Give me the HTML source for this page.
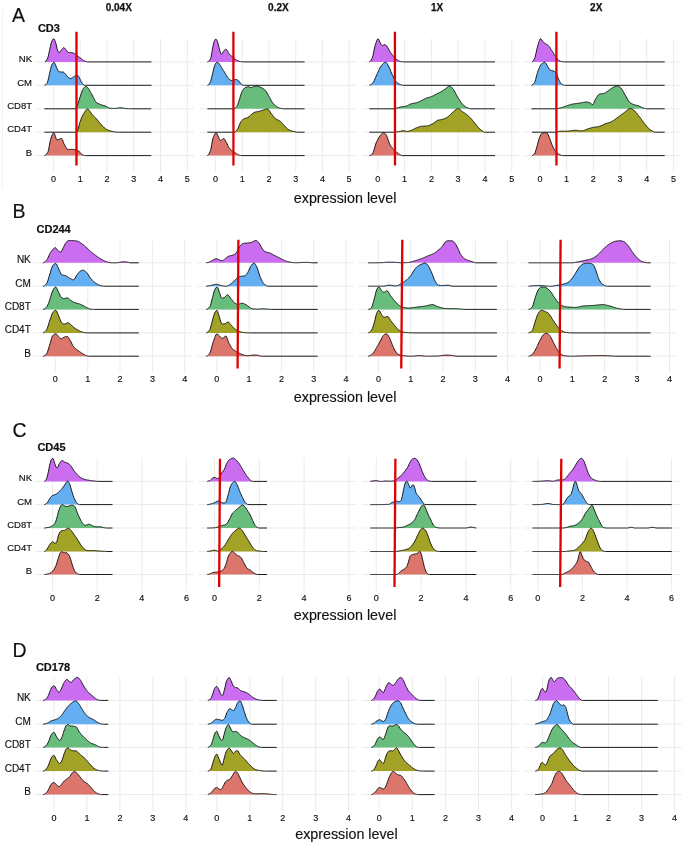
<!DOCTYPE html><html><head><meta charset="utf-8"><style>html,body{margin:0;padding:0;background:#fff;width:685px;height:845px;overflow:hidden;}svg{display:block;will-change:transform;}text{font-family:"Liberation Sans",sans-serif;}</style></head><body>
<svg width="685" height="845" viewBox="0 0 685 845">
<rect width="685" height="845" fill="#fff"/>
<line x1="2.5" y1="10" x2="2.5" y2="188" stroke="#f2f2f2" stroke-width="1"/>
<text x="118.8" y="11.0" font-size="10" font-weight="bold" text-anchor="middle" fill="#111" stroke="#111" stroke-width="0.25">0.04X</text>
<text x="278.4" y="11.0" font-size="10" font-weight="bold" text-anchor="middle" fill="#111" stroke="#111" stroke-width="0.25">0.2X</text>
<text x="437.1" y="11.0" font-size="10" font-weight="bold" text-anchor="middle" fill="#111" stroke="#111" stroke-width="0.25">1X</text>
<text x="596.2" y="11.0" font-size="10" font-weight="bold" text-anchor="middle" fill="#111" stroke="#111" stroke-width="0.25">2X</text>
<text x="12.1" y="21.7" font-size="19.5" fill="#111" stroke="#111" stroke-width="0.15">A</text>
<text x="37.9" y="32.3" font-size="11" font-weight="bold" fill="#111" stroke="#111" stroke-width="0.2">CD3</text>
<text x="32.0" y="62.0" font-size="9.5" text-anchor="end" fill="#111" stroke="#111" stroke-width="0.15">NK</text>
<text x="32.0" y="85.5" font-size="9.5" text-anchor="end" fill="#111" stroke="#111" stroke-width="0.15">CM</text>
<text x="32.0" y="108.9" font-size="9.5" text-anchor="end" fill="#111" stroke="#111" stroke-width="0.15">CD8T</text>
<text x="32.0" y="132.35" font-size="9.5" text-anchor="end" fill="#111" stroke="#111" stroke-width="0.15">CD4T</text>
<text x="32.0" y="155.75" font-size="9.5" text-anchor="end" fill="#111" stroke="#111" stroke-width="0.15">B</text>
<text x="293.8" y="203.4" font-size="14.3" fill="#111" stroke="#111" stroke-width="0.15">expression level</text>
<path d="M35.1 61.9H193.9 M35.1 85.3H193.9 M35.1 108.8H193.9 M35.1 132.2H193.9 M35.1 155.6H193.9 M53.4 38.7V172.4 M80.2 38.7V172.4 M107 38.7V172.4 M133.7 38.7V172.4 M160.5 38.7V172.4 M187.3 38.7V172.4" stroke="#ebebeb" stroke-width="1" fill="none"/>
<text x="53.4" y="181.7" font-size="9" text-anchor="middle" fill="#111" stroke="#111" stroke-width="0.15">0</text>
<text x="80.2" y="181.7" font-size="9" text-anchor="middle" fill="#111" stroke="#111" stroke-width="0.15">1</text>
<text x="107" y="181.7" font-size="9" text-anchor="middle" fill="#111" stroke="#111" stroke-width="0.15">2</text>
<text x="133.7" y="181.7" font-size="9" text-anchor="middle" fill="#111" stroke="#111" stroke-width="0.15">3</text>
<text x="160.5" y="181.7" font-size="9" text-anchor="middle" fill="#111" stroke="#111" stroke-width="0.15">4</text>
<text x="187.3" y="181.7" font-size="9" text-anchor="middle" fill="#111" stroke="#111" stroke-width="0.15">5</text>
<path d="M44.8 61.9 L44.8 61.9 L45.4 61.6 L46 61 L46.6 60.1 L47.3 59.1 L47.9 57.6 L48.5 55.2 L49.1 52.3 L49.7 49.6 L50.3 46.6 L51 43.7 L51.6 41.8 L52.2 40.4 L52.8 39.4 L53.4 38.8 L54 39 L54.7 40.1 L55.3 41.7 L55.9 43.4 L56.5 46 L57.1 48.8 L57.7 50.8 L58.4 52.3 L59 52.7 L59.6 52.3 L60.2 51.5 L60.8 50.5 L61.4 49.7 L62 49.1 L62.7 48.4 L63.3 47.8 L63.9 47.7 L64.5 48 L65.1 48.7 L65.7 49.5 L66.4 50.2 L67 51 L67.6 51.8 L68.2 52.4 L68.8 52.5 L69.4 52.5 L70.1 52.5 L70.7 52.5 L71.3 52.6 L71.9 52.7 L72.5 52.8 L73.1 53 L73.7 53.2 L74.4 53.5 L75 53.9 L75.6 54.4 L76.2 54.9 L76.8 55.4 L77.4 55.8 L78.1 56.3 L78.7 56.7 L79.3 57.2 L79.9 57.7 L80.5 58.1 L81.1 58.6 L81.8 59.2 L82.4 59.7 L83 60.2 L83.6 60.6 L84.2 60.8 L84.8 61.1 L85.5 61.4 L86.1 61.6 L86.7 61.7 L87.3 61.9 L87.3 61.9Z" fill="#CB6DF0" stroke="none"/>
<path d="M44.8 61.9 L45.4 61.6 L46 61 L46.6 60.1 L47.3 59.1 L47.9 57.6 L48.5 55.2 L49.1 52.3 L49.7 49.6 L50.3 46.6 L51 43.7 L51.6 41.8 L52.2 40.4 L52.8 39.4 L53.4 38.8 L54 39 L54.7 40.1 L55.3 41.7 L55.9 43.4 L56.5 46 L57.1 48.8 L57.7 50.8 L58.4 52.3 L59 52.7 L59.6 52.3 L60.2 51.5 L60.8 50.5 L61.4 49.7 L62 49.1 L62.7 48.4 L63.3 47.8 L63.9 47.7 L64.5 48 L65.1 48.7 L65.7 49.5 L66.4 50.2 L67 51 L67.6 51.8 L68.2 52.4 L68.8 52.5 L69.4 52.5 L70.1 52.5 L70.7 52.5 L71.3 52.6 L71.9 52.7 L72.5 52.8 L73.1 53 L73.7 53.2 L74.4 53.5 L75 53.9 L75.6 54.4 L76.2 54.9 L76.8 55.4 L77.4 55.8 L78.1 56.3 L78.7 56.7 L79.3 57.2 L79.9 57.7 L80.5 58.1 L81.1 58.6 L81.8 59.2 L82.4 59.7 L83 60.2 L83.6 60.6 L84.2 60.8 L84.8 61.1 L85.5 61.4 L86.1 61.6 L86.7 61.7 L87.3 61.9 L151.5 61.9" fill="none" stroke="#111" stroke-width="0.95" stroke-linejoin="round"/>
<path d="M44.4 85.3 L44.4 85.3 L45 85.2 L45.6 84.8 L46.2 84.2 L46.9 83.4 L47.5 82.3 L48.1 80.2 L48.7 77.5 L49.3 74.8 L49.9 72.3 L50.5 69.5 L51.1 66.9 L51.8 65 L52.4 63.9 L53 63 L53.6 62.4 L54.2 62.3 L54.8 63.3 L55.4 64.8 L56.1 66.3 L56.7 67.7 L57.3 69.2 L57.9 70.4 L58.5 71.1 L59.1 71.5 L59.7 71.8 L60.3 72 L61 72 L61.6 72 L62.2 72 L62.8 72 L63.4 72.1 L64 72.5 L64.6 73.1 L65.3 73.9 L65.9 74.6 L66.5 75.4 L67.1 76.2 L67.7 76.9 L68.3 77.4 L68.9 77.8 L69.6 78.1 L70.2 78.4 L70.8 78.4 L71.4 78.3 L72 78 L72.6 77.6 L73.2 77.2 L73.8 76.8 L74.5 76.2 L75.1 75.7 L75.7 75.2 L76.3 74.8 L76.9 74.8 L77.5 75.1 L78.1 75.8 L78.8 76.6 L79.4 77.7 L80 79.1 L80.6 80.4 L81.2 81.6 L81.8 82.5 L82.4 83.5 L83 84.2 L83.7 84.8 L84.3 85.1 L84.9 85.3 L85.5 85.3 L85.5 85.3Z" fill="#63AFF2" stroke="none"/>
<path d="M44.4 85.3 L45 85.2 L45.6 84.8 L46.2 84.2 L46.9 83.4 L47.5 82.3 L48.1 80.2 L48.7 77.5 L49.3 74.8 L49.9 72.3 L50.5 69.5 L51.1 66.9 L51.8 65 L52.4 63.9 L53 63 L53.6 62.4 L54.2 62.3 L54.8 63.3 L55.4 64.8 L56.1 66.3 L56.7 67.7 L57.3 69.2 L57.9 70.4 L58.5 71.1 L59.1 71.5 L59.7 71.8 L60.3 72 L61 72 L61.6 72 L62.2 72 L62.8 72 L63.4 72.1 L64 72.5 L64.6 73.1 L65.3 73.9 L65.9 74.6 L66.5 75.4 L67.1 76.2 L67.7 76.9 L68.3 77.4 L68.9 77.8 L69.6 78.1 L70.2 78.4 L70.8 78.4 L71.4 78.3 L72 78 L72.6 77.6 L73.2 77.2 L73.8 76.8 L74.5 76.2 L75.1 75.7 L75.7 75.2 L76.3 74.8 L76.9 74.8 L77.5 75.1 L78.1 75.8 L78.8 76.6 L79.4 77.7 L80 79.1 L80.6 80.4 L81.2 81.6 L81.8 82.5 L82.4 83.5 L83 84.2 L83.7 84.8 L84.3 85.1 L84.9 85.3 L85.5 85.3 L151.5 85.3" fill="none" stroke="#111" stroke-width="0.95" stroke-linejoin="round"/>
<path d="M75.5 108.8 L75.5 108.8 L76.1 107.9 L76.7 106.8 L77.3 105.5 L77.9 103.8 L78.5 101.9 L79.2 99.9 L79.8 97.9 L80.4 96.1 L81 94.3 L81.6 92.4 L82.2 90.8 L82.8 89.5 L83.4 88.6 L84 87.8 L84.6 87.1 L85.3 86.6 L85.9 86.4 L86.5 86.5 L87.1 87 L87.7 87.7 L88.3 88.5 L88.9 89.3 L89.5 90.3 L90.1 91.4 L90.7 92.5 L91.4 93.6 L92 94.8 L92.6 96 L93.2 97.2 L93.8 98.3 L94.4 99.5 L95 100.7 L95.6 101.6 L96.2 102.3 L96.8 102.7 L97.5 103.1 L98.1 103.4 L98.7 103.7 L99.3 104 L99.9 104.2 L100.5 104.5 L101.1 104.7 L101.7 104.9 L102.3 105.1 L102.9 105.3 L103.6 105.5 L104.2 105.6 L104.8 105.8 L105.4 106 L106 106.3 L106.6 106.6 L107.2 107 L107.8 107.3 L108.4 107.7 L109 108 L109.7 108.2 L110.3 108.3 L110.9 108.3 L111.5 108.3 L112.1 108.4 L112.7 108.4 L113.3 108.4 L113.9 108.4 L114.5 108.4 L115.1 108.4 L115.8 108.4 L116.4 108.3 L117 108.3 L117.6 108.1 L118.2 108 L118.8 107.9 L119.4 107.8 L120 107.8 L120.6 107.8 L121.2 107.8 L121.9 107.8 L122.5 107.9 L123.1 108.1 L123.7 108.2 L124.3 108.3 L124.9 108.4 L125.5 108.5 L126.1 108.6 L126.7 108.6 L127.3 108.6 L128 108.7 L128.6 108.7 L129.2 108.7 L129.8 108.7 L130.4 108.7 L131 108.8 L131 108.8Z" fill="#68BD7D" stroke="none"/>
<path d="M44.4 108.8 L75.5 108.8 L76.1 107.9 L76.7 106.8 L77.3 105.5 L77.9 103.8 L78.5 101.9 L79.2 99.9 L79.8 97.9 L80.4 96.1 L81 94.3 L81.6 92.4 L82.2 90.8 L82.8 89.5 L83.4 88.6 L84 87.8 L84.6 87.1 L85.3 86.6 L85.9 86.4 L86.5 86.5 L87.1 87 L87.7 87.7 L88.3 88.5 L88.9 89.3 L89.5 90.3 L90.1 91.4 L90.7 92.5 L91.4 93.6 L92 94.8 L92.6 96 L93.2 97.2 L93.8 98.3 L94.4 99.5 L95 100.7 L95.6 101.6 L96.2 102.3 L96.8 102.7 L97.5 103.1 L98.1 103.4 L98.7 103.7 L99.3 104 L99.9 104.2 L100.5 104.5 L101.1 104.7 L101.7 104.9 L102.3 105.1 L102.9 105.3 L103.6 105.5 L104.2 105.6 L104.8 105.8 L105.4 106 L106 106.3 L106.6 106.6 L107.2 107 L107.8 107.3 L108.4 107.7 L109 108 L109.7 108.2 L110.3 108.3 L110.9 108.3 L111.5 108.3 L112.1 108.4 L112.7 108.4 L113.3 108.4 L113.9 108.4 L114.5 108.4 L115.1 108.4 L115.8 108.4 L116.4 108.3 L117 108.3 L117.6 108.1 L118.2 108 L118.8 107.9 L119.4 107.8 L120 107.8 L120.6 107.8 L121.2 107.8 L121.9 107.8 L122.5 107.9 L123.1 108.1 L123.7 108.2 L124.3 108.3 L124.9 108.4 L125.5 108.5 L126.1 108.6 L126.7 108.6 L127.3 108.6 L128 108.7 L128.6 108.7 L129.2 108.7 L129.8 108.7 L130.4 108.7 L131 108.8 L151.2 108.8" fill="none" stroke="#111" stroke-width="0.95" stroke-linejoin="round"/>
<path d="M76.5 132.2 L76.5 132.2 L77.1 131.2 L77.7 129.9 L78.3 128.1 L79 125.7 L79.6 123.4 L80.2 121.5 L80.8 119.9 L81.4 118.3 L82 116.8 L82.6 115.5 L83.2 114.3 L83.9 113.2 L84.5 112.3 L85.1 111.3 L85.7 110.4 L86.3 109.7 L86.9 109.1 L87.5 108.9 L88.1 109.1 L88.8 109.8 L89.4 110.7 L90 111.5 L90.6 112.3 L91.2 113.1 L91.8 114 L92.4 114.8 L93.1 115.5 L93.7 116.1 L94.3 116.7 L94.9 117.3 L95.5 117.9 L96.1 118.5 L96.7 119.2 L97.3 119.9 L98 120.7 L98.6 121.5 L99.2 122.2 L99.8 123 L100.4 123.7 L101 124.4 L101.6 125 L102.2 125.7 L102.9 126.3 L103.5 126.9 L104.1 127.5 L104.7 128.1 L105.3 128.6 L105.9 129 L106.5 129.4 L107.2 129.7 L107.8 130 L108.4 130.2 L109 130.5 L109.6 130.7 L110.2 130.9 L110.8 131.1 L111.4 131.2 L112.1 131.3 L112.7 131.5 L113.3 131.6 L113.9 131.7 L114.5 131.8 L115.1 131.9 L115.7 132 L116.3 132.1 L117 132.1 L117.6 132.2 L118.2 132.2 L118.8 132.2 L118.8 132.2Z" fill="#A2A326" stroke="none"/>
<path d="M44.4 132.2 L76.5 132.2 L77.1 131.2 L77.7 129.9 L78.3 128.1 L79 125.7 L79.6 123.4 L80.2 121.5 L80.8 119.9 L81.4 118.3 L82 116.8 L82.6 115.5 L83.2 114.3 L83.9 113.2 L84.5 112.3 L85.1 111.3 L85.7 110.4 L86.3 109.7 L86.9 109.1 L87.5 108.9 L88.1 109.1 L88.8 109.8 L89.4 110.7 L90 111.5 L90.6 112.3 L91.2 113.1 L91.8 114 L92.4 114.8 L93.1 115.5 L93.7 116.1 L94.3 116.7 L94.9 117.3 L95.5 117.9 L96.1 118.5 L96.7 119.2 L97.3 119.9 L98 120.7 L98.6 121.5 L99.2 122.2 L99.8 123 L100.4 123.7 L101 124.4 L101.6 125 L102.2 125.7 L102.9 126.3 L103.5 126.9 L104.1 127.5 L104.7 128.1 L105.3 128.6 L105.9 129 L106.5 129.4 L107.2 129.7 L107.8 130 L108.4 130.2 L109 130.5 L109.6 130.7 L110.2 130.9 L110.8 131.1 L111.4 131.2 L112.1 131.3 L112.7 131.5 L113.3 131.6 L113.9 131.7 L114.5 131.8 L115.1 131.9 L115.7 132 L116.3 132.1 L117 132.1 L117.6 132.2 L118.2 132.2 L118.8 132.2 L151.2 132.2" fill="none" stroke="#111" stroke-width="0.95" stroke-linejoin="round"/>
<path d="M44.4 155.6 L44.4 155.6 L45 155.5 L45.6 155.1 L46.2 154.5 L46.8 153.7 L47.5 152.7 L48.1 151.6 L48.7 149.2 L49.3 145.8 L49.9 142.3 L50.5 139.7 L51.1 137.9 L51.7 136.1 L52.4 134.5 L53 133.3 L53.6 132.8 L54.2 133.2 L54.8 134.6 L55.4 136.5 L56 138.3 L56.6 139.6 L57.2 139.8 L57.9 139.7 L58.5 139.5 L59.1 139.2 L59.7 138.9 L60.3 138.7 L60.9 138.5 L61.5 138.5 L62.1 139.2 L62.8 140.6 L63.4 142.3 L64 143.9 L64.6 145.1 L65.2 146.2 L65.8 147.2 L66.4 148.1 L67 148.9 L67.6 149.3 L68.3 149.4 L68.9 149.4 L69.5 149.4 L70.1 149.4 L70.7 149.4 L71.3 149.4 L71.9 149.4 L72.5 149.4 L73.2 149.4 L73.8 149.4 L74.4 149.5 L75 149.6 L75.6 149.7 L76.2 149.8 L76.8 150 L77.4 150.2 L78 150.5 L78.7 151 L79.3 151.7 L79.9 152.5 L80.5 153.2 L81.1 153.7 L81.7 154.1 L82.3 154.5 L82.9 154.9 L83.6 155.2 L84.2 155.4 L84.8 155.5 L85.4 155.6 L86 155.6 L86 155.6Z" fill="#DC756B" stroke="none"/>
<path d="M44.4 155.6 L45 155.5 L45.6 155.1 L46.2 154.5 L46.8 153.7 L47.5 152.7 L48.1 151.6 L48.7 149.2 L49.3 145.8 L49.9 142.3 L50.5 139.7 L51.1 137.9 L51.7 136.1 L52.4 134.5 L53 133.3 L53.6 132.8 L54.2 133.2 L54.8 134.6 L55.4 136.5 L56 138.3 L56.6 139.6 L57.2 139.8 L57.9 139.7 L58.5 139.5 L59.1 139.2 L59.7 138.9 L60.3 138.7 L60.9 138.5 L61.5 138.5 L62.1 139.2 L62.8 140.6 L63.4 142.3 L64 143.9 L64.6 145.1 L65.2 146.2 L65.8 147.2 L66.4 148.1 L67 148.9 L67.6 149.3 L68.3 149.4 L68.9 149.4 L69.5 149.4 L70.1 149.4 L70.7 149.4 L71.3 149.4 L71.9 149.4 L72.5 149.4 L73.2 149.4 L73.8 149.4 L74.4 149.5 L75 149.6 L75.6 149.7 L76.2 149.8 L76.8 150 L77.4 150.2 L78 150.5 L78.7 151 L79.3 151.7 L79.9 152.5 L80.5 153.2 L81.1 153.7 L81.7 154.1 L82.3 154.5 L82.9 154.9 L83.6 155.2 L84.2 155.4 L84.8 155.5 L85.4 155.6 L86 155.6 L151.2 155.6" fill="none" stroke="#111" stroke-width="0.95" stroke-linejoin="round"/>
<line x1="76.45" y1="31.8" x2="76.5" y2="165.6" stroke="#dd0000" stroke-width="2.3"/>
<path d="M199.9 61.9H356.4 M199.9 85.3H356.4 M199.9 108.8H356.4 M199.9 132.2H356.4 M199.9 155.6H356.4 M215.6 38.7V172.4 M242.3 38.7V172.4 M269 38.7V172.4 M295.7 38.7V172.4 M322.4 38.7V172.4 M349.1 38.7V172.4" stroke="#ebebeb" stroke-width="1" fill="none"/>
<text x="215.6" y="181.7" font-size="9" text-anchor="middle" fill="#111" stroke="#111" stroke-width="0.15">0</text>
<text x="242.3" y="181.7" font-size="9" text-anchor="middle" fill="#111" stroke="#111" stroke-width="0.15">1</text>
<text x="269" y="181.7" font-size="9" text-anchor="middle" fill="#111" stroke="#111" stroke-width="0.15">2</text>
<text x="295.7" y="181.7" font-size="9" text-anchor="middle" fill="#111" stroke="#111" stroke-width="0.15">3</text>
<text x="322.4" y="181.7" font-size="9" text-anchor="middle" fill="#111" stroke="#111" stroke-width="0.15">4</text>
<text x="349.1" y="181.7" font-size="9" text-anchor="middle" fill="#111" stroke="#111" stroke-width="0.15">5</text>
<path d="M207.4 61.9 L207.4 61.9 L208 61.7 L208.6 61.3 L209.2 60.7 L209.8 59.9 L210.5 58.9 L211.1 56.9 L211.7 53.6 L212.3 49.9 L212.9 46.8 L213.5 43.8 L214.1 41.5 L214.7 40.2 L215.4 39.3 L216 39.1 L216.6 39.7 L217.2 40.8 L217.8 42.6 L218.4 44.9 L219 47.5 L219.6 50.1 L220.3 52.1 L220.9 53.8 L221.5 54.4 L222.1 53.8 L222.7 52.7 L223.3 51.6 L223.9 50.8 L224.5 50.1 L225.2 49.5 L225.8 49.3 L226.4 49.5 L227 50.3 L227.6 51.2 L228.2 52.4 L228.8 53.5 L229.4 54.3 L230 54.9 L230.7 55.4 L231.3 55.9 L231.9 56.3 L232.5 56.8 L233.1 57.4 L233.7 57.9 L234.3 58.5 L234.9 59 L235.6 59.5 L236.2 59.9 L236.8 60.2 L237.4 60.5 L238 60.8 L238.6 61.1 L239.2 61.3 L239.8 61.4 L240.5 61.5 L241.1 61.7 L241.7 61.7 L242.3 61.8 L242.9 61.9 L242.9 61.9Z" fill="#CB6DF0" stroke="none"/>
<path d="M207.4 61.9 L208 61.7 L208.6 61.3 L209.2 60.7 L209.8 59.9 L210.5 58.9 L211.1 56.9 L211.7 53.6 L212.3 49.9 L212.9 46.8 L213.5 43.8 L214.1 41.5 L214.7 40.2 L215.4 39.3 L216 39.1 L216.6 39.7 L217.2 40.8 L217.8 42.6 L218.4 44.9 L219 47.5 L219.6 50.1 L220.3 52.1 L220.9 53.8 L221.5 54.4 L222.1 53.8 L222.7 52.7 L223.3 51.6 L223.9 50.8 L224.5 50.1 L225.2 49.5 L225.8 49.3 L226.4 49.5 L227 50.3 L227.6 51.2 L228.2 52.4 L228.8 53.5 L229.4 54.3 L230 54.9 L230.7 55.4 L231.3 55.9 L231.9 56.3 L232.5 56.8 L233.1 57.4 L233.7 57.9 L234.3 58.5 L234.9 59 L235.6 59.5 L236.2 59.9 L236.8 60.2 L237.4 60.5 L238 60.8 L238.6 61.1 L239.2 61.3 L239.8 61.4 L240.5 61.5 L241.1 61.7 L241.7 61.7 L242.3 61.8 L242.9 61.9 L304.6 61.9" fill="none" stroke="#111" stroke-width="0.95" stroke-linejoin="round"/>
<path d="M207.4 85.3 L207.4 85.3 L208 85.1 L208.6 84.6 L209.3 83.8 L209.9 82.7 L210.5 81.6 L211.1 79.9 L211.7 77.5 L212.3 74.9 L213 72.2 L213.6 69.2 L214.2 67 L214.8 65.2 L215.4 63.8 L216 63 L216.7 62.5 L217.3 62.3 L217.9 62.4 L218.5 62.9 L219.1 63.7 L219.7 64.5 L220.4 65.5 L221 66.6 L221.6 67.6 L222.2 68.6 L222.8 69.6 L223.4 70.6 L224.1 71.5 L224.7 72.5 L225.3 73.5 L225.9 74.5 L226.5 75.6 L227.1 76.6 L227.8 77.6 L228.4 78.5 L229 79 L229.6 79.5 L230.2 79.9 L230.8 80.2 L231.5 80.5 L232.1 80.6 L232.7 80.6 L233.3 80.4 L233.9 80.2 L234.5 79.8 L235.2 79.6 L235.8 79.5 L236.4 79.5 L237 79.7 L237.6 80.1 L238.2 80.5 L238.9 81 L239.5 81.7 L240.1 82.6 L240.7 83.4 L241.3 84.1 L241.9 84.7 L242.6 85.1 L243.2 85.3 L243.8 85.3 L243.8 85.3Z" fill="#63AFF2" stroke="none"/>
<path d="M207.4 85.3 L208 85.1 L208.6 84.6 L209.3 83.8 L209.9 82.7 L210.5 81.6 L211.1 79.9 L211.7 77.5 L212.3 74.9 L213 72.2 L213.6 69.2 L214.2 67 L214.8 65.2 L215.4 63.8 L216 63 L216.7 62.5 L217.3 62.3 L217.9 62.4 L218.5 62.9 L219.1 63.7 L219.7 64.5 L220.4 65.5 L221 66.6 L221.6 67.6 L222.2 68.6 L222.8 69.6 L223.4 70.6 L224.1 71.5 L224.7 72.5 L225.3 73.5 L225.9 74.5 L226.5 75.6 L227.1 76.6 L227.8 77.6 L228.4 78.5 L229 79 L229.6 79.5 L230.2 79.9 L230.8 80.2 L231.5 80.5 L232.1 80.6 L232.7 80.6 L233.3 80.4 L233.9 80.2 L234.5 79.8 L235.2 79.6 L235.8 79.5 L236.4 79.5 L237 79.7 L237.6 80.1 L238.2 80.5 L238.9 81 L239.5 81.7 L240.1 82.6 L240.7 83.4 L241.3 84.1 L241.9 84.7 L242.6 85.1 L243.2 85.3 L243.8 85.3 L304.6 85.3" fill="none" stroke="#111" stroke-width="0.95" stroke-linejoin="round"/>
<path d="M234.2 108.8 L234.2 108.8 L234.8 108.6 L235.4 108.1 L236 107.5 L236.6 106.8 L237.2 105.8 L237.9 104.3 L238.5 102.4 L239.1 100.5 L239.7 98.7 L240.3 96.7 L240.9 94.6 L241.5 92.7 L242.1 91.5 L242.7 90.5 L243.3 89.6 L243.9 88.8 L244.5 88.1 L245.2 87.6 L245.8 87.3 L246.4 87.1 L247 87 L247.6 86.9 L248.2 86.8 L248.8 86.8 L249.4 86.8 L250 87.3 L250.6 87.6 L251.2 87.6 L251.8 87.4 L252.5 87.1 L253.1 86.9 L253.7 86.7 L254.3 86.5 L254.9 86.3 L255.5 86.1 L256.1 86.1 L256.7 86.1 L257.3 86.1 L257.9 86.3 L258.5 86.5 L259.1 86.7 L259.8 87 L260.4 87.2 L261 87.5 L261.6 87.8 L262.2 88.1 L262.8 88.4 L263.4 88.8 L264 89.2 L264.6 89.7 L265.2 90.3 L265.8 91.1 L266.5 92 L267.1 93.1 L267.7 94.2 L268.3 95.3 L268.9 96.3 L269.5 97.3 L270.1 98.4 L270.7 99.5 L271.3 100.6 L271.9 101.6 L272.5 102.6 L273.1 103.4 L273.8 104.1 L274.4 104.7 L275 105.3 L275.6 105.9 L276.2 106.3 L276.8 106.8 L277.4 107.1 L278 107.5 L278.6 107.7 L279.2 108 L279.8 108.2 L280.4 108.3 L281.1 108.5 L281.7 108.5 L282.3 108.6 L282.9 108.7 L283.5 108.7 L284.1 108.8 L284.1 108.8Z" fill="#68BD7D" stroke="none"/>
<path d="M207.4 108.8 L234.2 108.8 L234.8 108.6 L235.4 108.1 L236 107.5 L236.6 106.8 L237.2 105.8 L237.9 104.3 L238.5 102.4 L239.1 100.5 L239.7 98.7 L240.3 96.7 L240.9 94.6 L241.5 92.7 L242.1 91.5 L242.7 90.5 L243.3 89.6 L243.9 88.8 L244.5 88.1 L245.2 87.6 L245.8 87.3 L246.4 87.1 L247 87 L247.6 86.9 L248.2 86.8 L248.8 86.8 L249.4 86.8 L250 87.3 L250.6 87.6 L251.2 87.6 L251.8 87.4 L252.5 87.1 L253.1 86.9 L253.7 86.7 L254.3 86.5 L254.9 86.3 L255.5 86.1 L256.1 86.1 L256.7 86.1 L257.3 86.1 L257.9 86.3 L258.5 86.5 L259.1 86.7 L259.8 87 L260.4 87.2 L261 87.5 L261.6 87.8 L262.2 88.1 L262.8 88.4 L263.4 88.8 L264 89.2 L264.6 89.7 L265.2 90.3 L265.8 91.1 L266.5 92 L267.1 93.1 L267.7 94.2 L268.3 95.3 L268.9 96.3 L269.5 97.3 L270.1 98.4 L270.7 99.5 L271.3 100.6 L271.9 101.6 L272.5 102.6 L273.1 103.4 L273.8 104.1 L274.4 104.7 L275 105.3 L275.6 105.9 L276.2 106.3 L276.8 106.8 L277.4 107.1 L278 107.5 L278.6 107.7 L279.2 108 L279.8 108.2 L280.4 108.3 L281.1 108.5 L281.7 108.5 L282.3 108.6 L282.9 108.7 L283.5 108.7 L284.1 108.8 L304.6 108.8" fill="none" stroke="#111" stroke-width="0.95" stroke-linejoin="round"/>
<path d="M235 132.2 L235 132.2 L235.6 131.7 L236.2 131 L236.8 130.3 L237.4 129.4 L238 128.4 L238.6 127.1 L239.2 125.5 L239.9 123.9 L240.5 122.4 L241.1 121.4 L241.7 120.7 L242.3 120.1 L242.9 119.6 L243.5 119.2 L244.1 118.8 L244.7 118.5 L245.3 118.3 L245.9 118.1 L246.5 118 L247.1 117.8 L247.7 117.5 L248.3 117.1 L249 116.6 L249.6 116 L250.2 115.5 L250.8 115 L251.4 114.5 L252 114 L252.6 113.5 L253.2 113 L253.8 112.6 L254.4 112.4 L255 112.2 L255.6 112 L256.2 111.9 L256.8 111.8 L257.4 111.6 L258.1 111.5 L258.7 111.4 L259.3 111.3 L259.9 111.1 L260.5 110.9 L261.1 110.7 L261.7 110.5 L262.3 110.3 L262.9 110.2 L263.5 110 L264.1 109.8 L264.7 109.5 L265.3 109.3 L265.9 109.1 L266.6 109 L267.2 108.9 L267.8 109 L268.4 109.5 L269 110.2 L269.6 111.2 L270.2 112.1 L270.8 113 L271.4 113.8 L272 114.6 L272.6 115.4 L273.2 116.2 L273.8 117 L274.4 117.7 L275 118.3 L275.7 118.8 L276.3 119.2 L276.9 119.5 L277.5 119.8 L278.1 120.1 L278.7 120.3 L279.3 120.7 L279.9 121 L280.5 121.4 L281.1 122 L281.7 122.6 L282.3 123.3 L282.9 124.1 L283.5 124.9 L284.1 125.5 L284.8 126.2 L285.4 126.9 L286 127.6 L286.6 128.2 L287.2 128.7 L287.8 129.1 L288.4 129.5 L289 129.8 L289.6 130.1 L290.2 130.4 L290.8 130.6 L291.4 130.9 L292 131.1 L292.6 131.2 L293.2 131.4 L293.9 131.5 L294.5 131.7 L295.1 131.8 L295.7 131.9 L296.3 132 L296.9 132.1 L297.5 132.2 L298.1 132.2 L298.1 132.2Z" fill="#A2A326" stroke="none"/>
<path d="M207.4 132.2 L235 132.2 L235.6 131.7 L236.2 131 L236.8 130.3 L237.4 129.4 L238 128.4 L238.6 127.1 L239.2 125.5 L239.9 123.9 L240.5 122.4 L241.1 121.4 L241.7 120.7 L242.3 120.1 L242.9 119.6 L243.5 119.2 L244.1 118.8 L244.7 118.5 L245.3 118.3 L245.9 118.1 L246.5 118 L247.1 117.8 L247.7 117.5 L248.3 117.1 L249 116.6 L249.6 116 L250.2 115.5 L250.8 115 L251.4 114.5 L252 114 L252.6 113.5 L253.2 113 L253.8 112.6 L254.4 112.4 L255 112.2 L255.6 112 L256.2 111.9 L256.8 111.8 L257.4 111.6 L258.1 111.5 L258.7 111.4 L259.3 111.3 L259.9 111.1 L260.5 110.9 L261.1 110.7 L261.7 110.5 L262.3 110.3 L262.9 110.2 L263.5 110 L264.1 109.8 L264.7 109.5 L265.3 109.3 L265.9 109.1 L266.6 109 L267.2 108.9 L267.8 109 L268.4 109.5 L269 110.2 L269.6 111.2 L270.2 112.1 L270.8 113 L271.4 113.8 L272 114.6 L272.6 115.4 L273.2 116.2 L273.8 117 L274.4 117.7 L275 118.3 L275.7 118.8 L276.3 119.2 L276.9 119.5 L277.5 119.8 L278.1 120.1 L278.7 120.3 L279.3 120.7 L279.9 121 L280.5 121.4 L281.1 122 L281.7 122.6 L282.3 123.3 L282.9 124.1 L283.5 124.9 L284.1 125.5 L284.8 126.2 L285.4 126.9 L286 127.6 L286.6 128.2 L287.2 128.7 L287.8 129.1 L288.4 129.5 L289 129.8 L289.6 130.1 L290.2 130.4 L290.8 130.6 L291.4 130.9 L292 131.1 L292.6 131.2 L293.2 131.4 L293.9 131.5 L294.5 131.7 L295.1 131.8 L295.7 131.9 L296.3 132 L296.9 132.1 L297.5 132.2 L298.1 132.2 L304.6 132.2" fill="none" stroke="#111" stroke-width="0.95" stroke-linejoin="round"/>
<path d="M207.4 155.6 L207.4 155.6 L208 155.3 L208.6 154.5 L209.2 153.3 L209.9 151.9 L210.5 150.4 L211.1 148.1 L211.7 144.7 L212.3 141.2 L212.9 138.5 L213.5 136.9 L214.2 135.4 L214.8 134.1 L215.4 133.2 L216 132.8 L216.6 133.1 L217.2 134.2 L217.8 135.7 L218.5 137.2 L219.1 138.3 L219.7 139.5 L220.3 140.4 L220.9 140.6 L221.5 140.2 L222.1 139.6 L222.8 138.9 L223.4 138.5 L224 138.5 L224.6 139.2 L225.2 140.3 L225.8 141.5 L226.5 142.7 L227.1 143.9 L227.7 145.3 L228.3 146.6 L228.9 147.6 L229.5 148.4 L230.1 149.1 L230.8 149.7 L231.4 150.3 L232 150.8 L232.6 151.2 L233.2 151.7 L233.8 152.1 L234.4 152.4 L235.1 152.8 L235.7 153.1 L236.3 153.5 L236.9 153.9 L237.5 154.3 L238.1 154.7 L238.7 155 L239.4 155.2 L240 155.4 L240.6 155.5 L241.2 155.6 L241.2 155.6Z" fill="#DC756B" stroke="none"/>
<path d="M207.4 155.6 L208 155.3 L208.6 154.5 L209.2 153.3 L209.9 151.9 L210.5 150.4 L211.1 148.1 L211.7 144.7 L212.3 141.2 L212.9 138.5 L213.5 136.9 L214.2 135.4 L214.8 134.1 L215.4 133.2 L216 132.8 L216.6 133.1 L217.2 134.2 L217.8 135.7 L218.5 137.2 L219.1 138.3 L219.7 139.5 L220.3 140.4 L220.9 140.6 L221.5 140.2 L222.1 139.6 L222.8 138.9 L223.4 138.5 L224 138.5 L224.6 139.2 L225.2 140.3 L225.8 141.5 L226.5 142.7 L227.1 143.9 L227.7 145.3 L228.3 146.6 L228.9 147.6 L229.5 148.4 L230.1 149.1 L230.8 149.7 L231.4 150.3 L232 150.8 L232.6 151.2 L233.2 151.7 L233.8 152.1 L234.4 152.4 L235.1 152.8 L235.7 153.1 L236.3 153.5 L236.9 153.9 L237.5 154.3 L238.1 154.7 L238.7 155 L239.4 155.2 L240 155.4 L240.6 155.5 L241.2 155.6 L304.6 155.6" fill="none" stroke="#111" stroke-width="0.95" stroke-linejoin="round"/>
<line x1="233.4" y1="31.8" x2="233.45" y2="165.6" stroke="#dd0000" stroke-width="2.3"/>
<path d="M362.2 61.9H518.7 M362.2 85.3H518.7 M362.2 108.8H518.7 M362.2 132.2H518.7 M362.2 155.6H518.7 M377.8 38.7V172.4 M404.6 38.7V172.4 M431.4 38.7V172.4 M458.1 38.7V172.4 M484.9 38.7V172.4 M511.7 38.7V172.4" stroke="#ebebeb" stroke-width="1" fill="none"/>
<text x="377.8" y="181.7" font-size="9" text-anchor="middle" fill="#111" stroke="#111" stroke-width="0.15">0</text>
<text x="404.6" y="181.7" font-size="9" text-anchor="middle" fill="#111" stroke="#111" stroke-width="0.15">1</text>
<text x="431.4" y="181.7" font-size="9" text-anchor="middle" fill="#111" stroke="#111" stroke-width="0.15">2</text>
<text x="458.1" y="181.7" font-size="9" text-anchor="middle" fill="#111" stroke="#111" stroke-width="0.15">3</text>
<text x="484.9" y="181.7" font-size="9" text-anchor="middle" fill="#111" stroke="#111" stroke-width="0.15">4</text>
<text x="511.7" y="181.7" font-size="9" text-anchor="middle" fill="#111" stroke="#111" stroke-width="0.15">5</text>
<path d="M369.4 61.9 L369.4 61.9 L370 61.6 L370.6 60.9 L371.2 59.9 L371.9 58.6 L372.5 57.2 L373.1 55.2 L373.7 52.2 L374.3 49 L374.9 46.3 L375.5 44.3 L376.2 42.4 L376.8 40.6 L377.4 39.3 L378 38.8 L378.6 39.2 L379.2 40.5 L379.8 42 L380.5 43.2 L381.1 44.3 L381.7 45.2 L382.3 45.7 L382.9 45.6 L383.5 45.1 L384.1 44.6 L384.8 44.6 L385.4 44.9 L386 45.3 L386.6 45.8 L387.2 46.6 L387.8 47.7 L388.5 48.9 L389.1 50.2 L389.7 51.3 L390.3 52.3 L390.9 53.1 L391.5 53.9 L392.1 54.7 L392.8 55.4 L393.4 56.1 L394 56.8 L394.6 57.5 L395.2 58.1 L395.8 58.8 L396.4 59.3 L397.1 59.8 L397.7 60.2 L398.3 60.6 L398.9 60.9 L399.5 61.2 L400.1 61.4 L400.7 61.5 L401.4 61.7 L402 61.8 L402.6 61.8 L403.2 61.9 L403.2 61.9Z" fill="#CB6DF0" stroke="none"/>
<path d="M369.4 61.9 L370 61.6 L370.6 60.9 L371.2 59.9 L371.9 58.6 L372.5 57.2 L373.1 55.2 L373.7 52.2 L374.3 49 L374.9 46.3 L375.5 44.3 L376.2 42.4 L376.8 40.6 L377.4 39.3 L378 38.8 L378.6 39.2 L379.2 40.5 L379.8 42 L380.5 43.2 L381.1 44.3 L381.7 45.2 L382.3 45.7 L382.9 45.6 L383.5 45.1 L384.1 44.6 L384.8 44.6 L385.4 44.9 L386 45.3 L386.6 45.8 L387.2 46.6 L387.8 47.7 L388.5 48.9 L389.1 50.2 L389.7 51.3 L390.3 52.3 L390.9 53.1 L391.5 53.9 L392.1 54.7 L392.8 55.4 L393.4 56.1 L394 56.8 L394.6 57.5 L395.2 58.1 L395.8 58.8 L396.4 59.3 L397.1 59.8 L397.7 60.2 L398.3 60.6 L398.9 60.9 L399.5 61.2 L400.1 61.4 L400.7 61.5 L401.4 61.7 L402 61.8 L402.6 61.8 L403.2 61.9 L495 61.9" fill="none" stroke="#111" stroke-width="0.95" stroke-linejoin="round"/>
<path d="M369.4 85.3 L369.4 85.3 L370 85.2 L370.6 84.9 L371.2 84.5 L371.9 83.9 L372.5 83.4 L373.1 82.6 L373.7 81.6 L374.3 80.4 L374.9 79 L375.5 77.6 L376.2 76.1 L376.8 74.8 L377.4 73.5 L378 72.2 L378.6 70.8 L379.2 69.4 L379.8 68.1 L380.5 67 L381.1 66 L381.7 65.3 L382.3 64.6 L382.9 63.9 L383.5 63.3 L384.1 62.8 L384.8 62.5 L385.4 62.3 L386 62.3 L386.6 62.9 L387.2 63.8 L387.8 64.9 L388.5 66 L389.1 67.2 L389.7 68.6 L390.3 70.1 L390.9 71.6 L391.5 73 L392.1 74.4 L392.8 75.8 L393.4 77.1 L394 78.4 L394.6 79.6 L395.2 80.5 L395.8 81.3 L396.4 81.9 L397.1 82.5 L397.7 83 L398.3 83.5 L398.9 83.8 L399.5 84.1 L400.1 84.4 L400.7 84.7 L401.4 84.9 L402 85.1 L402.6 85.3 L403.2 85.3 L403.2 85.3Z" fill="#63AFF2" stroke="none"/>
<path d="M369.4 85.3 L370 85.2 L370.6 84.9 L371.2 84.5 L371.9 83.9 L372.5 83.4 L373.1 82.6 L373.7 81.6 L374.3 80.4 L374.9 79 L375.5 77.6 L376.2 76.1 L376.8 74.8 L377.4 73.5 L378 72.2 L378.6 70.8 L379.2 69.4 L379.8 68.1 L380.5 67 L381.1 66 L381.7 65.3 L382.3 64.6 L382.9 63.9 L383.5 63.3 L384.1 62.8 L384.8 62.5 L385.4 62.3 L386 62.3 L386.6 62.9 L387.2 63.8 L387.8 64.9 L388.5 66 L389.1 67.2 L389.7 68.6 L390.3 70.1 L390.9 71.6 L391.5 73 L392.1 74.4 L392.8 75.8 L393.4 77.1 L394 78.4 L394.6 79.6 L395.2 80.5 L395.8 81.3 L396.4 81.9 L397.1 82.5 L397.7 83 L398.3 83.5 L398.9 83.8 L399.5 84.1 L400.1 84.4 L400.7 84.7 L401.4 84.9 L402 85.1 L402.6 85.3 L403.2 85.3 L495 85.3" fill="none" stroke="#111" stroke-width="0.95" stroke-linejoin="round"/>
<path d="M394.9 108.8 L394.9 108.8 L395.5 108.6 L396.1 108.4 L396.7 108.2 L397.3 108 L397.9 107.8 L398.5 107.6 L399.2 107.4 L399.8 107.2 L400.4 107 L401 106.9 L401.6 106.8 L402.2 106.7 L402.8 106.6 L403.4 106.5 L404 106.5 L404.6 106.4 L405.2 106.3 L405.8 106.2 L406.4 106.1 L407 105.9 L407.7 105.6 L408.3 105.2 L408.9 104.9 L409.5 104.5 L410.1 104.2 L410.7 104 L411.3 103.8 L411.9 103.6 L412.5 103.5 L413.1 103.4 L413.7 103.3 L414.3 103.2 L414.9 103.1 L415.5 103 L416.2 102.8 L416.8 102.7 L417.4 102.5 L418 102.2 L418.6 102 L419.2 101.7 L419.8 101.4 L420.4 101.1 L421 100.8 L421.6 100.5 L422.2 100.2 L422.8 99.9 L423.4 99.6 L424 99.3 L424.7 99 L425.3 98.6 L425.9 98.3 L426.5 98.1 L427.1 97.8 L427.7 97.6 L428.3 97.5 L428.9 97.3 L429.5 97.2 L430.1 97 L430.7 96.9 L431.3 96.7 L431.9 96.4 L432.5 96.1 L433.2 95.8 L433.8 95.5 L434.4 95.2 L435 94.8 L435.6 94.5 L436.2 94.2 L436.8 93.9 L437.4 93.6 L438 93.3 L438.6 93 L439.2 92.7 L439.8 92.4 L440.4 92.1 L441.1 91.8 L441.7 91.4 L442.3 91 L442.9 90.6 L443.5 90.2 L444.1 89.8 L444.7 89.3 L445.3 88.9 L445.9 88.5 L446.5 88 L447.1 87.5 L447.7 87 L448.3 86.5 L448.9 86.2 L449.6 86.1 L450.2 86.1 L450.8 86.5 L451.4 87 L452 87.7 L452.6 88.5 L453.2 89.3 L453.8 90.1 L454.4 91 L455 92.1 L455.6 93.3 L456.2 94.5 L456.8 95.7 L457.4 96.8 L458.1 97.8 L458.7 98.8 L459.3 99.8 L459.9 100.7 L460.5 101.7 L461.1 102.5 L461.7 103.3 L462.3 104 L462.9 104.6 L463.5 105.1 L464.1 105.7 L464.7 106.2 L465.3 106.6 L465.9 107 L466.6 107.4 L467.2 107.7 L467.8 108 L468.4 108.2 L469 108.4 L469.6 108.6 L470.2 108.8 L470.2 108.8Z" fill="#68BD7D" stroke="none"/>
<path d="M369.4 108.8 L394.9 108.8 L395.5 108.6 L396.1 108.4 L396.7 108.2 L397.3 108 L397.9 107.8 L398.5 107.6 L399.2 107.4 L399.8 107.2 L400.4 107 L401 106.9 L401.6 106.8 L402.2 106.7 L402.8 106.6 L403.4 106.5 L404 106.5 L404.6 106.4 L405.2 106.3 L405.8 106.2 L406.4 106.1 L407 105.9 L407.7 105.6 L408.3 105.2 L408.9 104.9 L409.5 104.5 L410.1 104.2 L410.7 104 L411.3 103.8 L411.9 103.6 L412.5 103.5 L413.1 103.4 L413.7 103.3 L414.3 103.2 L414.9 103.1 L415.5 103 L416.2 102.8 L416.8 102.7 L417.4 102.5 L418 102.2 L418.6 102 L419.2 101.7 L419.8 101.4 L420.4 101.1 L421 100.8 L421.6 100.5 L422.2 100.2 L422.8 99.9 L423.4 99.6 L424 99.3 L424.7 99 L425.3 98.6 L425.9 98.3 L426.5 98.1 L427.1 97.8 L427.7 97.6 L428.3 97.5 L428.9 97.3 L429.5 97.2 L430.1 97 L430.7 96.9 L431.3 96.7 L431.9 96.4 L432.5 96.1 L433.2 95.8 L433.8 95.5 L434.4 95.2 L435 94.8 L435.6 94.5 L436.2 94.2 L436.8 93.9 L437.4 93.6 L438 93.3 L438.6 93 L439.2 92.7 L439.8 92.4 L440.4 92.1 L441.1 91.8 L441.7 91.4 L442.3 91 L442.9 90.6 L443.5 90.2 L444.1 89.8 L444.7 89.3 L445.3 88.9 L445.9 88.5 L446.5 88 L447.1 87.5 L447.7 87 L448.3 86.5 L448.9 86.2 L449.6 86.1 L450.2 86.1 L450.8 86.5 L451.4 87 L452 87.7 L452.6 88.5 L453.2 89.3 L453.8 90.1 L454.4 91 L455 92.1 L455.6 93.3 L456.2 94.5 L456.8 95.7 L457.4 96.8 L458.1 97.8 L458.7 98.8 L459.3 99.8 L459.9 100.7 L460.5 101.7 L461.1 102.5 L461.7 103.3 L462.3 104 L462.9 104.6 L463.5 105.1 L464.1 105.7 L464.7 106.2 L465.3 106.6 L465.9 107 L466.6 107.4 L467.2 107.7 L467.8 108 L468.4 108.2 L469 108.4 L469.6 108.6 L470.2 108.8 L495 108.8" fill="none" stroke="#111" stroke-width="0.95" stroke-linejoin="round"/>
<path d="M394.9 132.2 L394.9 132.2 L395.5 132.1 L396.1 132 L396.7 131.9 L397.3 131.8 L397.9 131.7 L398.5 131.6 L399.2 131.5 L399.8 131.4 L400.4 131.3 L401 131.1 L401.6 130.9 L402.2 130.8 L402.8 130.7 L403.4 130.7 L404 130.8 L404.6 130.9 L405.2 131 L405.8 131.2 L406.4 131.3 L407 131.4 L407.7 131.4 L408.3 131.3 L408.9 131.2 L409.5 131 L410.1 130.8 L410.7 130.6 L411.3 130.3 L411.9 130.1 L412.5 129.8 L413.1 129.5 L413.7 129.2 L414.3 128.9 L414.9 128.5 L415.6 128.2 L416.2 128 L416.8 127.7 L417.4 127.5 L418 127.3 L418.6 127 L419.2 126.8 L419.8 126.7 L420.4 126.5 L421 126.4 L421.6 126.3 L422.2 126.2 L422.8 126.2 L423.5 126.2 L424.1 126.1 L424.7 126.1 L425.3 126.1 L425.9 126 L426.5 126 L427.1 125.9 L427.7 125.8 L428.3 125.7 L428.9 125.5 L429.5 125.3 L430.1 125 L430.7 124.7 L431.3 124.4 L432 124.1 L432.6 123.8 L433.2 123.5 L433.8 123.1 L434.4 122.6 L435 122.1 L435.6 121.6 L436.2 121.2 L436.8 120.8 L437.4 120.4 L438 120.2 L438.6 120.1 L439.2 120 L439.9 119.9 L440.5 119.8 L441.1 119.6 L441.7 119.5 L442.3 119.4 L442.9 119.2 L443.5 119 L444.1 118.8 L444.7 118.6 L445.3 118.3 L445.9 118 L446.5 117.7 L447.1 117.4 L447.8 116.9 L448.4 116.4 L449 115.9 L449.6 115.3 L450.2 114.7 L450.8 114.2 L451.4 113.6 L452 113.1 L452.6 112.6 L453.2 112 L453.8 111.4 L454.4 110.8 L455 110.2 L455.6 109.7 L456.3 109.2 L456.9 108.9 L457.5 108.7 L458.1 108.6 L458.7 108.7 L459.3 109 L459.9 109.5 L460.5 110 L461.1 110.5 L461.7 111.1 L462.3 111.5 L462.9 111.9 L463.5 112.4 L464.2 112.8 L464.8 113.2 L465.4 113.7 L466 114.1 L466.6 114.5 L467.2 115 L467.8 115.5 L468.4 116 L469 116.5 L469.6 117.1 L470.2 117.7 L470.8 118.4 L471.4 119.1 L472.1 119.8 L472.7 120.6 L473.3 121.3 L473.9 122 L474.5 122.8 L475.1 123.5 L475.7 124.2 L476.3 125 L476.9 125.7 L477.5 126.4 L478.1 127.2 L478.7 127.8 L479.3 128.5 L479.9 129 L480.6 129.6 L481.2 130.1 L481.8 130.6 L482.4 131 L483 131.4 L483.6 131.8 L484.2 132.2 L484.2 132.2Z" fill="#A2A326" stroke="none"/>
<path d="M369.4 132.2 L394.9 132.2 L395.5 132.1 L396.1 132 L396.7 131.9 L397.3 131.8 L397.9 131.7 L398.5 131.6 L399.2 131.5 L399.8 131.4 L400.4 131.3 L401 131.1 L401.6 130.9 L402.2 130.8 L402.8 130.7 L403.4 130.7 L404 130.8 L404.6 130.9 L405.2 131 L405.8 131.2 L406.4 131.3 L407 131.4 L407.7 131.4 L408.3 131.3 L408.9 131.2 L409.5 131 L410.1 130.8 L410.7 130.6 L411.3 130.3 L411.9 130.1 L412.5 129.8 L413.1 129.5 L413.7 129.2 L414.3 128.9 L414.9 128.5 L415.6 128.2 L416.2 128 L416.8 127.7 L417.4 127.5 L418 127.3 L418.6 127 L419.2 126.8 L419.8 126.7 L420.4 126.5 L421 126.4 L421.6 126.3 L422.2 126.2 L422.8 126.2 L423.5 126.2 L424.1 126.1 L424.7 126.1 L425.3 126.1 L425.9 126 L426.5 126 L427.1 125.9 L427.7 125.8 L428.3 125.7 L428.9 125.5 L429.5 125.3 L430.1 125 L430.7 124.7 L431.3 124.4 L432 124.1 L432.6 123.8 L433.2 123.5 L433.8 123.1 L434.4 122.6 L435 122.1 L435.6 121.6 L436.2 121.2 L436.8 120.8 L437.4 120.4 L438 120.2 L438.6 120.1 L439.2 120 L439.9 119.9 L440.5 119.8 L441.1 119.6 L441.7 119.5 L442.3 119.4 L442.9 119.2 L443.5 119 L444.1 118.8 L444.7 118.6 L445.3 118.3 L445.9 118 L446.5 117.7 L447.1 117.4 L447.8 116.9 L448.4 116.4 L449 115.9 L449.6 115.3 L450.2 114.7 L450.8 114.2 L451.4 113.6 L452 113.1 L452.6 112.6 L453.2 112 L453.8 111.4 L454.4 110.8 L455 110.2 L455.6 109.7 L456.3 109.2 L456.9 108.9 L457.5 108.7 L458.1 108.6 L458.7 108.7 L459.3 109 L459.9 109.5 L460.5 110 L461.1 110.5 L461.7 111.1 L462.3 111.5 L462.9 111.9 L463.5 112.4 L464.2 112.8 L464.8 113.2 L465.4 113.7 L466 114.1 L466.6 114.5 L467.2 115 L467.8 115.5 L468.4 116 L469 116.5 L469.6 117.1 L470.2 117.7 L470.8 118.4 L471.4 119.1 L472.1 119.8 L472.7 120.6 L473.3 121.3 L473.9 122 L474.5 122.8 L475.1 123.5 L475.7 124.2 L476.3 125 L476.9 125.7 L477.5 126.4 L478.1 127.2 L478.7 127.8 L479.3 128.5 L479.9 129 L480.6 129.6 L481.2 130.1 L481.8 130.6 L482.4 131 L483 131.4 L483.6 131.8 L484.2 132.2 L495 132.2" fill="none" stroke="#111" stroke-width="0.95" stroke-linejoin="round"/>
<path d="M369.4 155.6 L369.4 155.6 L370 155.5 L370.6 155.3 L371.2 155 L371.9 154.6 L372.5 154 L373.1 152.6 L373.7 150.9 L374.3 149.1 L374.9 147.2 L375.5 145 L376.1 143 L376.8 141.5 L377.4 140.2 L378 139.1 L378.6 138.1 L379.2 137.1 L379.8 136.1 L380.4 135.2 L381.1 134.4 L381.7 133.9 L382.3 133.4 L382.9 133 L383.5 132.8 L384.1 132.7 L384.7 133.1 L385.3 133.7 L386 134.5 L386.6 135.6 L387.2 137.1 L387.8 138.9 L388.4 140.6 L389 142.2 L389.6 143.8 L390.2 145.2 L390.9 146.1 L391.5 146.9 L392.1 147.6 L392.7 148.3 L393.3 148.9 L393.9 149.6 L394.5 150.2 L395.2 150.8 L395.8 151.4 L396.4 151.9 L397 152.5 L397.6 153 L398.2 153.5 L398.8 153.9 L399.4 154.3 L400.1 154.7 L400.7 155 L401.3 155.3 L401.9 155.6 L401.9 155.6Z" fill="#DC756B" stroke="none"/>
<path d="M369.4 155.6 L370 155.5 L370.6 155.3 L371.2 155 L371.9 154.6 L372.5 154 L373.1 152.6 L373.7 150.9 L374.3 149.1 L374.9 147.2 L375.5 145 L376.1 143 L376.8 141.5 L377.4 140.2 L378 139.1 L378.6 138.1 L379.2 137.1 L379.8 136.1 L380.4 135.2 L381.1 134.4 L381.7 133.9 L382.3 133.4 L382.9 133 L383.5 132.8 L384.1 132.7 L384.7 133.1 L385.3 133.7 L386 134.5 L386.6 135.6 L387.2 137.1 L387.8 138.9 L388.4 140.6 L389 142.2 L389.6 143.8 L390.2 145.2 L390.9 146.1 L391.5 146.9 L392.1 147.6 L392.7 148.3 L393.3 148.9 L393.9 149.6 L394.5 150.2 L395.2 150.8 L395.8 151.4 L396.4 151.9 L397 152.5 L397.6 153 L398.2 153.5 L398.8 153.9 L399.4 154.3 L400.1 154.7 L400.7 155 L401.3 155.3 L401.9 155.6 L495 155.6" fill="none" stroke="#111" stroke-width="0.95" stroke-linejoin="round"/>
<line x1="394.9" y1="31.8" x2="395.0" y2="165.6" stroke="#dd0000" stroke-width="2.3"/>
<path d="M524.2 61.9H680.5 M524.2 85.3H680.5 M524.2 108.8H680.5 M524.2 132.2H680.5 M524.2 155.6H680.5 M539.9 38.7V172.4 M566.6 38.7V172.4 M593.3 38.7V172.4 M620 38.7V172.4 M646.7 38.7V172.4 M673.4 38.7V172.4" stroke="#ebebeb" stroke-width="1" fill="none"/>
<text x="539.9" y="181.7" font-size="9" text-anchor="middle" fill="#111" stroke="#111" stroke-width="0.15">0</text>
<text x="566.6" y="181.7" font-size="9" text-anchor="middle" fill="#111" stroke="#111" stroke-width="0.15">1</text>
<text x="593.3" y="181.7" font-size="9" text-anchor="middle" fill="#111" stroke="#111" stroke-width="0.15">2</text>
<text x="620" y="181.7" font-size="9" text-anchor="middle" fill="#111" stroke="#111" stroke-width="0.15">3</text>
<text x="646.7" y="181.7" font-size="9" text-anchor="middle" fill="#111" stroke="#111" stroke-width="0.15">4</text>
<text x="673.4" y="181.7" font-size="9" text-anchor="middle" fill="#111" stroke="#111" stroke-width="0.15">5</text>
<path d="M531.9 61.9 L531.9 61.9 L532.5 61.6 L533.1 61 L533.8 60.1 L534.4 59 L535 57.5 L535.6 54.9 L536.3 51.9 L536.9 49.1 L537.5 46.9 L538.1 44.7 L538.8 42.4 L539.4 40.5 L540 39.2 L540.6 38.8 L541.2 39.2 L541.9 40.1 L542.5 41.2 L543.1 42.1 L543.7 42.6 L544.4 43 L545 43.4 L545.6 43.8 L546.2 44.2 L546.9 44.6 L547.5 44.9 L548.1 45.4 L548.7 46 L549.3 46.7 L550 47.7 L550.6 48.7 L551.2 49.7 L551.8 50.7 L552.5 51.7 L553.1 52.6 L553.7 53.6 L554.3 54.5 L555 55.5 L555.6 56.4 L556.2 57.3 L556.8 58.2 L557.4 59 L558.1 59.6 L558.7 60.2 L559.3 60.6 L559.9 61 L560.6 61.3 L561.2 61.4 L561.8 61.6 L562.4 61.7 L563.1 61.8 L563.7 61.8 L564.3 61.9 L564.3 61.9Z" fill="#CB6DF0" stroke="none"/>
<path d="M531.9 61.9 L532.5 61.6 L533.1 61 L533.8 60.1 L534.4 59 L535 57.5 L535.6 54.9 L536.3 51.9 L536.9 49.1 L537.5 46.9 L538.1 44.7 L538.8 42.4 L539.4 40.5 L540 39.2 L540.6 38.8 L541.2 39.2 L541.9 40.1 L542.5 41.2 L543.1 42.1 L543.7 42.6 L544.4 43 L545 43.4 L545.6 43.8 L546.2 44.2 L546.9 44.6 L547.5 44.9 L548.1 45.4 L548.7 46 L549.3 46.7 L550 47.7 L550.6 48.7 L551.2 49.7 L551.8 50.7 L552.5 51.7 L553.1 52.6 L553.7 53.6 L554.3 54.5 L555 55.5 L555.6 56.4 L556.2 57.3 L556.8 58.2 L557.4 59 L558.1 59.6 L558.7 60.2 L559.3 60.6 L559.9 61 L560.6 61.3 L561.2 61.4 L561.8 61.6 L562.4 61.7 L563.1 61.8 L563.7 61.8 L564.3 61.9 L664.7 61.9" fill="none" stroke="#111" stroke-width="0.95" stroke-linejoin="round"/>
<path d="M531.4 85.3 L531.4 85.3 L532 85.2 L532.6 84.8 L533.2 84.1 L533.9 83.4 L534.5 82.5 L535.1 81.2 L535.7 79.3 L536.3 76.9 L536.9 74.5 L537.5 72.4 L538.2 70.7 L538.8 69.1 L539.4 67.7 L540 66.3 L540.6 65.2 L541.2 64.3 L541.8 63.8 L542.5 63.3 L543.1 62.8 L543.7 62.5 L544.3 62.3 L544.9 62.3 L545.5 62.8 L546.1 63.8 L546.8 65 L547.4 66.1 L548 67.1 L548.6 68.1 L549.2 69 L549.8 69.8 L550.5 70.2 L551.1 70.4 L551.7 70.5 L552.3 70.7 L552.9 70.8 L553.5 70.9 L554.1 71.2 L554.8 71.7 L555.4 72.3 L556 73.1 L556.6 74 L557.2 75.4 L557.8 77.1 L558.4 78.9 L559.1 80.3 L559.7 81.4 L560.3 82.5 L560.9 83.4 L561.5 84 L562.1 84.4 L562.7 84.7 L563.4 85 L564 85.2 L564.6 85.3 L565.2 85.3 L565.2 85.3Z" fill="#63AFF2" stroke="none"/>
<path d="M531.4 85.3 L532 85.2 L532.6 84.8 L533.2 84.1 L533.9 83.4 L534.5 82.5 L535.1 81.2 L535.7 79.3 L536.3 76.9 L536.9 74.5 L537.5 72.4 L538.2 70.7 L538.8 69.1 L539.4 67.7 L540 66.3 L540.6 65.2 L541.2 64.3 L541.8 63.8 L542.5 63.3 L543.1 62.8 L543.7 62.5 L544.3 62.3 L544.9 62.3 L545.5 62.8 L546.1 63.8 L546.8 65 L547.4 66.1 L548 67.1 L548.6 68.1 L549.2 69 L549.8 69.8 L550.5 70.2 L551.1 70.4 L551.7 70.5 L552.3 70.7 L552.9 70.8 L553.5 70.9 L554.1 71.2 L554.8 71.7 L555.4 72.3 L556 73.1 L556.6 74 L557.2 75.4 L557.8 77.1 L558.4 78.9 L559.1 80.3 L559.7 81.4 L560.3 82.5 L560.9 83.4 L561.5 84 L562.1 84.4 L562.7 84.7 L563.4 85 L564 85.2 L564.6 85.3 L565.2 85.3 L664.7 85.3" fill="none" stroke="#111" stroke-width="0.95" stroke-linejoin="round"/>
<path d="M556.7 108.8 L556.7 108.8 L557.3 108.6 L557.9 108.5 L558.5 108.4 L559.1 108.2 L559.7 108.1 L560.3 107.9 L560.9 107.7 L561.5 107.6 L562.1 107.4 L562.8 107.2 L563.4 107 L564 106.7 L564.6 106.5 L565.2 106.3 L565.8 106.1 L566.4 105.9 L567 105.7 L567.6 105.5 L568.2 105.3 L568.8 105.1 L569.4 104.9 L570 104.8 L570.6 104.6 L571.2 104.4 L571.8 104.2 L572.4 104.1 L573 104 L573.7 103.9 L574.3 103.8 L574.9 103.7 L575.5 103.6 L576.1 103.5 L576.7 103.5 L577.3 103.4 L577.9 103.3 L578.5 103.2 L579.1 103.2 L579.7 103.1 L580.3 103 L580.9 102.9 L581.5 102.8 L582.1 102.6 L582.7 102.5 L583.3 102.4 L583.9 102.3 L584.5 102.2 L585.2 102.1 L585.8 102.1 L586.4 102.1 L587 102.1 L587.6 102.1 L588.2 102.3 L588.8 102.4 L589.4 102.6 L590 102.8 L590.6 103.2 L591.2 103.7 L591.8 104.2 L592.4 104.5 L593 104.5 L593.6 103.7 L594.2 102.4 L594.8 100.8 L595.4 99.3 L596.1 98.2 L596.7 97.3 L597.3 96.4 L597.9 95.5 L598.5 94.8 L599.1 94.3 L599.7 94 L600.3 93.9 L600.9 93.8 L601.5 93.8 L602.1 93.7 L602.7 93.7 L603.3 93.6 L603.9 93.5 L604.5 93.2 L605.1 92.9 L605.7 92.5 L606.3 92.1 L606.9 91.6 L607.6 91.2 L608.2 90.7 L608.8 90.3 L609.4 89.9 L610 89.5 L610.6 89 L611.2 88.6 L611.8 88.2 L612.4 87.8 L613 87.5 L613.6 87.2 L614.2 86.9 L614.8 86.6 L615.4 86.4 L616 86.2 L616.6 86 L617.2 86 L617.8 86 L618.5 86.2 L619.1 86.6 L619.7 87 L620.3 87.5 L620.9 88 L621.5 88.7 L622.1 89.6 L622.7 90.6 L623.3 91.7 L623.9 92.8 L624.5 93.9 L625.1 95 L625.7 96 L626.3 97 L626.9 98.1 L627.5 99.2 L628.1 100.2 L628.7 101.1 L629.3 101.9 L630 102.5 L630.6 103 L631.2 103.4 L631.8 103.7 L632.4 104 L633 104.3 L633.6 104.5 L634.2 104.7 L634.8 104.9 L635.4 105.1 L636 105.2 L636.6 105.4 L637.2 105.5 L637.8 105.6 L638.4 105.8 L639 106 L639.6 106.3 L640.2 106.6 L640.9 106.9 L641.5 107.3 L642.1 107.6 L642.7 107.8 L643.3 108 L643.9 108.2 L644.5 108.4 L645.1 108.5 L645.7 108.6 L646.3 108.8 L646.3 108.8Z" fill="#68BD7D" stroke="none"/>
<path d="M531.5 108.8 L556.7 108.8 L557.3 108.6 L557.9 108.5 L558.5 108.4 L559.1 108.2 L559.7 108.1 L560.3 107.9 L560.9 107.7 L561.5 107.6 L562.1 107.4 L562.8 107.2 L563.4 107 L564 106.7 L564.6 106.5 L565.2 106.3 L565.8 106.1 L566.4 105.9 L567 105.7 L567.6 105.5 L568.2 105.3 L568.8 105.1 L569.4 104.9 L570 104.8 L570.6 104.6 L571.2 104.4 L571.8 104.2 L572.4 104.1 L573 104 L573.7 103.9 L574.3 103.8 L574.9 103.7 L575.5 103.6 L576.1 103.5 L576.7 103.5 L577.3 103.4 L577.9 103.3 L578.5 103.2 L579.1 103.2 L579.7 103.1 L580.3 103 L580.9 102.9 L581.5 102.8 L582.1 102.6 L582.7 102.5 L583.3 102.4 L583.9 102.3 L584.5 102.2 L585.2 102.1 L585.8 102.1 L586.4 102.1 L587 102.1 L587.6 102.1 L588.2 102.3 L588.8 102.4 L589.4 102.6 L590 102.8 L590.6 103.2 L591.2 103.7 L591.8 104.2 L592.4 104.5 L593 104.5 L593.6 103.7 L594.2 102.4 L594.8 100.8 L595.4 99.3 L596.1 98.2 L596.7 97.3 L597.3 96.4 L597.9 95.5 L598.5 94.8 L599.1 94.3 L599.7 94 L600.3 93.9 L600.9 93.8 L601.5 93.8 L602.1 93.7 L602.7 93.7 L603.3 93.6 L603.9 93.5 L604.5 93.2 L605.1 92.9 L605.7 92.5 L606.3 92.1 L606.9 91.6 L607.6 91.2 L608.2 90.7 L608.8 90.3 L609.4 89.9 L610 89.5 L610.6 89 L611.2 88.6 L611.8 88.2 L612.4 87.8 L613 87.5 L613.6 87.2 L614.2 86.9 L614.8 86.6 L615.4 86.4 L616 86.2 L616.6 86 L617.2 86 L617.8 86 L618.5 86.2 L619.1 86.6 L619.7 87 L620.3 87.5 L620.9 88 L621.5 88.7 L622.1 89.6 L622.7 90.6 L623.3 91.7 L623.9 92.8 L624.5 93.9 L625.1 95 L625.7 96 L626.3 97 L626.9 98.1 L627.5 99.2 L628.1 100.2 L628.7 101.1 L629.3 101.9 L630 102.5 L630.6 103 L631.2 103.4 L631.8 103.7 L632.4 104 L633 104.3 L633.6 104.5 L634.2 104.7 L634.8 104.9 L635.4 105.1 L636 105.2 L636.6 105.4 L637.2 105.5 L637.8 105.6 L638.4 105.8 L639 106 L639.6 106.3 L640.2 106.6 L640.9 106.9 L641.5 107.3 L642.1 107.6 L642.7 107.8 L643.3 108 L643.9 108.2 L644.5 108.4 L645.1 108.5 L645.7 108.6 L646.3 108.8 L664.7 108.8" fill="none" stroke="#111" stroke-width="0.95" stroke-linejoin="round"/>
<path d="M556.7 132.2 L556.7 132.2 L557.3 132 L557.9 131.8 L558.5 131.6 L559.1 131.4 L559.7 131.3 L560.3 131.2 L560.9 131.2 L561.5 131.2 L562.2 131.2 L562.8 131.2 L563.4 131.2 L564 131.2 L564.6 131.2 L565.2 131.2 L565.8 131.2 L566.4 131.2 L567 131.2 L567.6 131.2 L568.2 131.1 L568.8 131 L569.4 131 L570 130.9 L570.6 130.8 L571.2 130.7 L571.8 130.6 L572.4 130.5 L573.1 130.4 L573.7 130.4 L574.3 130.3 L574.9 130.3 L575.5 130.3 L576.1 130.3 L576.7 130.4 L577.3 130.5 L577.9 130.5 L578.5 130.6 L579.1 130.7 L579.7 130.8 L580.3 130.8 L580.9 130.9 L581.5 130.9 L582.1 130.9 L582.7 130.8 L583.3 130.7 L584 130.4 L584.6 130.2 L585.2 129.9 L585.8 129.7 L586.4 129.4 L587 129.2 L587.6 129 L588.2 128.8 L588.8 128.6 L589.4 128.4 L590 128.2 L590.6 128 L591.2 127.9 L591.8 127.7 L592.4 127.5 L593 127.4 L593.6 127.3 L594.2 127.2 L594.9 127.1 L595.5 127 L596.1 127 L596.7 126.9 L597.3 126.8 L597.9 126.7 L598.5 126.6 L599.1 126.4 L599.7 126.2 L600.3 126 L600.9 125.8 L601.5 125.5 L602.1 125.2 L602.7 124.9 L603.3 124.7 L603.9 124.4 L604.5 124.1 L605.1 123.8 L605.8 123.6 L606.4 123.4 L607 123.2 L607.6 123 L608.2 122.9 L608.8 122.7 L609.4 122.5 L610 122.3 L610.6 122.1 L611.2 121.8 L611.8 121.5 L612.4 121.2 L613 120.8 L613.6 120.4 L614.2 120 L614.8 119.5 L615.4 119.1 L616 118.6 L616.6 118.2 L617.3 117.8 L617.9 117.3 L618.5 116.9 L619.1 116.4 L619.7 116 L620.3 115.5 L620.9 115.1 L621.5 114.6 L622.1 114.2 L622.7 113.8 L623.3 113.3 L623.9 112.9 L624.5 112.4 L625.1 111.9 L625.7 111.4 L626.3 110.9 L626.9 110.4 L627.5 109.9 L628.2 109.4 L628.8 109.1 L629.4 108.8 L630 108.6 L630.6 108.5 L631.2 108.6 L631.8 108.8 L632.4 109.2 L633 109.6 L633.6 110.1 L634.2 110.7 L634.8 111.2 L635.4 111.8 L636 112.4 L636.6 113.1 L637.2 113.9 L637.8 114.7 L638.4 115.5 L639.1 116.3 L639.7 117.1 L640.3 117.9 L640.9 118.7 L641.5 119.5 L642.1 120.4 L642.7 121.2 L643.3 122 L643.9 122.8 L644.5 123.6 L645.1 124.4 L645.7 125.1 L646.3 125.8 L646.9 126.5 L647.5 127.2 L648.1 127.9 L648.7 128.5 L649.3 129.1 L650 129.6 L650.6 130 L651.2 130.4 L651.8 130.8 L652.4 131.2 L653 131.5 L653.6 131.8 L654.2 132 L654.8 132.2 L654.8 132.2Z" fill="#A2A326" stroke="none"/>
<path d="M531.9 132.2 L556.7 132.2 L557.3 132 L557.9 131.8 L558.5 131.6 L559.1 131.4 L559.7 131.3 L560.3 131.2 L560.9 131.2 L561.5 131.2 L562.2 131.2 L562.8 131.2 L563.4 131.2 L564 131.2 L564.6 131.2 L565.2 131.2 L565.8 131.2 L566.4 131.2 L567 131.2 L567.6 131.2 L568.2 131.1 L568.8 131 L569.4 131 L570 130.9 L570.6 130.8 L571.2 130.7 L571.8 130.6 L572.4 130.5 L573.1 130.4 L573.7 130.4 L574.3 130.3 L574.9 130.3 L575.5 130.3 L576.1 130.3 L576.7 130.4 L577.3 130.5 L577.9 130.5 L578.5 130.6 L579.1 130.7 L579.7 130.8 L580.3 130.8 L580.9 130.9 L581.5 130.9 L582.1 130.9 L582.7 130.8 L583.3 130.7 L584 130.4 L584.6 130.2 L585.2 129.9 L585.8 129.7 L586.4 129.4 L587 129.2 L587.6 129 L588.2 128.8 L588.8 128.6 L589.4 128.4 L590 128.2 L590.6 128 L591.2 127.9 L591.8 127.7 L592.4 127.5 L593 127.4 L593.6 127.3 L594.2 127.2 L594.9 127.1 L595.5 127 L596.1 127 L596.7 126.9 L597.3 126.8 L597.9 126.7 L598.5 126.6 L599.1 126.4 L599.7 126.2 L600.3 126 L600.9 125.8 L601.5 125.5 L602.1 125.2 L602.7 124.9 L603.3 124.7 L603.9 124.4 L604.5 124.1 L605.1 123.8 L605.8 123.6 L606.4 123.4 L607 123.2 L607.6 123 L608.2 122.9 L608.8 122.7 L609.4 122.5 L610 122.3 L610.6 122.1 L611.2 121.8 L611.8 121.5 L612.4 121.2 L613 120.8 L613.6 120.4 L614.2 120 L614.8 119.5 L615.4 119.1 L616 118.6 L616.6 118.2 L617.3 117.8 L617.9 117.3 L618.5 116.9 L619.1 116.4 L619.7 116 L620.3 115.5 L620.9 115.1 L621.5 114.6 L622.1 114.2 L622.7 113.8 L623.3 113.3 L623.9 112.9 L624.5 112.4 L625.1 111.9 L625.7 111.4 L626.3 110.9 L626.9 110.4 L627.5 109.9 L628.2 109.4 L628.8 109.1 L629.4 108.8 L630 108.6 L630.6 108.5 L631.2 108.6 L631.8 108.8 L632.4 109.2 L633 109.6 L633.6 110.1 L634.2 110.7 L634.8 111.2 L635.4 111.8 L636 112.4 L636.6 113.1 L637.2 113.9 L637.8 114.7 L638.4 115.5 L639.1 116.3 L639.7 117.1 L640.3 117.9 L640.9 118.7 L641.5 119.5 L642.1 120.4 L642.7 121.2 L643.3 122 L643.9 122.8 L644.5 123.6 L645.1 124.4 L645.7 125.1 L646.3 125.8 L646.9 126.5 L647.5 127.2 L648.1 127.9 L648.7 128.5 L649.3 129.1 L650 129.6 L650.6 130 L651.2 130.4 L651.8 130.8 L652.4 131.2 L653 131.5 L653.6 131.8 L654.2 132 L654.8 132.2 L664.7 132.2" fill="none" stroke="#111" stroke-width="0.95" stroke-linejoin="round"/>
<path d="M531.9 155.6 L531.9 155.6 L532.5 155.5 L533.1 155.1 L533.8 154.6 L534.4 154 L535 153 L535.6 151.1 L536.3 148.9 L536.9 146.8 L537.5 144.5 L538.1 142.1 L538.7 140 L539.4 138.1 L540 136.4 L540.6 135 L541.2 134.1 L541.9 133.4 L542.5 133 L543.1 132.9 L543.7 132.8 L544.3 132.7 L545 132.7 L545.6 132.7 L546.2 132.9 L546.8 133.1 L547.5 133.5 L548.1 134.5 L548.7 136 L549.3 137.5 L549.9 139 L550.6 140.8 L551.2 142.6 L551.8 144.2 L552.4 145.7 L553 147 L553.7 148.3 L554.3 149.4 L554.9 150.3 L555.5 151.1 L556.2 151.9 L556.8 152.5 L557.4 153.1 L558 153.6 L558.6 154.1 L559.3 154.5 L559.9 154.8 L560.5 155 L561.1 155.2 L561.8 155.4 L562.4 155.5 L563 155.6 L563 155.6Z" fill="#DC756B" stroke="none"/>
<path d="M531.9 155.6 L532.5 155.5 L533.1 155.1 L533.8 154.6 L534.4 154 L535 153 L535.6 151.1 L536.3 148.9 L536.9 146.8 L537.5 144.5 L538.1 142.1 L538.7 140 L539.4 138.1 L540 136.4 L540.6 135 L541.2 134.1 L541.9 133.4 L542.5 133 L543.1 132.9 L543.7 132.8 L544.3 132.7 L545 132.7 L545.6 132.7 L546.2 132.9 L546.8 133.1 L547.5 133.5 L548.1 134.5 L548.7 136 L549.3 137.5 L549.9 139 L550.6 140.8 L551.2 142.6 L551.8 144.2 L552.4 145.7 L553 147 L553.7 148.3 L554.3 149.4 L554.9 150.3 L555.5 151.1 L556.2 151.9 L556.8 152.5 L557.4 153.1 L558 153.6 L558.6 154.1 L559.3 154.5 L559.9 154.8 L560.5 155 L561.1 155.2 L561.8 155.4 L562.4 155.5 L563 155.6 L664.7 155.6" fill="none" stroke="#111" stroke-width="0.95" stroke-linejoin="round"/>
<line x1="556.4" y1="31.8" x2="556.45" y2="165.6" stroke="#dd0000" stroke-width="2.3"/>
<text x="12.5" y="218.4" font-size="19.5" fill="#111" stroke="#111" stroke-width="0.15">B</text>
<text x="36.5" y="233.0" font-size="11" font-weight="bold" fill="#111" stroke="#111" stroke-width="0.2">CD244</text>
<text x="30.8" y="263.05" font-size="10.0" text-anchor="end" fill="#111" stroke="#111" stroke-width="0.15">NK</text>
<text x="30.8" y="286.55" font-size="10.0" text-anchor="end" fill="#111" stroke="#111" stroke-width="0.15">CM</text>
<text x="30.8" y="309.7" font-size="10.0" text-anchor="end" fill="#111" stroke="#111" stroke-width="0.15">CD8T</text>
<text x="30.8" y="333.15000000000003" font-size="10.0" text-anchor="end" fill="#111" stroke="#111" stroke-width="0.15">CD4T</text>
<text x="30.8" y="356.5" font-size="10.0" text-anchor="end" fill="#111" stroke="#111" stroke-width="0.15">B</text>
<text x="293.8" y="401.6" font-size="14.3" fill="#111" stroke="#111" stroke-width="0.15">expression level</text>
<path d="M33 262.8H192 M33 286.2H192 M33 309.4H192 M33 332.9H192 M33 356.2H192 M55.3 240.3V372.6 M87.7 240.3V372.6 M120 240.3V372.6 M152.4 240.3V372.6 M184.7 240.3V372.6" stroke="#ebebeb" stroke-width="1" fill="none"/>
<text x="55.3" y="382.3" font-size="9" text-anchor="middle" fill="#111" stroke="#111" stroke-width="0.15">0</text>
<text x="87.7" y="382.3" font-size="9" text-anchor="middle" fill="#111" stroke="#111" stroke-width="0.15">1</text>
<text x="120" y="382.3" font-size="9" text-anchor="middle" fill="#111" stroke="#111" stroke-width="0.15">2</text>
<text x="152.4" y="382.3" font-size="9" text-anchor="middle" fill="#111" stroke="#111" stroke-width="0.15">3</text>
<text x="184.7" y="382.3" font-size="9" text-anchor="middle" fill="#111" stroke="#111" stroke-width="0.15">4</text>
<path d="M42.9 262.8 L42.9 262.8 L43.5 262.7 L44.1 262.4 L44.7 262.1 L45.3 261.6 L45.9 261.1 L46.5 260.5 L47.1 259.6 L47.7 258.4 L48.3 257 L48.9 255.6 L49.5 254.3 L50.1 253.3 L50.8 252.2 L51.4 251.2 L52 250.3 L52.6 249.6 L53.2 249 L53.8 248.5 L54.4 248.1 L55 247.8 L55.6 247.8 L56.2 248.4 L56.8 249.2 L57.4 250 L58 250.5 L58.6 251 L59.2 251.5 L59.8 251.9 L60.4 252.1 L61 252 L61.6 251.2 L62.2 250 L62.8 248.7 L63.4 247.5 L64 246.2 L64.7 244.8 L65.3 243.6 L65.9 242.8 L66.5 242 L67.1 241.4 L67.7 240.9 L68.3 240.6 L68.9 240.6 L69.5 240.6 L70.1 240.6 L70.7 240.6 L71.3 240.6 L71.9 240.6 L72.5 240.6 L73.1 240.6 L73.7 240.6 L74.3 240.7 L74.9 240.7 L75.5 240.8 L76.1 240.9 L76.7 241 L77.3 241.2 L77.9 241.4 L78.5 241.6 L79.2 242 L79.8 242.4 L80.4 242.8 L81 243.2 L81.6 243.6 L82.2 244 L82.8 244.5 L83.4 244.9 L84 245.4 L84.6 246 L85.2 246.5 L85.8 247 L86.4 247.6 L87 248.1 L87.6 248.7 L88.2 249.2 L88.8 249.8 L89.4 250.4 L90 250.9 L90.6 251.5 L91.2 252 L91.8 252.5 L92.4 253 L93 253.5 L93.7 254 L94.3 254.4 L94.9 254.9 L95.5 255.3 L96.1 255.8 L96.7 256.2 L97.3 256.6 L97.9 257 L98.5 257.5 L99.1 257.9 L99.7 258.3 L100.3 258.6 L100.9 259 L101.5 259.3 L102.1 259.7 L102.7 260 L103.3 260.3 L103.9 260.6 L104.5 260.9 L105.1 261.2 L105.7 261.4 L106.3 261.6 L106.9 261.9 L107.5 262.1 L108.2 262.3 L108.8 262.5 L109.4 262.6 L110 262.7 L110.6 262.7 L111.2 262.8 L111.8 262.8 L112.4 262.8 L113 262.8 L113.6 262.8 L114.2 262.8 L114.8 262.8 L115.4 262.8 L116 262.8 L116.6 262.8 L117.2 262.7 L117.8 262.7 L118.4 262.6 L119 262.5 L119.6 262.4 L120.2 262.3 L120.8 262.1 L121.4 262 L122 261.9 L122.7 261.8 L123.3 261.8 L123.9 261.8 L124.5 261.8 L125.1 261.8 L125.7 261.9 L126.3 261.9 L126.9 262 L127.5 262.1 L128.1 262.3 L128.7 262.4 L129.3 262.6 L129.9 262.8 L129.9 262.8Z" fill="#CB6DF0" stroke="none"/>
<path d="M42.9 262.8 L43.5 262.7 L44.1 262.4 L44.7 262.1 L45.3 261.6 L45.9 261.1 L46.5 260.5 L47.1 259.6 L47.7 258.4 L48.3 257 L48.9 255.6 L49.5 254.3 L50.1 253.3 L50.8 252.2 L51.4 251.2 L52 250.3 L52.6 249.6 L53.2 249 L53.8 248.5 L54.4 248.1 L55 247.8 L55.6 247.8 L56.2 248.4 L56.8 249.2 L57.4 250 L58 250.5 L58.6 251 L59.2 251.5 L59.8 251.9 L60.4 252.1 L61 252 L61.6 251.2 L62.2 250 L62.8 248.7 L63.4 247.5 L64 246.2 L64.7 244.8 L65.3 243.6 L65.9 242.8 L66.5 242 L67.1 241.4 L67.7 240.9 L68.3 240.6 L68.9 240.6 L69.5 240.6 L70.1 240.6 L70.7 240.6 L71.3 240.6 L71.9 240.6 L72.5 240.6 L73.1 240.6 L73.7 240.6 L74.3 240.7 L74.9 240.7 L75.5 240.8 L76.1 240.9 L76.7 241 L77.3 241.2 L77.9 241.4 L78.5 241.6 L79.2 242 L79.8 242.4 L80.4 242.8 L81 243.2 L81.6 243.6 L82.2 244 L82.8 244.5 L83.4 244.9 L84 245.4 L84.6 246 L85.2 246.5 L85.8 247 L86.4 247.6 L87 248.1 L87.6 248.7 L88.2 249.2 L88.8 249.8 L89.4 250.4 L90 250.9 L90.6 251.5 L91.2 252 L91.8 252.5 L92.4 253 L93 253.5 L93.7 254 L94.3 254.4 L94.9 254.9 L95.5 255.3 L96.1 255.8 L96.7 256.2 L97.3 256.6 L97.9 257 L98.5 257.5 L99.1 257.9 L99.7 258.3 L100.3 258.6 L100.9 259 L101.5 259.3 L102.1 259.7 L102.7 260 L103.3 260.3 L103.9 260.6 L104.5 260.9 L105.1 261.2 L105.7 261.4 L106.3 261.6 L106.9 261.9 L107.5 262.1 L108.2 262.3 L108.8 262.5 L109.4 262.6 L110 262.7 L110.6 262.7 L111.2 262.8 L111.8 262.8 L112.4 262.8 L113 262.8 L113.6 262.8 L114.2 262.8 L114.8 262.8 L115.4 262.8 L116 262.8 L116.6 262.8 L117.2 262.7 L117.8 262.7 L118.4 262.6 L119 262.5 L119.6 262.4 L120.2 262.3 L120.8 262.1 L121.4 262 L122 261.9 L122.7 261.8 L123.3 261.8 L123.9 261.8 L124.5 261.8 L125.1 261.8 L125.7 261.9 L126.3 261.9 L126.9 262 L127.5 262.1 L128.1 262.3 L128.7 262.4 L129.3 262.6 L129.9 262.8 L138.8 262.8" fill="none" stroke="#111" stroke-width="0.95" stroke-linejoin="round"/>
<path d="M42.9 286.2 L42.9 286.2 L43.5 286.2 L44.1 285.9 L44.7 285.5 L45.3 285 L45.9 284.4 L46.5 283.7 L47.1 282.5 L47.8 280.9 L48.4 278.9 L49 276.9 L49.6 275 L50.2 273.1 L50.8 270.9 L51.4 268.8 L52 267.1 L52.6 266 L53.2 265.2 L53.8 264.5 L54.4 263.9 L55 263.6 L55.6 263.5 L56.3 263.9 L56.9 264.9 L57.5 266.3 L58.1 267.7 L58.7 268.9 L59.3 270.2 L59.9 271.7 L60.5 273 L61.1 274.1 L61.7 274.7 L62.3 274.9 L62.9 275.1 L63.5 275.2 L64.1 275.3 L64.7 275.5 L65.4 275.6 L66 275.9 L66.6 276.2 L67.2 276.6 L67.8 277 L68.4 277.4 L69 277.8 L69.6 278.2 L70.2 278.5 L70.8 278.9 L71.4 279.2 L72 279.5 L72.6 279.7 L73.2 279.8 L73.9 279.7 L74.5 279.1 L75.1 278.1 L75.7 277 L76.3 275.9 L76.9 275 L77.5 274.2 L78.1 273.4 L78.7 272.6 L79.3 272 L79.9 271.5 L80.5 271.1 L81.1 270.8 L81.7 270.5 L82.4 270.2 L83 270.2 L83.6 270.2 L84.2 270.5 L84.8 270.9 L85.4 271.4 L86 272 L86.6 272.5 L87.2 273.2 L87.8 274 L88.4 275 L89 276 L89.6 276.9 L90.2 277.8 L90.8 278.5 L91.5 279.3 L92.1 279.9 L92.7 280.6 L93.3 281.2 L93.9 281.8 L94.5 282.4 L95.1 282.8 L95.7 283.2 L96.3 283.6 L96.9 284 L97.5 284.3 L98.1 284.6 L98.7 284.9 L99.3 285.2 L100 285.4 L100.6 285.6 L101.2 285.7 L101.8 285.9 L102.4 286 L103 286.1 L103.6 286.2 L104.2 286.2 L104.2 286.2Z" fill="#63AFF2" stroke="none"/>
<path d="M42.9 286.2 L43.5 286.2 L44.1 285.9 L44.7 285.5 L45.3 285 L45.9 284.4 L46.5 283.7 L47.1 282.5 L47.8 280.9 L48.4 278.9 L49 276.9 L49.6 275 L50.2 273.1 L50.8 270.9 L51.4 268.8 L52 267.1 L52.6 266 L53.2 265.2 L53.8 264.5 L54.4 263.9 L55 263.6 L55.6 263.5 L56.3 263.9 L56.9 264.9 L57.5 266.3 L58.1 267.7 L58.7 268.9 L59.3 270.2 L59.9 271.7 L60.5 273 L61.1 274.1 L61.7 274.7 L62.3 274.9 L62.9 275.1 L63.5 275.2 L64.1 275.3 L64.7 275.5 L65.4 275.6 L66 275.9 L66.6 276.2 L67.2 276.6 L67.8 277 L68.4 277.4 L69 277.8 L69.6 278.2 L70.2 278.5 L70.8 278.9 L71.4 279.2 L72 279.5 L72.6 279.7 L73.2 279.8 L73.9 279.7 L74.5 279.1 L75.1 278.1 L75.7 277 L76.3 275.9 L76.9 275 L77.5 274.2 L78.1 273.4 L78.7 272.6 L79.3 272 L79.9 271.5 L80.5 271.1 L81.1 270.8 L81.7 270.5 L82.4 270.2 L83 270.2 L83.6 270.2 L84.2 270.5 L84.8 270.9 L85.4 271.4 L86 272 L86.6 272.5 L87.2 273.2 L87.8 274 L88.4 275 L89 276 L89.6 276.9 L90.2 277.8 L90.8 278.5 L91.5 279.3 L92.1 279.9 L92.7 280.6 L93.3 281.2 L93.9 281.8 L94.5 282.4 L95.1 282.8 L95.7 283.2 L96.3 283.6 L96.9 284 L97.5 284.3 L98.1 284.6 L98.7 284.9 L99.3 285.2 L100 285.4 L100.6 285.6 L101.2 285.7 L101.8 285.9 L102.4 286 L103 286.1 L103.6 286.2 L104.2 286.2 L138.8 286.2" fill="none" stroke="#111" stroke-width="0.95" stroke-linejoin="round"/>
<path d="M42.9 309.4 L42.9 309.4 L43.5 309.3 L44.1 309.1 L44.7 308.8 L45.3 308.3 L45.9 307.8 L46.5 307.2 L47.2 306.3 L47.8 305 L48.4 303.5 L49 301.9 L49.6 300.2 L50.2 298.4 L50.8 296.3 L51.4 294.3 L52 292.4 L52.6 291 L53.2 289.9 L53.8 288.7 L54.5 287.8 L55.1 287.2 L55.7 287 L56.3 287.5 L56.9 288.6 L57.5 289.9 L58.1 291.3 L58.7 292.5 L59.3 293.8 L59.9 295.1 L60.5 296.3 L61.1 297.3 L61.8 297.8 L62.4 298.1 L63 298.4 L63.6 298.6 L64.2 298.6 L64.8 298.5 L65.4 298.3 L66 298.1 L66.6 297.9 L67.2 297.8 L67.8 297.9 L68.4 298.3 L69.1 298.9 L69.7 299.5 L70.3 300 L70.9 300.5 L71.5 300.9 L72.1 301.3 L72.7 301.7 L73.3 302 L73.9 302.4 L74.5 302.6 L75.1 302.8 L75.7 303 L76.4 303.1 L77 303.3 L77.6 303.4 L78.2 303.6 L78.8 303.7 L79.4 303.9 L80 304.2 L80.6 304.4 L81.2 304.7 L81.8 305 L82.4 305.3 L83 305.6 L83.7 305.9 L84.3 306.2 L84.9 306.6 L85.5 306.9 L86.1 307.3 L86.7 307.6 L87.3 307.9 L87.9 308.1 L88.5 308.4 L89.1 308.7 L89.7 308.9 L90.3 309.1 L91 309.3 L91.6 309.3 L92.2 309.3 L92.8 309.4 L93.4 309.4 L94 309.4 L94.6 309.4 L94.6 309.4Z" fill="#68BD7D" stroke="none"/>
<path d="M42.9 309.4 L43.5 309.3 L44.1 309.1 L44.7 308.8 L45.3 308.3 L45.9 307.8 L46.5 307.2 L47.2 306.3 L47.8 305 L48.4 303.5 L49 301.9 L49.6 300.2 L50.2 298.4 L50.8 296.3 L51.4 294.3 L52 292.4 L52.6 291 L53.2 289.9 L53.8 288.7 L54.5 287.8 L55.1 287.2 L55.7 287 L56.3 287.5 L56.9 288.6 L57.5 289.9 L58.1 291.3 L58.7 292.5 L59.3 293.8 L59.9 295.1 L60.5 296.3 L61.1 297.3 L61.8 297.8 L62.4 298.1 L63 298.4 L63.6 298.6 L64.2 298.6 L64.8 298.5 L65.4 298.3 L66 298.1 L66.6 297.9 L67.2 297.8 L67.8 297.9 L68.4 298.3 L69.1 298.9 L69.7 299.5 L70.3 300 L70.9 300.5 L71.5 300.9 L72.1 301.3 L72.7 301.7 L73.3 302 L73.9 302.4 L74.5 302.6 L75.1 302.8 L75.7 303 L76.4 303.1 L77 303.3 L77.6 303.4 L78.2 303.6 L78.8 303.7 L79.4 303.9 L80 304.2 L80.6 304.4 L81.2 304.7 L81.8 305 L82.4 305.3 L83 305.6 L83.7 305.9 L84.3 306.2 L84.9 306.6 L85.5 306.9 L86.1 307.3 L86.7 307.6 L87.3 307.9 L87.9 308.1 L88.5 308.4 L89.1 308.7 L89.7 308.9 L90.3 309.1 L91 309.3 L91.6 309.3 L92.2 309.3 L92.8 309.4 L93.4 309.4 L94 309.4 L94.6 309.4 L138.8 309.4" fill="none" stroke="#111" stroke-width="0.95" stroke-linejoin="round"/>
<path d="M42.9 332.9 L42.9 332.9 L43.5 332.7 L44.1 332.4 L44.7 331.9 L45.3 331.3 L46 330.6 L46.6 329.8 L47.2 328.5 L47.8 326.8 L48.4 324.9 L49 322.9 L49.6 321.1 L50.2 319.2 L50.9 317.3 L51.5 315.4 L52.1 313.9 L52.7 312.9 L53.3 312 L53.9 311.3 L54.5 310.7 L55.1 310.3 L55.8 310.3 L56.4 310.9 L57 312 L57.6 313.5 L58.2 314.9 L58.8 316.2 L59.4 317.8 L60 319.5 L60.7 321 L61.3 322.2 L61.9 322.9 L62.5 323.4 L63.1 323.8 L63.7 324 L64.3 324 L64.9 323.9 L65.5 323.7 L66.2 323.4 L66.8 323.1 L67.4 322.9 L68 322.8 L68.6 322.9 L69.2 323.3 L69.8 323.8 L70.4 324.4 L71.1 325 L71.7 325.5 L72.3 326.1 L72.9 326.6 L73.5 327.1 L74.1 327.6 L74.7 328.1 L75.3 328.5 L76 328.9 L76.6 329.3 L77.2 329.6 L77.8 330 L78.4 330.3 L79 330.7 L79.6 330.9 L80.2 331.2 L80.9 331.5 L81.5 331.7 L82.1 332 L82.7 332.2 L83.3 332.4 L83.9 332.6 L84.5 332.7 L85.1 332.8 L85.8 332.8 L86.4 332.8 L87 332.8 L87.6 332.8 L88.2 332.9 L88.2 332.9Z" fill="#A2A326" stroke="none"/>
<path d="M42.9 332.9 L43.5 332.7 L44.1 332.4 L44.7 331.9 L45.3 331.3 L46 330.6 L46.6 329.8 L47.2 328.5 L47.8 326.8 L48.4 324.9 L49 322.9 L49.6 321.1 L50.2 319.2 L50.9 317.3 L51.5 315.4 L52.1 313.9 L52.7 312.9 L53.3 312 L53.9 311.3 L54.5 310.7 L55.1 310.3 L55.8 310.3 L56.4 310.9 L57 312 L57.6 313.5 L58.2 314.9 L58.8 316.2 L59.4 317.8 L60 319.5 L60.7 321 L61.3 322.2 L61.9 322.9 L62.5 323.4 L63.1 323.8 L63.7 324 L64.3 324 L64.9 323.9 L65.5 323.7 L66.2 323.4 L66.8 323.1 L67.4 322.9 L68 322.8 L68.6 322.9 L69.2 323.3 L69.8 323.8 L70.4 324.4 L71.1 325 L71.7 325.5 L72.3 326.1 L72.9 326.6 L73.5 327.1 L74.1 327.6 L74.7 328.1 L75.3 328.5 L76 328.9 L76.6 329.3 L77.2 329.6 L77.8 330 L78.4 330.3 L79 330.7 L79.6 330.9 L80.2 331.2 L80.9 331.5 L81.5 331.7 L82.1 332 L82.7 332.2 L83.3 332.4 L83.9 332.6 L84.5 332.7 L85.1 332.8 L85.8 332.8 L86.4 332.8 L87 332.8 L87.6 332.8 L88.2 332.9 L138.8 332.9" fill="none" stroke="#111" stroke-width="0.95" stroke-linejoin="round"/>
<path d="M42.9 356.2 L42.9 356.2 L43.5 356.1 L44.1 355.9 L44.7 355.5 L45.3 355.1 L45.9 354.5 L46.6 353.9 L47.2 352.8 L47.8 351.1 L48.4 349.1 L49 347.1 L49.6 345.2 L50.2 343.2 L50.8 341.1 L51.4 338.9 L52 337.1 L52.6 335.8 L53.3 335.1 L53.9 334.5 L54.5 334.1 L55.1 333.8 L55.7 333.7 L56.3 334 L56.9 334.5 L57.5 335.3 L58.1 336 L58.7 336.7 L59.3 337.4 L60 338.2 L60.6 338.7 L61.2 338.8 L61.8 338.6 L62.4 338.2 L63 337.8 L63.6 337.4 L64.2 337.2 L64.8 336.9 L65.4 336.7 L66 336.5 L66.7 336.4 L67.3 336.5 L67.9 336.9 L68.5 337.7 L69.1 338.7 L69.7 339.6 L70.3 340.6 L70.9 341.7 L71.5 343 L72.1 344.2 L72.7 345.4 L73.4 346.3 L74 347.1 L74.6 347.7 L75.2 348.3 L75.8 348.9 L76.4 349.3 L77 349.8 L77.6 350.3 L78.2 350.7 L78.8 351.1 L79.4 351.6 L80.1 352 L80.7 352.4 L81.3 352.8 L81.9 353.2 L82.5 353.6 L83.1 353.9 L83.7 354.3 L84.3 354.6 L84.9 355 L85.5 355.3 L86.1 355.6 L86.8 355.9 L87.4 356 L88 356.1 L88.6 356.1 L89.2 356.2 L89.8 356.2 L89.8 356.2Z" fill="#DC756B" stroke="none"/>
<path d="M42.9 356.2 L43.5 356.1 L44.1 355.9 L44.7 355.5 L45.3 355.1 L45.9 354.5 L46.6 353.9 L47.2 352.8 L47.8 351.1 L48.4 349.1 L49 347.1 L49.6 345.2 L50.2 343.2 L50.8 341.1 L51.4 338.9 L52 337.1 L52.6 335.8 L53.3 335.1 L53.9 334.5 L54.5 334.1 L55.1 333.8 L55.7 333.7 L56.3 334 L56.9 334.5 L57.5 335.3 L58.1 336 L58.7 336.7 L59.3 337.4 L60 338.2 L60.6 338.7 L61.2 338.8 L61.8 338.6 L62.4 338.2 L63 337.8 L63.6 337.4 L64.2 337.2 L64.8 336.9 L65.4 336.7 L66 336.5 L66.7 336.4 L67.3 336.5 L67.9 336.9 L68.5 337.7 L69.1 338.7 L69.7 339.6 L70.3 340.6 L70.9 341.7 L71.5 343 L72.1 344.2 L72.7 345.4 L73.4 346.3 L74 347.1 L74.6 347.7 L75.2 348.3 L75.8 348.9 L76.4 349.3 L77 349.8 L77.6 350.3 L78.2 350.7 L78.8 351.1 L79.4 351.6 L80.1 352 L80.7 352.4 L81.3 352.8 L81.9 353.2 L82.5 353.6 L83.1 353.9 L83.7 354.3 L84.3 354.6 L84.9 355 L85.5 355.3 L86.1 355.6 L86.8 355.9 L87.4 356 L88 356.1 L88.6 356.1 L89.2 356.2 L89.8 356.2 L138.8 356.2" fill="none" stroke="#111" stroke-width="0.95" stroke-linejoin="round"/>
<path d="M197.2 262.8H353.4 M197.2 286.2H353.4 M197.2 309.4H353.4 M197.2 332.9H353.4 M197.2 356.2H353.4 M216.8 240.3V372.6 M249.1 240.3V372.6 M281.4 240.3V372.6 M313.7 240.3V372.6 M346 240.3V372.6" stroke="#ebebeb" stroke-width="1" fill="none"/>
<text x="216.8" y="382.3" font-size="9" text-anchor="middle" fill="#111" stroke="#111" stroke-width="0.15">0</text>
<text x="249.1" y="382.3" font-size="9" text-anchor="middle" fill="#111" stroke="#111" stroke-width="0.15">1</text>
<text x="281.4" y="382.3" font-size="9" text-anchor="middle" fill="#111" stroke="#111" stroke-width="0.15">2</text>
<text x="313.7" y="382.3" font-size="9" text-anchor="middle" fill="#111" stroke="#111" stroke-width="0.15">3</text>
<text x="346" y="382.3" font-size="9" text-anchor="middle" fill="#111" stroke="#111" stroke-width="0.15">4</text>
<path d="M206.1 262.8 L206.1 262.8 L206.7 262.7 L207.3 262.6 L207.9 262.5 L208.5 262.3 L209.1 262.1 L209.7 261.9 L210.3 261.6 L210.9 261.2 L211.6 260.8 L212.2 260.4 L212.8 260 L213.4 259.7 L214 259.5 L214.6 259.2 L215.2 259 L215.8 258.8 L216.4 258.8 L217 258.8 L217.6 259 L218.2 259.3 L218.8 259.6 L219.4 259.9 L220 260.1 L220.6 260.4 L221.2 260.6 L221.8 260.7 L222.5 260.7 L223.1 260.5 L223.7 260.1 L224.3 259.5 L224.9 258.9 L225.5 258.4 L226.1 257.9 L226.7 257.5 L227.3 257 L227.9 256.6 L228.5 256.3 L229.1 256.1 L229.7 255.9 L230.3 255.8 L230.9 255.6 L231.5 255.5 L232.1 255.3 L232.8 255.1 L233.4 254.9 L234 254.5 L234.6 254.2 L235.2 253.7 L235.8 253.3 L236.4 252.6 L237 251.6 L237.6 250.4 L238.2 249.1 L238.8 248 L239.4 247 L240 246.2 L240.6 245.5 L241.2 244.8 L241.8 244.2 L242.4 243.7 L243 243.5 L243.7 243.4 L244.3 243.3 L244.9 243.2 L245.5 243.1 L246.1 243.1 L246.7 243 L247.3 243 L247.9 242.9 L248.5 242.9 L249.1 242.8 L249.7 242.8 L250.3 242.7 L250.9 242.6 L251.5 242.4 L252.1 242.1 L252.7 241.7 L253.3 241.4 L254 241.1 L254.6 240.8 L255.2 240.5 L255.8 240.5 L256.4 240.6 L257 241 L257.6 241.5 L258.2 242.1 L258.8 242.8 L259.4 243.6 L260 244.7 L260.6 245.9 L261.2 246.9 L261.8 247.8 L262.4 248.8 L263 249.6 L263.6 250.4 L264.2 251.1 L264.9 251.5 L265.5 251.8 L266.1 252 L266.7 252.2 L267.3 252.3 L267.9 252.5 L268.5 252.6 L269.1 252.8 L269.7 253 L270.3 253.2 L270.9 253.5 L271.5 253.8 L272.1 254.1 L272.7 254.4 L273.3 254.8 L273.9 255.1 L274.5 255.5 L275.2 255.8 L275.8 256.1 L276.4 256.4 L277 256.7 L277.6 257 L278.2 257.3 L278.8 257.6 L279.4 257.9 L280 258.2 L280.6 258.5 L281.2 258.8 L281.8 259.1 L282.4 259.4 L283 259.8 L283.6 260.1 L284.2 260.4 L284.8 260.7 L285.4 260.9 L286.1 261.1 L286.7 261.3 L287.3 261.5 L287.9 261.7 L288.5 261.8 L289.1 262 L289.7 262.1 L290.3 262.2 L290.9 262.3 L291.5 262.4 L292.1 262.5 L292.7 262.5 L293.3 262.6 L293.9 262.6 L294.5 262.7 L295.1 262.7 L295.7 262.7 L296.4 262.7 L297 262.7 L297.6 262.7 L298.2 262.7 L298.8 262.7 L299.4 262.6 L300 262.6 L300.6 262.6 L301.2 262.5 L301.8 262.5 L302.4 262.4 L303 262.4 L303.6 262.4 L304.2 262.4 L304.8 262.4 L305.4 262.4 L306 262.4 L306.6 262.4 L307.3 262.4 L307.9 262.4 L308.5 262.5 L309.1 262.5 L309.7 262.5 L310.3 262.6 L310.9 262.6 L311.5 262.7 L312.1 262.8 L312.1 262.8Z" fill="#CB6DF0" stroke="none"/>
<path d="M206.1 262.8 L206.7 262.7 L207.3 262.6 L207.9 262.5 L208.5 262.3 L209.1 262.1 L209.7 261.9 L210.3 261.6 L210.9 261.2 L211.6 260.8 L212.2 260.4 L212.8 260 L213.4 259.7 L214 259.5 L214.6 259.2 L215.2 259 L215.8 258.8 L216.4 258.8 L217 258.8 L217.6 259 L218.2 259.3 L218.8 259.6 L219.4 259.9 L220 260.1 L220.6 260.4 L221.2 260.6 L221.8 260.7 L222.5 260.7 L223.1 260.5 L223.7 260.1 L224.3 259.5 L224.9 258.9 L225.5 258.4 L226.1 257.9 L226.7 257.5 L227.3 257 L227.9 256.6 L228.5 256.3 L229.1 256.1 L229.7 255.9 L230.3 255.8 L230.9 255.6 L231.5 255.5 L232.1 255.3 L232.8 255.1 L233.4 254.9 L234 254.5 L234.6 254.2 L235.2 253.7 L235.8 253.3 L236.4 252.6 L237 251.6 L237.6 250.4 L238.2 249.1 L238.8 248 L239.4 247 L240 246.2 L240.6 245.5 L241.2 244.8 L241.8 244.2 L242.4 243.7 L243 243.5 L243.7 243.4 L244.3 243.3 L244.9 243.2 L245.5 243.1 L246.1 243.1 L246.7 243 L247.3 243 L247.9 242.9 L248.5 242.9 L249.1 242.8 L249.7 242.8 L250.3 242.7 L250.9 242.6 L251.5 242.4 L252.1 242.1 L252.7 241.7 L253.3 241.4 L254 241.1 L254.6 240.8 L255.2 240.5 L255.8 240.5 L256.4 240.6 L257 241 L257.6 241.5 L258.2 242.1 L258.8 242.8 L259.4 243.6 L260 244.7 L260.6 245.9 L261.2 246.9 L261.8 247.8 L262.4 248.8 L263 249.6 L263.6 250.4 L264.2 251.1 L264.9 251.5 L265.5 251.8 L266.1 252 L266.7 252.2 L267.3 252.3 L267.9 252.5 L268.5 252.6 L269.1 252.8 L269.7 253 L270.3 253.2 L270.9 253.5 L271.5 253.8 L272.1 254.1 L272.7 254.4 L273.3 254.8 L273.9 255.1 L274.5 255.5 L275.2 255.8 L275.8 256.1 L276.4 256.4 L277 256.7 L277.6 257 L278.2 257.3 L278.8 257.6 L279.4 257.9 L280 258.2 L280.6 258.5 L281.2 258.8 L281.8 259.1 L282.4 259.4 L283 259.8 L283.6 260.1 L284.2 260.4 L284.8 260.7 L285.4 260.9 L286.1 261.1 L286.7 261.3 L287.3 261.5 L287.9 261.7 L288.5 261.8 L289.1 262 L289.7 262.1 L290.3 262.2 L290.9 262.3 L291.5 262.4 L292.1 262.5 L292.7 262.5 L293.3 262.6 L293.9 262.6 L294.5 262.7 L295.1 262.7 L295.7 262.7 L296.4 262.7 L297 262.7 L297.6 262.7 L298.2 262.7 L298.8 262.7 L299.4 262.6 L300 262.6 L300.6 262.6 L301.2 262.5 L301.8 262.5 L302.4 262.4 L303 262.4 L303.6 262.4 L304.2 262.4 L304.8 262.4 L305.4 262.4 L306 262.4 L306.6 262.4 L307.3 262.4 L307.9 262.4 L308.5 262.5 L309.1 262.5 L309.7 262.5 L310.3 262.6 L310.9 262.6 L311.5 262.7 L312.1 262.8 L317.7 262.8" fill="none" stroke="#111" stroke-width="0.95" stroke-linejoin="round"/>
<path d="M206.1 286.2 L206.1 286.2 L206.7 286.2 L207.3 286.1 L207.9 286 L208.5 285.9 L209.1 285.8 L209.8 285.7 L210.4 285.6 L211 285.5 L211.6 285.3 L212.2 285.1 L212.8 285 L213.4 284.8 L214 284.6 L214.6 284.5 L215.2 284.4 L215.9 284.3 L216.5 284.3 L217.1 284.3 L217.7 284.4 L218.3 284.6 L218.9 284.8 L219.5 285.1 L220.1 285.3 L220.7 285.5 L221.3 285.6 L222 285.7 L222.6 285.8 L223.2 285.9 L223.8 286 L224.4 286.1 L225 286.2 L225.6 286.2 L226.2 286.2 L226.8 286.2 L227.4 286 L228.1 285.7 L228.7 285.4 L229.3 285 L229.9 284.6 L230.5 284.2 L231.1 283.7 L231.7 283.1 L232.3 282.6 L232.9 282 L233.5 281.4 L234.2 280.9 L234.8 280.3 L235.4 279.7 L236 279.1 L236.6 278.6 L237.2 278.2 L237.8 277.7 L238.4 277.3 L239 276.9 L239.6 276.6 L240.2 276.4 L240.9 276.3 L241.5 276.2 L242.1 276.1 L242.7 276.1 L243.3 276.1 L243.9 276 L244.5 275.9 L245.1 275.7 L245.7 275.2 L246.3 274.5 L247 273.7 L247.6 272.9 L248.2 271.7 L248.8 270.4 L249.4 269 L250 267.6 L250.6 266.5 L251.2 265.7 L251.8 264.8 L252.4 264.1 L253.1 263.5 L253.7 263.1 L254.3 263.1 L254.9 263.6 L255.5 264.5 L256.1 265.6 L256.7 266.8 L257.3 268.1 L257.9 269.9 L258.5 271.9 L259.2 274 L259.8 276 L260.4 277.6 L261 278.9 L261.6 280.2 L262.2 281.4 L262.8 282.4 L263.4 283.3 L264 283.9 L264.6 284.4 L265.3 284.9 L265.9 285.3 L266.5 285.7 L267.1 286 L267.7 286.2 L268.3 286.2 L268.3 286.2Z" fill="#63AFF2" stroke="none"/>
<path d="M206.1 286.2 L206.7 286.2 L207.3 286.1 L207.9 286 L208.5 285.9 L209.1 285.8 L209.8 285.7 L210.4 285.6 L211 285.5 L211.6 285.3 L212.2 285.1 L212.8 285 L213.4 284.8 L214 284.6 L214.6 284.5 L215.2 284.4 L215.9 284.3 L216.5 284.3 L217.1 284.3 L217.7 284.4 L218.3 284.6 L218.9 284.8 L219.5 285.1 L220.1 285.3 L220.7 285.5 L221.3 285.6 L222 285.7 L222.6 285.8 L223.2 285.9 L223.8 286 L224.4 286.1 L225 286.2 L225.6 286.2 L226.2 286.2 L226.8 286.2 L227.4 286 L228.1 285.7 L228.7 285.4 L229.3 285 L229.9 284.6 L230.5 284.2 L231.1 283.7 L231.7 283.1 L232.3 282.6 L232.9 282 L233.5 281.4 L234.2 280.9 L234.8 280.3 L235.4 279.7 L236 279.1 L236.6 278.6 L237.2 278.2 L237.8 277.7 L238.4 277.3 L239 276.9 L239.6 276.6 L240.2 276.4 L240.9 276.3 L241.5 276.2 L242.1 276.1 L242.7 276.1 L243.3 276.1 L243.9 276 L244.5 275.9 L245.1 275.7 L245.7 275.2 L246.3 274.5 L247 273.7 L247.6 272.9 L248.2 271.7 L248.8 270.4 L249.4 269 L250 267.6 L250.6 266.5 L251.2 265.7 L251.8 264.8 L252.4 264.1 L253.1 263.5 L253.7 263.1 L254.3 263.1 L254.9 263.6 L255.5 264.5 L256.1 265.6 L256.7 266.8 L257.3 268.1 L257.9 269.9 L258.5 271.9 L259.2 274 L259.8 276 L260.4 277.6 L261 278.9 L261.6 280.2 L262.2 281.4 L262.8 282.4 L263.4 283.3 L264 283.9 L264.6 284.4 L265.3 284.9 L265.9 285.3 L266.5 285.7 L267.1 286 L267.7 286.2 L268.3 286.2 L317.7 286.2" fill="none" stroke="#111" stroke-width="0.95" stroke-linejoin="round"/>
<path d="M206.1 309.4 L206.1 309.4 L206.7 309.3 L207.3 309.1 L207.9 308.7 L208.5 308.1 L209.1 307.5 L209.8 306.8 L210.4 305.4 L211 303.3 L211.6 301 L212.2 298.7 L212.8 296.5 L213.4 294.2 L214 291.9 L214.6 290.1 L215.2 288.9 L215.8 287.9 L216.4 287.2 L217.1 286.9 L217.7 287.6 L218.3 289.2 L218.9 291 L219.5 292.6 L220.1 294.4 L220.7 296.2 L221.3 297.7 L221.9 298.3 L222.5 298.2 L223.1 298 L223.7 297.8 L224.3 297.5 L225 297.1 L225.6 296.4 L226.2 295.7 L226.8 295.1 L227.4 294.8 L228 295 L228.6 295.5 L229.2 296.2 L229.8 297.1 L230.4 298 L231 298.7 L231.7 299.5 L232.3 300.4 L232.9 301.2 L233.5 301.9 L234.1 302.5 L234.7 303 L235.3 303.4 L235.9 303.8 L236.5 304.1 L237.1 304.3 L237.7 304.4 L238.3 304.3 L238.9 304.2 L239.6 303.9 L240.2 303.7 L240.8 303.4 L241.4 303.3 L242 303.2 L242.6 303.3 L243.2 303.4 L243.8 303.6 L244.4 303.9 L245 304.2 L245.6 304.5 L246.2 304.8 L246.9 305.3 L247.5 305.8 L248.1 306.3 L248.7 306.7 L249.3 307.1 L249.9 307.5 L250.5 307.9 L251.1 308.3 L251.7 308.6 L252.3 308.8 L252.9 308.8 L253.6 308.9 L254.2 308.9 L254.8 309 L255.4 309 L256 309.1 L256.6 309.1 L257.2 309.1 L257.8 309.1 L258.4 309.1 L259 309.1 L259.6 309 L260.2 309 L260.9 308.9 L261.5 308.9 L262.1 308.8 L262.7 308.8 L263.3 308.8 L263.9 308.8 L264.5 308.9 L265.1 308.9 L265.7 309 L266.3 309 L266.9 309.1 L267.5 309.1 L268.2 309.2 L268.8 309.2 L269.4 309.2 L270 309.3 L270.6 309.3 L271.2 309.4 L271.8 309.4 L271.8 309.4Z" fill="#68BD7D" stroke="none"/>
<path d="M206.1 309.4 L206.7 309.3 L207.3 309.1 L207.9 308.7 L208.5 308.1 L209.1 307.5 L209.8 306.8 L210.4 305.4 L211 303.3 L211.6 301 L212.2 298.7 L212.8 296.5 L213.4 294.2 L214 291.9 L214.6 290.1 L215.2 288.9 L215.8 287.9 L216.4 287.2 L217.1 286.9 L217.7 287.6 L218.3 289.2 L218.9 291 L219.5 292.6 L220.1 294.4 L220.7 296.2 L221.3 297.7 L221.9 298.3 L222.5 298.2 L223.1 298 L223.7 297.8 L224.3 297.5 L225 297.1 L225.6 296.4 L226.2 295.7 L226.8 295.1 L227.4 294.8 L228 295 L228.6 295.5 L229.2 296.2 L229.8 297.1 L230.4 298 L231 298.7 L231.7 299.5 L232.3 300.4 L232.9 301.2 L233.5 301.9 L234.1 302.5 L234.7 303 L235.3 303.4 L235.9 303.8 L236.5 304.1 L237.1 304.3 L237.7 304.4 L238.3 304.3 L238.9 304.2 L239.6 303.9 L240.2 303.7 L240.8 303.4 L241.4 303.3 L242 303.2 L242.6 303.3 L243.2 303.4 L243.8 303.6 L244.4 303.9 L245 304.2 L245.6 304.5 L246.2 304.8 L246.9 305.3 L247.5 305.8 L248.1 306.3 L248.7 306.7 L249.3 307.1 L249.9 307.5 L250.5 307.9 L251.1 308.3 L251.7 308.6 L252.3 308.8 L252.9 308.8 L253.6 308.9 L254.2 308.9 L254.8 309 L255.4 309 L256 309.1 L256.6 309.1 L257.2 309.1 L257.8 309.1 L258.4 309.1 L259 309.1 L259.6 309 L260.2 309 L260.9 308.9 L261.5 308.9 L262.1 308.8 L262.7 308.8 L263.3 308.8 L263.9 308.8 L264.5 308.9 L265.1 308.9 L265.7 309 L266.3 309 L266.9 309.1 L267.5 309.1 L268.2 309.2 L268.8 309.2 L269.4 309.2 L270 309.3 L270.6 309.3 L271.2 309.4 L271.8 309.4 L317.7 309.4" fill="none" stroke="#111" stroke-width="0.95" stroke-linejoin="round"/>
<path d="M206.1 332.9 L206.1 332.9 L206.7 332.7 L207.3 332.4 L207.9 331.9 L208.5 331.3 L209.2 330.5 L209.8 329.7 L210.4 328.1 L211 326 L211.6 323.7 L212.2 321.4 L212.8 319.2 L213.4 316.8 L214.1 314.6 L214.7 312.9 L215.3 311.9 L215.9 311.1 L216.5 310.5 L217.1 310.4 L217.7 311.5 L218.3 313.5 L219 315.8 L219.6 317.7 L220.2 319.8 L220.8 321.9 L221.4 323.4 L222 323.9 L222.6 323.9 L223.2 323.9 L223.9 323.9 L224.5 323.9 L225.1 323.7 L225.7 323.4 L226.3 322.9 L226.9 322.5 L227.5 322.1 L228.1 322.1 L228.8 322.3 L229.4 322.9 L230 323.7 L230.6 324.5 L231.2 325.2 L231.8 325.9 L232.4 326.5 L233 327.2 L233.7 327.8 L234.3 328.4 L234.9 329 L235.5 329.4 L236.1 329.8 L236.7 330.2 L237.3 330.6 L237.9 330.9 L238.6 331.2 L239.2 331.4 L239.8 331.6 L240.4 331.8 L241 332 L241.6 332.2 L242.2 332.3 L242.8 332.4 L243.5 332.5 L244.1 332.6 L244.7 332.6 L245.3 332.7 L245.9 332.7 L246.5 332.7 L247.1 332.8 L247.7 332.8 L248.4 332.8 L249 332.8 L249.6 332.8 L250.2 332.8 L250.8 332.9 L250.8 332.9Z" fill="#A2A326" stroke="none"/>
<path d="M206.1 332.9 L206.7 332.7 L207.3 332.4 L207.9 331.9 L208.5 331.3 L209.2 330.5 L209.8 329.7 L210.4 328.1 L211 326 L211.6 323.7 L212.2 321.4 L212.8 319.2 L213.4 316.8 L214.1 314.6 L214.7 312.9 L215.3 311.9 L215.9 311.1 L216.5 310.5 L217.1 310.4 L217.7 311.5 L218.3 313.5 L219 315.8 L219.6 317.7 L220.2 319.8 L220.8 321.9 L221.4 323.4 L222 323.9 L222.6 323.9 L223.2 323.9 L223.9 323.9 L224.5 323.9 L225.1 323.7 L225.7 323.4 L226.3 322.9 L226.9 322.5 L227.5 322.1 L228.1 322.1 L228.8 322.3 L229.4 322.9 L230 323.7 L230.6 324.5 L231.2 325.2 L231.8 325.9 L232.4 326.5 L233 327.2 L233.7 327.8 L234.3 328.4 L234.9 329 L235.5 329.4 L236.1 329.8 L236.7 330.2 L237.3 330.6 L237.9 330.9 L238.6 331.2 L239.2 331.4 L239.8 331.6 L240.4 331.8 L241 332 L241.6 332.2 L242.2 332.3 L242.8 332.4 L243.5 332.5 L244.1 332.6 L244.7 332.6 L245.3 332.7 L245.9 332.7 L246.5 332.7 L247.1 332.8 L247.7 332.8 L248.4 332.8 L249 332.8 L249.6 332.8 L250.2 332.8 L250.8 332.9 L317.7 332.9" fill="none" stroke="#111" stroke-width="0.95" stroke-linejoin="round"/>
<path d="M206.1 356.2 L206.1 356.2 L206.7 356.1 L207.3 355.8 L207.9 355.4 L208.5 354.8 L209.1 354.2 L209.7 353.4 L210.3 352 L211 350 L211.6 347.7 L212.2 345.3 L212.8 343.1 L213.4 341.5 L214 339.7 L214.6 338 L215.2 336.4 L215.8 335 L216.4 334.1 L217 333.8 L217.6 334.1 L218.2 334.7 L218.8 335.4 L219.4 336.2 L220.1 336.9 L220.7 337.3 L221.3 337.8 L221.9 338.2 L222.5 338.3 L223.1 338.1 L223.7 337.6 L224.3 337 L224.9 336.5 L225.5 336.1 L226.1 336.1 L226.7 337 L227.3 338.6 L227.9 340.4 L228.5 342.2 L229.2 343.5 L229.8 344.7 L230.4 345.8 L231 346.9 L231.6 347.8 L232.2 348.6 L232.8 349.2 L233.4 349.7 L234 350.1 L234.6 350.5 L235.2 350.9 L235.8 351.2 L236.4 351.6 L237 351.9 L237.6 352.3 L238.2 352.6 L238.9 353 L239.5 353.3 L240.1 353.6 L240.7 353.9 L241.3 354.1 L241.9 354.4 L242.5 354.6 L243.1 354.8 L243.7 355 L244.3 355.2 L244.9 355.3 L245.5 355.5 L246.1 355.6 L246.7 355.7 L247.3 355.7 L248 355.7 L248.6 355.6 L249.2 355.6 L249.8 355.5 L250.4 355.4 L251 355.3 L251.6 355.2 L252.2 355.2 L252.8 355.1 L253.4 355 L254 355 L254.6 355 L255.2 355 L255.8 355.1 L256.4 355.1 L257.1 355.2 L257.7 355.3 L258.3 355.4 L258.9 355.5 L259.5 355.7 L260.1 355.8 L260.7 356 L261.3 356.2 L261.3 356.2Z" fill="#DC756B" stroke="none"/>
<path d="M206.1 356.2 L206.7 356.1 L207.3 355.8 L207.9 355.4 L208.5 354.8 L209.1 354.2 L209.7 353.4 L210.3 352 L211 350 L211.6 347.7 L212.2 345.3 L212.8 343.1 L213.4 341.5 L214 339.7 L214.6 338 L215.2 336.4 L215.8 335 L216.4 334.1 L217 333.8 L217.6 334.1 L218.2 334.7 L218.8 335.4 L219.4 336.2 L220.1 336.9 L220.7 337.3 L221.3 337.8 L221.9 338.2 L222.5 338.3 L223.1 338.1 L223.7 337.6 L224.3 337 L224.9 336.5 L225.5 336.1 L226.1 336.1 L226.7 337 L227.3 338.6 L227.9 340.4 L228.5 342.2 L229.2 343.5 L229.8 344.7 L230.4 345.8 L231 346.9 L231.6 347.8 L232.2 348.6 L232.8 349.2 L233.4 349.7 L234 350.1 L234.6 350.5 L235.2 350.9 L235.8 351.2 L236.4 351.6 L237 351.9 L237.6 352.3 L238.2 352.6 L238.9 353 L239.5 353.3 L240.1 353.6 L240.7 353.9 L241.3 354.1 L241.9 354.4 L242.5 354.6 L243.1 354.8 L243.7 355 L244.3 355.2 L244.9 355.3 L245.5 355.5 L246.1 355.6 L246.7 355.7 L247.3 355.7 L248 355.7 L248.6 355.6 L249.2 355.6 L249.8 355.5 L250.4 355.4 L251 355.3 L251.6 355.2 L252.2 355.2 L252.8 355.1 L253.4 355 L254 355 L254.6 355 L255.2 355 L255.8 355.1 L256.4 355.1 L257.1 355.2 L257.7 355.3 L258.3 355.4 L258.9 355.5 L259.5 355.7 L260.1 355.8 L260.7 356 L261.3 356.2 L317.7 356.2" fill="none" stroke="#111" stroke-width="0.95" stroke-linejoin="round"/>
<line x1="238.4" y1="239.8" x2="237.6" y2="368.6" stroke="#dd0000" stroke-width="2.3"/>
<path d="M359 262.8H514.9 M359 286.2H514.9 M359 309.4H514.9 M359 332.9H514.9 M359 356.2H514.9 M378.4 240.3V372.6 M410.7 240.3V372.6 M443 240.3V372.6 M475.3 240.3V372.6 M507.6 240.3V372.6" stroke="#ebebeb" stroke-width="1" fill="none"/>
<text x="378.4" y="382.3" font-size="9" text-anchor="middle" fill="#111" stroke="#111" stroke-width="0.15">0</text>
<text x="410.7" y="382.3" font-size="9" text-anchor="middle" fill="#111" stroke="#111" stroke-width="0.15">1</text>
<text x="443" y="382.3" font-size="9" text-anchor="middle" fill="#111" stroke="#111" stroke-width="0.15">2</text>
<text x="475.3" y="382.3" font-size="9" text-anchor="middle" fill="#111" stroke="#111" stroke-width="0.15">3</text>
<text x="507.6" y="382.3" font-size="9" text-anchor="middle" fill="#111" stroke="#111" stroke-width="0.15">4</text>
<path d="M368.1 262.8 L368.1 262.8 L368.7 262.8 L369.3 262.8 L369.9 262.8 L370.5 262.8 L371.1 262.8 L371.7 262.8 L372.3 262.8 L372.9 262.8 L373.6 262.8 L374.2 262.8 L374.8 262.8 L375.4 262.8 L376 262.8 L376.6 262.8 L377.2 262.8 L377.8 262.8 L378.4 262.7 L379 262.7 L379.6 262.7 L380.2 262.7 L380.8 262.7 L381.4 262.7 L382 262.6 L382.6 262.6 L383.3 262.5 L383.9 262.5 L384.5 262.4 L385.1 262.4 L385.7 262.4 L386.3 262.3 L386.9 262.3 L387.5 262.2 L388.1 262.2 L388.7 262.2 L389.3 262.2 L389.9 262.2 L390.5 262.2 L391.1 262.2 L391.7 262.2 L392.3 262.2 L393 262.2 L393.6 262.2 L394.2 262.3 L394.8 262.3 L395.4 262.4 L396 262.4 L396.6 262.4 L397.2 262.5 L397.8 262.5 L398.4 262.6 L399 262.6 L399.6 262.6 L400.2 262.7 L400.8 262.7 L401.4 262.7 L402 262.7 L402.7 262.7 L403.3 262.7 L403.9 262.7 L404.5 262.7 L405.1 262.7 L405.7 262.6 L406.3 262.6 L406.9 262.6 L407.5 262.5 L408.1 262.4 L408.7 262.4 L409.3 262.3 L409.9 262.2 L410.5 262.1 L411.1 261.9 L411.7 261.8 L412.4 261.6 L413 261.4 L413.6 261.2 L414.2 261 L414.8 260.8 L415.4 260.7 L416 260.5 L416.6 260.3 L417.2 260.1 L417.8 259.9 L418.4 259.7 L419 259.5 L419.6 259.3 L420.2 259.1 L420.8 258.9 L421.4 258.7 L422.1 258.5 L422.7 258.2 L423.3 257.9 L423.9 257.7 L424.5 257.4 L425.1 257.1 L425.7 256.8 L426.3 256.5 L426.9 256.3 L427.5 256 L428.1 255.8 L428.7 255.5 L429.3 255.3 L429.9 255.1 L430.5 254.9 L431.1 254.7 L431.8 254.4 L432.4 254.2 L433 253.9 L433.6 253.6 L434.2 253.3 L434.8 252.9 L435.4 252.5 L436 252.1 L436.6 251.6 L437.2 251.1 L437.8 250.6 L438.4 250.1 L439 249.6 L439.6 249 L440.2 248.5 L440.8 247.9 L441.5 247.3 L442.1 246.6 L442.7 245.9 L443.3 245.1 L443.9 244.1 L444.5 243.1 L445.1 242.3 L445.7 241.8 L446.3 241.4 L446.9 241 L447.5 240.8 L448.1 240.8 L448.7 240.7 L449.3 240.7 L449.9 240.7 L450.5 240.7 L451.2 240.7 L451.8 240.8 L452.4 240.9 L453 241.2 L453.6 241.7 L454.2 242.3 L454.8 243.1 L455.4 243.9 L456 244.8 L456.6 245.9 L457.2 247.1 L457.8 248.3 L458.4 249.5 L459 250.8 L459.6 252.2 L460.2 253.6 L460.9 254.7 L461.5 255.5 L462.1 256.3 L462.7 257 L463.3 257.6 L463.9 258.2 L464.5 258.7 L465.1 259.1 L465.7 259.4 L466.3 259.7 L466.9 260 L467.5 260.2 L468.1 260.4 L468.7 260.6 L469.3 260.8 L469.9 261 L470.6 261.2 L471.2 261.4 L471.8 261.6 L472.4 261.8 L473 262 L473.6 262.2 L474.2 262.4 L474.8 262.6 L475.4 262.8 L475.4 262.8Z" fill="#CB6DF0" stroke="none"/>
<path d="M368.1 262.8 L368.7 262.8 L369.3 262.8 L369.9 262.8 L370.5 262.8 L371.1 262.8 L371.7 262.8 L372.3 262.8 L372.9 262.8 L373.6 262.8 L374.2 262.8 L374.8 262.8 L375.4 262.8 L376 262.8 L376.6 262.8 L377.2 262.8 L377.8 262.8 L378.4 262.7 L379 262.7 L379.6 262.7 L380.2 262.7 L380.8 262.7 L381.4 262.7 L382 262.6 L382.6 262.6 L383.3 262.5 L383.9 262.5 L384.5 262.4 L385.1 262.4 L385.7 262.4 L386.3 262.3 L386.9 262.3 L387.5 262.2 L388.1 262.2 L388.7 262.2 L389.3 262.2 L389.9 262.2 L390.5 262.2 L391.1 262.2 L391.7 262.2 L392.3 262.2 L393 262.2 L393.6 262.2 L394.2 262.3 L394.8 262.3 L395.4 262.4 L396 262.4 L396.6 262.4 L397.2 262.5 L397.8 262.5 L398.4 262.6 L399 262.6 L399.6 262.6 L400.2 262.7 L400.8 262.7 L401.4 262.7 L402 262.7 L402.7 262.7 L403.3 262.7 L403.9 262.7 L404.5 262.7 L405.1 262.7 L405.7 262.6 L406.3 262.6 L406.9 262.6 L407.5 262.5 L408.1 262.4 L408.7 262.4 L409.3 262.3 L409.9 262.2 L410.5 262.1 L411.1 261.9 L411.7 261.8 L412.4 261.6 L413 261.4 L413.6 261.2 L414.2 261 L414.8 260.8 L415.4 260.7 L416 260.5 L416.6 260.3 L417.2 260.1 L417.8 259.9 L418.4 259.7 L419 259.5 L419.6 259.3 L420.2 259.1 L420.8 258.9 L421.4 258.7 L422.1 258.5 L422.7 258.2 L423.3 257.9 L423.9 257.7 L424.5 257.4 L425.1 257.1 L425.7 256.8 L426.3 256.5 L426.9 256.3 L427.5 256 L428.1 255.8 L428.7 255.5 L429.3 255.3 L429.9 255.1 L430.5 254.9 L431.1 254.7 L431.8 254.4 L432.4 254.2 L433 253.9 L433.6 253.6 L434.2 253.3 L434.8 252.9 L435.4 252.5 L436 252.1 L436.6 251.6 L437.2 251.1 L437.8 250.6 L438.4 250.1 L439 249.6 L439.6 249 L440.2 248.5 L440.8 247.9 L441.5 247.3 L442.1 246.6 L442.7 245.9 L443.3 245.1 L443.9 244.1 L444.5 243.1 L445.1 242.3 L445.7 241.8 L446.3 241.4 L446.9 241 L447.5 240.8 L448.1 240.8 L448.7 240.7 L449.3 240.7 L449.9 240.7 L450.5 240.7 L451.2 240.7 L451.8 240.8 L452.4 240.9 L453 241.2 L453.6 241.7 L454.2 242.3 L454.8 243.1 L455.4 243.9 L456 244.8 L456.6 245.9 L457.2 247.1 L457.8 248.3 L458.4 249.5 L459 250.8 L459.6 252.2 L460.2 253.6 L460.9 254.7 L461.5 255.5 L462.1 256.3 L462.7 257 L463.3 257.6 L463.9 258.2 L464.5 258.7 L465.1 259.1 L465.7 259.4 L466.3 259.7 L466.9 260 L467.5 260.2 L468.1 260.4 L468.7 260.6 L469.3 260.8 L469.9 261 L470.6 261.2 L471.2 261.4 L471.8 261.6 L472.4 261.8 L473 262 L473.6 262.2 L474.2 262.4 L474.8 262.6 L475.4 262.8 L496.9 262.8" fill="none" stroke="#111" stroke-width="0.95" stroke-linejoin="round"/>
<path d="M368.1 286.2 L368.1 286.2 L368.7 286.2 L369.3 286.2 L369.9 286.2 L370.5 286.2 L371.1 286.2 L371.7 286.2 L372.4 286.2 L373 286.2 L373.6 286.2 L374.2 286.2 L374.8 286.2 L375.4 286.2 L376 286.2 L376.6 286.2 L377.2 286.2 L377.8 286.2 L378.4 286.2 L379 286.2 L379.6 286.2 L380.2 286.2 L380.9 286.2 L381.5 286.2 L382.1 286.2 L382.7 286.2 L383.3 286.2 L383.9 286.1 L384.5 286 L385.1 285.9 L385.7 285.8 L386.3 285.6 L386.9 285.5 L387.5 285.4 L388.1 285.3 L388.7 285.2 L389.4 285.2 L390 285.2 L390.6 285.2 L391.2 285.3 L391.8 285.4 L392.4 285.5 L393 285.6 L393.6 285.7 L394.2 285.8 L394.8 285.9 L395.4 285.9 L396 285.9 L396.6 285.8 L397.2 285.7 L397.9 285.4 L398.5 285.2 L399.1 284.9 L399.7 284.5 L400.3 284.2 L400.9 283.9 L401.5 283.6 L402.1 283.2 L402.7 282.8 L403.3 282.4 L403.9 282 L404.5 281.5 L405.1 281.1 L405.7 280.6 L406.4 280.1 L407 279.6 L407.6 279 L408.2 278.4 L408.8 277.8 L409.4 277.2 L410 276.5 L410.6 275.8 L411.2 275.1 L411.8 274.2 L412.4 273.1 L413 272 L413.6 270.9 L414.3 269.9 L414.9 269 L415.5 268.4 L416.1 267.7 L416.7 267.1 L417.3 266.6 L417.9 266.1 L418.5 265.7 L419.1 265.3 L419.7 265 L420.3 264.7 L420.9 264.4 L421.5 264.2 L422.1 264 L422.8 263.8 L423.4 263.5 L424 263.3 L424.6 263.1 L425.2 263.1 L425.8 263.3 L426.4 263.7 L427 264.3 L427.6 265 L428.2 265.7 L428.8 266.6 L429.4 267.8 L430 269.1 L430.6 270.4 L431.3 271.8 L431.9 273.2 L432.5 274.8 L433.1 276.4 L433.7 278 L434.3 279.5 L434.9 280.6 L435.5 281.7 L436.1 282.7 L436.7 283.6 L437.3 284.4 L437.9 284.9 L438.5 285.2 L439.1 285.3 L439.8 285.3 L440.4 285.4 L441 285.5 L441.6 285.5 L442.2 285.5 L442.8 285.5 L443.4 285.5 L444 285.5 L444.6 285.4 L445.2 285.4 L445.8 285.3 L446.4 285.2 L447 285.2 L447.6 285.2 L448.3 285.2 L448.9 285.2 L449.5 285.4 L450.1 285.6 L450.7 285.8 L451.3 286 L451.9 286.2 L451.9 286.2Z" fill="#63AFF2" stroke="none"/>
<path d="M368.1 286.2 L368.7 286.2 L369.3 286.2 L369.9 286.2 L370.5 286.2 L371.1 286.2 L371.7 286.2 L372.4 286.2 L373 286.2 L373.6 286.2 L374.2 286.2 L374.8 286.2 L375.4 286.2 L376 286.2 L376.6 286.2 L377.2 286.2 L377.8 286.2 L378.4 286.2 L379 286.2 L379.6 286.2 L380.2 286.2 L380.9 286.2 L381.5 286.2 L382.1 286.2 L382.7 286.2 L383.3 286.2 L383.9 286.1 L384.5 286 L385.1 285.9 L385.7 285.8 L386.3 285.6 L386.9 285.5 L387.5 285.4 L388.1 285.3 L388.7 285.2 L389.4 285.2 L390 285.2 L390.6 285.2 L391.2 285.3 L391.8 285.4 L392.4 285.5 L393 285.6 L393.6 285.7 L394.2 285.8 L394.8 285.9 L395.4 285.9 L396 285.9 L396.6 285.8 L397.2 285.7 L397.9 285.4 L398.5 285.2 L399.1 284.9 L399.7 284.5 L400.3 284.2 L400.9 283.9 L401.5 283.6 L402.1 283.2 L402.7 282.8 L403.3 282.4 L403.9 282 L404.5 281.5 L405.1 281.1 L405.7 280.6 L406.4 280.1 L407 279.6 L407.6 279 L408.2 278.4 L408.8 277.8 L409.4 277.2 L410 276.5 L410.6 275.8 L411.2 275.1 L411.8 274.2 L412.4 273.1 L413 272 L413.6 270.9 L414.3 269.9 L414.9 269 L415.5 268.4 L416.1 267.7 L416.7 267.1 L417.3 266.6 L417.9 266.1 L418.5 265.7 L419.1 265.3 L419.7 265 L420.3 264.7 L420.9 264.4 L421.5 264.2 L422.1 264 L422.8 263.8 L423.4 263.5 L424 263.3 L424.6 263.1 L425.2 263.1 L425.8 263.3 L426.4 263.7 L427 264.3 L427.6 265 L428.2 265.7 L428.8 266.6 L429.4 267.8 L430 269.1 L430.6 270.4 L431.3 271.8 L431.9 273.2 L432.5 274.8 L433.1 276.4 L433.7 278 L434.3 279.5 L434.9 280.6 L435.5 281.7 L436.1 282.7 L436.7 283.6 L437.3 284.4 L437.9 284.9 L438.5 285.2 L439.1 285.3 L439.8 285.3 L440.4 285.4 L441 285.5 L441.6 285.5 L442.2 285.5 L442.8 285.5 L443.4 285.5 L444 285.5 L444.6 285.4 L445.2 285.4 L445.8 285.3 L446.4 285.2 L447 285.2 L447.6 285.2 L448.3 285.2 L448.9 285.2 L449.5 285.4 L450.1 285.6 L450.7 285.8 L451.3 286 L451.9 286.2 L496.9 286.2" fill="none" stroke="#111" stroke-width="0.95" stroke-linejoin="round"/>
<path d="M368.1 309.4 L368.1 309.4 L368.7 309.3 L369.3 309.2 L369.9 308.9 L370.5 308.5 L371.1 308.1 L371.7 307.3 L372.3 305.7 L372.9 303.7 L373.5 301.5 L374.1 299.3 L374.7 297.1 L375.4 294.5 L376 291.9 L376.6 290 L377.2 288.8 L377.8 287.8 L378.4 287.2 L379 287 L379.6 287.6 L380.2 288.5 L380.8 289.5 L381.4 290.3 L382 290.9 L382.6 291.5 L383.2 292 L383.8 292.3 L384.4 292.2 L385 291.9 L385.6 291.4 L386.2 290.9 L386.8 290.7 L387.4 290.9 L388 291.5 L388.6 292.5 L389.3 293.6 L389.9 294.6 L390.5 295.6 L391.1 296.4 L391.7 297.2 L392.3 298 L392.9 298.7 L393.5 299.5 L394.1 300.2 L394.7 300.9 L395.3 301.6 L395.9 302.2 L396.5 302.9 L397.1 303.5 L397.7 304.1 L398.3 304.6 L398.9 305.1 L399.5 305.5 L400.1 306 L400.7 306.4 L401.3 306.8 L401.9 307.1 L402.6 307.3 L403.2 307.4 L403.8 307.5 L404.4 307.6 L405 307.7 L405.6 307.8 L406.2 307.9 L406.8 307.9 L407.4 308 L408 308 L408.6 308 L409.2 308 L409.8 308 L410.4 307.9 L411 307.9 L411.6 307.8 L412.2 307.8 L412.8 307.7 L413.4 307.6 L414 307.5 L414.6 307.4 L415.2 307.3 L415.8 307.2 L416.5 307.1 L417.1 307 L417.7 306.9 L418.3 306.9 L418.9 306.8 L419.5 306.7 L420.1 306.7 L420.7 306.6 L421.3 306.5 L421.9 306.5 L422.5 306.4 L423.1 306.3 L423.7 306.2 L424.3 306.2 L424.9 306.1 L425.5 306 L426.1 305.9 L426.7 305.7 L427.3 305.6 L427.9 305.4 L428.5 305.3 L429.1 305.1 L429.7 305 L430.4 304.8 L431 304.7 L431.6 304.7 L432.2 304.6 L432.8 304.6 L433.4 304.7 L434 304.9 L434.6 305.2 L435.2 305.5 L435.8 305.8 L436.4 306.1 L437 306.4 L437.6 306.6 L438.2 306.8 L438.8 307 L439.4 307.2 L440 307.3 L440.6 307.5 L441.2 307.7 L441.8 307.9 L442.4 308 L443 308.1 L443.7 308.3 L444.3 308.4 L444.9 308.4 L445.5 308.5 L446.1 308.5 L446.7 308.5 L447.3 308.5 L447.9 308.6 L448.5 308.6 L449.1 308.6 L449.7 308.6 L450.3 308.6 L450.9 308.6 L451.5 308.6 L452.1 308.6 L452.7 308.6 L453.3 308.6 L453.9 308.6 L454.5 308.7 L455.1 308.7 L455.7 308.7 L456.3 308.7 L456.9 308.7 L457.6 308.8 L458.2 308.8 L458.8 308.9 L459.4 308.9 L460 309 L460.6 309 L461.2 309.1 L461.8 309.1 L462.4 309.2 L463 309.3 L463.6 309.3 L464.2 309.4 L464.2 309.4Z" fill="#68BD7D" stroke="none"/>
<path d="M368.1 309.4 L368.7 309.3 L369.3 309.2 L369.9 308.9 L370.5 308.5 L371.1 308.1 L371.7 307.3 L372.3 305.7 L372.9 303.7 L373.5 301.5 L374.1 299.3 L374.7 297.1 L375.4 294.5 L376 291.9 L376.6 290 L377.2 288.8 L377.8 287.8 L378.4 287.2 L379 287 L379.6 287.6 L380.2 288.5 L380.8 289.5 L381.4 290.3 L382 290.9 L382.6 291.5 L383.2 292 L383.8 292.3 L384.4 292.2 L385 291.9 L385.6 291.4 L386.2 290.9 L386.8 290.7 L387.4 290.9 L388 291.5 L388.6 292.5 L389.3 293.6 L389.9 294.6 L390.5 295.6 L391.1 296.4 L391.7 297.2 L392.3 298 L392.9 298.7 L393.5 299.5 L394.1 300.2 L394.7 300.9 L395.3 301.6 L395.9 302.2 L396.5 302.9 L397.1 303.5 L397.7 304.1 L398.3 304.6 L398.9 305.1 L399.5 305.5 L400.1 306 L400.7 306.4 L401.3 306.8 L401.9 307.1 L402.6 307.3 L403.2 307.4 L403.8 307.5 L404.4 307.6 L405 307.7 L405.6 307.8 L406.2 307.9 L406.8 307.9 L407.4 308 L408 308 L408.6 308 L409.2 308 L409.8 308 L410.4 307.9 L411 307.9 L411.6 307.8 L412.2 307.8 L412.8 307.7 L413.4 307.6 L414 307.5 L414.6 307.4 L415.2 307.3 L415.8 307.2 L416.5 307.1 L417.1 307 L417.7 306.9 L418.3 306.9 L418.9 306.8 L419.5 306.7 L420.1 306.7 L420.7 306.6 L421.3 306.5 L421.9 306.5 L422.5 306.4 L423.1 306.3 L423.7 306.2 L424.3 306.2 L424.9 306.1 L425.5 306 L426.1 305.9 L426.7 305.7 L427.3 305.6 L427.9 305.4 L428.5 305.3 L429.1 305.1 L429.7 305 L430.4 304.8 L431 304.7 L431.6 304.7 L432.2 304.6 L432.8 304.6 L433.4 304.7 L434 304.9 L434.6 305.2 L435.2 305.5 L435.8 305.8 L436.4 306.1 L437 306.4 L437.6 306.6 L438.2 306.8 L438.8 307 L439.4 307.2 L440 307.3 L440.6 307.5 L441.2 307.7 L441.8 307.9 L442.4 308 L443 308.1 L443.7 308.3 L444.3 308.4 L444.9 308.4 L445.5 308.5 L446.1 308.5 L446.7 308.5 L447.3 308.5 L447.9 308.6 L448.5 308.6 L449.1 308.6 L449.7 308.6 L450.3 308.6 L450.9 308.6 L451.5 308.6 L452.1 308.6 L452.7 308.6 L453.3 308.6 L453.9 308.6 L454.5 308.7 L455.1 308.7 L455.7 308.7 L456.3 308.7 L456.9 308.7 L457.6 308.8 L458.2 308.8 L458.8 308.9 L459.4 308.9 L460 309 L460.6 309 L461.2 309.1 L461.8 309.1 L462.4 309.2 L463 309.3 L463.6 309.3 L464.2 309.4 L496.9 309.4" fill="none" stroke="#111" stroke-width="0.95" stroke-linejoin="round"/>
<path d="M368.1 332.9 L368.1 332.9 L368.7 332.7 L369.3 332.4 L369.9 332 L370.5 331.4 L371.1 330.7 L371.7 329.8 L372.4 328.4 L373 326.8 L373.6 324.9 L374.2 322.9 L374.8 320.8 L375.4 318.1 L376 315.5 L376.6 313.5 L377.2 312.2 L377.8 311.1 L378.4 310.4 L379 310.3 L379.7 311 L380.3 312.2 L380.9 313.5 L381.5 314.5 L382.1 315.3 L382.7 316.2 L383.3 316.9 L383.9 317.3 L384.5 317.3 L385.1 317.1 L385.7 316.9 L386.3 316.6 L387 316.4 L387.6 316.4 L388.2 316.7 L388.8 317.5 L389.4 318.5 L390 319.5 L390.6 320.5 L391.2 321.2 L391.8 322 L392.4 322.8 L393 323.5 L393.6 324.3 L394.2 325 L394.9 325.7 L395.5 326.5 L396.1 327.3 L396.7 328 L397.3 328.7 L397.9 329.4 L398.5 329.9 L399.1 330.2 L399.7 330.6 L400.3 330.9 L400.9 331.2 L401.5 331.4 L402.2 331.7 L402.8 331.9 L403.4 332.1 L404 332.2 L404.6 332.3 L405.2 332.4 L405.8 332.4 L406.4 332.5 L407 332.6 L407.6 332.6 L408.2 332.7 L408.8 332.7 L409.5 332.7 L410.1 332.8 L410.7 332.8 L411.3 332.8 L411.9 332.8 L412.5 332.8 L413.1 332.9 L413.1 332.9Z" fill="#A2A326" stroke="none"/>
<path d="M368.1 332.9 L368.7 332.7 L369.3 332.4 L369.9 332 L370.5 331.4 L371.1 330.7 L371.7 329.8 L372.4 328.4 L373 326.8 L373.6 324.9 L374.2 322.9 L374.8 320.8 L375.4 318.1 L376 315.5 L376.6 313.5 L377.2 312.2 L377.8 311.1 L378.4 310.4 L379 310.3 L379.7 311 L380.3 312.2 L380.9 313.5 L381.5 314.5 L382.1 315.3 L382.7 316.2 L383.3 316.9 L383.9 317.3 L384.5 317.3 L385.1 317.1 L385.7 316.9 L386.3 316.6 L387 316.4 L387.6 316.4 L388.2 316.7 L388.8 317.5 L389.4 318.5 L390 319.5 L390.6 320.5 L391.2 321.2 L391.8 322 L392.4 322.8 L393 323.5 L393.6 324.3 L394.2 325 L394.9 325.7 L395.5 326.5 L396.1 327.3 L396.7 328 L397.3 328.7 L397.9 329.4 L398.5 329.9 L399.1 330.2 L399.7 330.6 L400.3 330.9 L400.9 331.2 L401.5 331.4 L402.2 331.7 L402.8 331.9 L403.4 332.1 L404 332.2 L404.6 332.3 L405.2 332.4 L405.8 332.4 L406.4 332.5 L407 332.6 L407.6 332.6 L408.2 332.7 L408.8 332.7 L409.5 332.7 L410.1 332.8 L410.7 332.8 L411.3 332.8 L411.9 332.8 L412.5 332.8 L413.1 332.9 L496.9 332.9" fill="none" stroke="#111" stroke-width="0.95" stroke-linejoin="round"/>
<path d="M368.1 356.2 L368.1 356.2 L368.7 356.1 L369.3 355.9 L369.9 355.7 L370.5 355.3 L371.1 354.9 L371.7 354.5 L372.3 354 L372.9 353.4 L373.6 352.6 L374.2 351.6 L374.8 350.6 L375.4 349.6 L376 348.5 L376.6 347.5 L377.2 346.5 L377.8 345.5 L378.4 344.4 L379 343.3 L379.6 342.2 L380.2 341.1 L380.8 340 L381.4 338.8 L382 337.5 L382.6 336.4 L383.3 335.6 L383.9 335 L384.5 334.5 L385.1 334 L385.7 333.8 L386.3 333.7 L386.9 334 L387.5 334.7 L388.1 335.4 L388.7 336.3 L389.3 337.3 L389.9 338.7 L390.5 340.2 L391.1 341.8 L391.7 343.2 L392.3 344.7 L393 346.2 L393.6 347.7 L394.2 349 L394.8 350.1 L395.4 351.1 L396 352 L396.6 352.9 L397.2 353.6 L397.8 354.1 L398.4 354.5 L399 354.7 L399.6 354.9 L400.2 355.1 L400.8 355.3 L401.4 355.4 L402 355.5 L402.7 355.6 L403.3 355.6 L403.9 355.7 L404.5 355.8 L405.1 355.8 L405.7 355.9 L406.3 356 L406.9 356 L407.5 356.1 L408.1 356.1 L408.7 356.1 L409.3 356.2 L409.9 356.2 L410.5 356.2 L411.1 356.2 L411.7 356.2 L412.4 356.2 L413 356.1 L413.6 356.1 L414.2 356 L414.8 355.9 L415.4 355.9 L416 355.8 L416.6 355.7 L417.2 355.7 L417.8 355.6 L418.4 355.6 L419 355.6 L419.6 355.6 L420.2 355.6 L420.8 355.7 L421.4 355.7 L422.1 355.8 L422.7 355.8 L423.3 355.9 L423.9 356 L424.5 356 L425.1 356.1 L425.7 356.1 L426.3 356.2 L426.9 356.2 L427.5 356.2 L428.1 356.2 L428.7 356.2 L429.3 356.2 L429.9 356.2 L430.5 356.2 L431.1 356.2 L431.8 356.2 L432.4 356.1 L433 356.1 L433.6 356.1 L434.2 356.1 L434.8 356.1 L435.4 356.1 L436 356 L436.6 356 L437.2 356 L437.8 356 L438.4 355.9 L439 355.9 L439.6 355.8 L440.2 355.7 L440.8 355.6 L441.5 355.6 L442.1 355.5 L442.7 355.4 L443.3 355.3 L443.9 355.3 L444.5 355.2 L445.1 355.2 L445.7 355.1 L446.3 355.1 L446.9 355.1 L447.5 355.1 L448.1 355.1 L448.7 355.2 L449.3 355.2 L449.9 355.2 L450.5 355.3 L451.2 355.4 L451.8 355.4 L452.4 355.5 L453 355.6 L453.6 355.7 L454.2 355.8 L454.8 355.9 L455.4 356.1 L456 356.2 L456 356.2Z" fill="#DC756B" stroke="none"/>
<path d="M368.1 356.2 L368.7 356.1 L369.3 355.9 L369.9 355.7 L370.5 355.3 L371.1 354.9 L371.7 354.5 L372.3 354 L372.9 353.4 L373.6 352.6 L374.2 351.6 L374.8 350.6 L375.4 349.6 L376 348.5 L376.6 347.5 L377.2 346.5 L377.8 345.5 L378.4 344.4 L379 343.3 L379.6 342.2 L380.2 341.1 L380.8 340 L381.4 338.8 L382 337.5 L382.6 336.4 L383.3 335.6 L383.9 335 L384.5 334.5 L385.1 334 L385.7 333.8 L386.3 333.7 L386.9 334 L387.5 334.7 L388.1 335.4 L388.7 336.3 L389.3 337.3 L389.9 338.7 L390.5 340.2 L391.1 341.8 L391.7 343.2 L392.3 344.7 L393 346.2 L393.6 347.7 L394.2 349 L394.8 350.1 L395.4 351.1 L396 352 L396.6 352.9 L397.2 353.6 L397.8 354.1 L398.4 354.5 L399 354.7 L399.6 354.9 L400.2 355.1 L400.8 355.3 L401.4 355.4 L402 355.5 L402.7 355.6 L403.3 355.6 L403.9 355.7 L404.5 355.8 L405.1 355.8 L405.7 355.9 L406.3 356 L406.9 356 L407.5 356.1 L408.1 356.1 L408.7 356.1 L409.3 356.2 L409.9 356.2 L410.5 356.2 L411.1 356.2 L411.7 356.2 L412.4 356.2 L413 356.1 L413.6 356.1 L414.2 356 L414.8 355.9 L415.4 355.9 L416 355.8 L416.6 355.7 L417.2 355.7 L417.8 355.6 L418.4 355.6 L419 355.6 L419.6 355.6 L420.2 355.6 L420.8 355.7 L421.4 355.7 L422.1 355.8 L422.7 355.8 L423.3 355.9 L423.9 356 L424.5 356 L425.1 356.1 L425.7 356.1 L426.3 356.2 L426.9 356.2 L427.5 356.2 L428.1 356.2 L428.7 356.2 L429.3 356.2 L429.9 356.2 L430.5 356.2 L431.1 356.2 L431.8 356.2 L432.4 356.1 L433 356.1 L433.6 356.1 L434.2 356.1 L434.8 356.1 L435.4 356.1 L436 356 L436.6 356 L437.2 356 L437.8 356 L438.4 355.9 L439 355.9 L439.6 355.8 L440.2 355.7 L440.8 355.6 L441.5 355.6 L442.1 355.5 L442.7 355.4 L443.3 355.3 L443.9 355.3 L444.5 355.2 L445.1 355.2 L445.7 355.1 L446.3 355.1 L446.9 355.1 L447.5 355.1 L448.1 355.1 L448.7 355.2 L449.3 355.2 L449.9 355.2 L450.5 355.3 L451.2 355.4 L451.8 355.4 L452.4 355.5 L453 355.6 L453.6 355.7 L454.2 355.8 L454.8 355.9 L455.4 356.1 L456 356.2 L496.9 356.2" fill="none" stroke="#111" stroke-width="0.95" stroke-linejoin="round"/>
<line x1="402.3" y1="239.8" x2="401.25" y2="368.6" stroke="#dd0000" stroke-width="2.3"/>
<path d="M520.4 262.8H676.8 M520.4 286.2H676.8 M520.4 309.4H676.8 M520.4 332.9H676.8 M520.4 356.2H676.8 M539.9 240.3V372.6 M572.3 240.3V372.6 M604.7 240.3V372.6 M637.1 240.3V372.6 M669.5 240.3V372.6" stroke="#ebebeb" stroke-width="1" fill="none"/>
<text x="539.9" y="382.3" font-size="9" text-anchor="middle" fill="#111" stroke="#111" stroke-width="0.15">0</text>
<text x="572.3" y="382.3" font-size="9" text-anchor="middle" fill="#111" stroke="#111" stroke-width="0.15">1</text>
<text x="604.7" y="382.3" font-size="9" text-anchor="middle" fill="#111" stroke="#111" stroke-width="0.15">2</text>
<text x="637.1" y="382.3" font-size="9" text-anchor="middle" fill="#111" stroke="#111" stroke-width="0.15">3</text>
<text x="669.5" y="382.3" font-size="9" text-anchor="middle" fill="#111" stroke="#111" stroke-width="0.15">4</text>
<path d="M528.5 262.8 L528.5 262.8 L529.1 262.8 L529.7 262.8 L530.3 262.8 L530.9 262.8 L531.5 262.8 L532.1 262.8 L532.7 262.8 L533.3 262.8 L533.9 262.8 L534.5 262.8 L535.2 262.8 L535.8 262.8 L536.4 262.8 L537 262.8 L537.6 262.8 L538.2 262.8 L538.8 262.8 L539.4 262.8 L540 262.8 L540.6 262.8 L541.2 262.8 L541.8 262.8 L542.4 262.8 L543 262.8 L543.6 262.8 L544.2 262.8 L544.8 262.8 L545.4 262.8 L546 262.8 L546.6 262.8 L547.2 262.8 L547.8 262.8 L548.5 262.8 L549.1 262.8 L549.7 262.8 L550.3 262.8 L550.9 262.8 L551.5 262.8 L552.1 262.8 L552.7 262.8 L553.3 262.8 L553.9 262.8 L554.5 262.8 L555.1 262.8 L555.7 262.8 L556.3 262.8 L556.9 262.8 L557.5 262.8 L558.1 262.8 L558.7 262.8 L559.3 262.8 L559.9 262.8 L560.5 262.8 L561.1 262.8 L561.8 262.8 L562.4 262.8 L563 262.8 L563.6 262.8 L564.2 262.8 L564.8 262.8 L565.4 262.8 L566 262.8 L566.6 262.8 L567.2 262.8 L567.8 262.8 L568.4 262.8 L569 262.8 L569.6 262.8 L570.2 262.8 L570.8 262.8 L571.4 262.8 L572 262.8 L572.6 262.8 L573.2 262.7 L573.8 262.7 L574.4 262.6 L575.1 262.5 L575.7 262.4 L576.3 262.2 L576.9 262.1 L577.5 261.9 L578.1 261.8 L578.7 261.7 L579.3 261.5 L579.9 261.4 L580.5 261.3 L581.1 261.2 L581.7 261.1 L582.3 261 L582.9 260.8 L583.5 260.7 L584.1 260.6 L584.7 260.5 L585.3 260.3 L585.9 260.2 L586.5 260.1 L587.1 260 L587.7 259.8 L588.4 259.7 L589 259.6 L589.6 259.4 L590.2 259.2 L590.8 259 L591.4 258.8 L592 258.6 L592.6 258.3 L593.2 258 L593.8 257.7 L594.4 257.3 L595 257 L595.6 256.6 L596.2 256.1 L596.8 255.7 L597.4 255.1 L598 254.5 L598.6 253.9 L599.2 253.3 L599.8 252.7 L600.4 252.1 L601 251.5 L601.7 250.9 L602.3 250.3 L602.9 249.6 L603.5 249 L604.1 248.4 L604.7 247.8 L605.3 247.2 L605.9 246.7 L606.5 246.2 L607.1 245.7 L607.7 245.2 L608.3 244.8 L608.9 244.4 L609.5 244 L610.1 243.6 L610.7 243.2 L611.3 242.9 L611.9 242.6 L612.5 242.3 L613.1 242.1 L613.7 241.8 L614.3 241.6 L615 241.4 L615.6 241.2 L616.2 241.1 L616.8 241 L617.4 241 L618 240.9 L618.6 240.8 L619.2 240.8 L619.8 240.8 L620.4 240.8 L621 240.8 L621.6 240.9 L622.2 241.1 L622.8 241.3 L623.4 241.5 L624 241.7 L624.6 242 L625.2 242.5 L625.8 243.1 L626.4 243.7 L627 244.4 L627.6 245.2 L628.3 245.9 L628.9 246.7 L629.5 247.6 L630.1 248.5 L630.7 249.5 L631.3 250.5 L631.9 251.4 L632.5 252.2 L633.1 253 L633.7 253.8 L634.3 254.6 L634.9 255.3 L635.5 256.1 L636.1 256.8 L636.7 257.4 L637.3 258 L637.9 258.5 L638.5 259.1 L639.1 259.6 L639.7 260.1 L640.3 260.6 L640.9 261 L641.6 261.4 L642.2 261.6 L642.8 261.8 L643.4 262 L644 262.2 L644.6 262.3 L645.2 262.5 L645.8 262.6 L646.4 262.7 L647 262.7 L647.6 262.8 L647.6 262.8Z" fill="#CB6DF0" stroke="none"/>
<path d="M528.5 262.8 L529.1 262.8 L529.7 262.8 L530.3 262.8 L530.9 262.8 L531.5 262.8 L532.1 262.8 L532.7 262.8 L533.3 262.8 L533.9 262.8 L534.5 262.8 L535.2 262.8 L535.8 262.8 L536.4 262.8 L537 262.8 L537.6 262.8 L538.2 262.8 L538.8 262.8 L539.4 262.8 L540 262.8 L540.6 262.8 L541.2 262.8 L541.8 262.8 L542.4 262.8 L543 262.8 L543.6 262.8 L544.2 262.8 L544.8 262.8 L545.4 262.8 L546 262.8 L546.6 262.8 L547.2 262.8 L547.8 262.8 L548.5 262.8 L549.1 262.8 L549.7 262.8 L550.3 262.8 L550.9 262.8 L551.5 262.8 L552.1 262.8 L552.7 262.8 L553.3 262.8 L553.9 262.8 L554.5 262.8 L555.1 262.8 L555.7 262.8 L556.3 262.8 L556.9 262.8 L557.5 262.8 L558.1 262.8 L558.7 262.8 L559.3 262.8 L559.9 262.8 L560.5 262.8 L561.1 262.8 L561.8 262.8 L562.4 262.8 L563 262.8 L563.6 262.8 L564.2 262.8 L564.8 262.8 L565.4 262.8 L566 262.8 L566.6 262.8 L567.2 262.8 L567.8 262.8 L568.4 262.8 L569 262.8 L569.6 262.8 L570.2 262.8 L570.8 262.8 L571.4 262.8 L572 262.8 L572.6 262.8 L573.2 262.7 L573.8 262.7 L574.4 262.6 L575.1 262.5 L575.7 262.4 L576.3 262.2 L576.9 262.1 L577.5 261.9 L578.1 261.8 L578.7 261.7 L579.3 261.5 L579.9 261.4 L580.5 261.3 L581.1 261.2 L581.7 261.1 L582.3 261 L582.9 260.8 L583.5 260.7 L584.1 260.6 L584.7 260.5 L585.3 260.3 L585.9 260.2 L586.5 260.1 L587.1 260 L587.7 259.8 L588.4 259.7 L589 259.6 L589.6 259.4 L590.2 259.2 L590.8 259 L591.4 258.8 L592 258.6 L592.6 258.3 L593.2 258 L593.8 257.7 L594.4 257.3 L595 257 L595.6 256.6 L596.2 256.1 L596.8 255.7 L597.4 255.1 L598 254.5 L598.6 253.9 L599.2 253.3 L599.8 252.7 L600.4 252.1 L601 251.5 L601.7 250.9 L602.3 250.3 L602.9 249.6 L603.5 249 L604.1 248.4 L604.7 247.8 L605.3 247.2 L605.9 246.7 L606.5 246.2 L607.1 245.7 L607.7 245.2 L608.3 244.8 L608.9 244.4 L609.5 244 L610.1 243.6 L610.7 243.2 L611.3 242.9 L611.9 242.6 L612.5 242.3 L613.1 242.1 L613.7 241.8 L614.3 241.6 L615 241.4 L615.6 241.2 L616.2 241.1 L616.8 241 L617.4 241 L618 240.9 L618.6 240.8 L619.2 240.8 L619.8 240.8 L620.4 240.8 L621 240.8 L621.6 240.9 L622.2 241.1 L622.8 241.3 L623.4 241.5 L624 241.7 L624.6 242 L625.2 242.5 L625.8 243.1 L626.4 243.7 L627 244.4 L627.6 245.2 L628.3 245.9 L628.9 246.7 L629.5 247.6 L630.1 248.5 L630.7 249.5 L631.3 250.5 L631.9 251.4 L632.5 252.2 L633.1 253 L633.7 253.8 L634.3 254.6 L634.9 255.3 L635.5 256.1 L636.1 256.8 L636.7 257.4 L637.3 258 L637.9 258.5 L638.5 259.1 L639.1 259.6 L639.7 260.1 L640.3 260.6 L640.9 261 L641.6 261.4 L642.2 261.6 L642.8 261.8 L643.4 262 L644 262.2 L644.6 262.3 L645.2 262.5 L645.8 262.6 L646.4 262.7 L647 262.7 L647.6 262.8 L650.7 262.8" fill="none" stroke="#111" stroke-width="0.95" stroke-linejoin="round"/>
<path d="M528.5 286.2 L528.5 286.2 L529.1 286.2 L529.7 286.1 L530.3 286 L530.9 286 L531.5 285.9 L532.1 285.9 L532.7 285.8 L533.3 285.8 L533.9 285.7 L534.6 285.7 L535.2 285.7 L535.8 285.6 L536.4 285.6 L537 285.6 L537.6 285.6 L538.2 285.6 L538.8 285.6 L539.4 285.6 L540 285.6 L540.6 285.6 L541.2 285.6 L541.8 285.6 L542.4 285.6 L543 285.7 L543.6 285.7 L544.2 285.8 L544.8 285.8 L545.4 285.9 L546.1 286 L546.7 286 L547.3 286.1 L547.9 286.1 L548.5 286.2 L549.1 286.2 L549.7 286.2 L550.3 286.2 L550.9 286.2 L551.5 286.2 L552.1 286.2 L552.7 286.1 L553.3 286 L553.9 285.9 L554.5 285.8 L555.1 285.7 L555.7 285.5 L556.3 285.4 L557 285.3 L557.6 285.2 L558.2 285.1 L558.8 285 L559.4 284.9 L560 284.8 L560.6 284.7 L561.2 284.5 L561.8 284.4 L562.4 284.3 L563 284.2 L563.6 284 L564.2 283.9 L564.8 283.7 L565.4 283.5 L566 283.3 L566.6 283.1 L567.2 282.9 L567.8 282.6 L568.5 282.2 L569.1 281.7 L569.7 281.1 L570.3 280.5 L570.9 279.8 L571.5 279.1 L572.1 278.3 L572.7 277.6 L573.3 276.7 L573.9 275.8 L574.5 274.8 L575.1 273.9 L575.7 272.9 L576.3 272 L576.9 271 L577.5 270 L578.1 269 L578.7 268 L579.3 267.1 L580 266.4 L580.6 265.8 L581.2 265.3 L581.8 264.8 L582.4 264.4 L583 264 L583.6 263.7 L584.2 263.6 L584.8 263.5 L585.4 263.4 L586 263.3 L586.6 263.2 L587.2 263.2 L587.8 263.2 L588.4 263.2 L589 263.2 L589.6 263.3 L590.2 263.4 L590.9 263.5 L591.5 263.7 L592.1 264 L592.7 264.2 L593.3 264.9 L593.9 265.8 L594.5 267 L595.1 268.3 L595.7 269.7 L596.3 271.4 L596.9 273.4 L597.5 275.4 L598.1 277.3 L598.7 278.7 L599.3 279.9 L599.9 281 L600.5 282.1 L601.1 283 L601.7 283.7 L602.4 284.3 L603 284.7 L603.6 285 L604.2 285.3 L604.8 285.6 L605.4 285.8 L606 286 L606.6 286.1 L607.2 286.2 L607.8 286.2 L607.8 286.2Z" fill="#63AFF2" stroke="none"/>
<path d="M528.5 286.2 L529.1 286.2 L529.7 286.1 L530.3 286 L530.9 286 L531.5 285.9 L532.1 285.9 L532.7 285.8 L533.3 285.8 L533.9 285.7 L534.6 285.7 L535.2 285.7 L535.8 285.6 L536.4 285.6 L537 285.6 L537.6 285.6 L538.2 285.6 L538.8 285.6 L539.4 285.6 L540 285.6 L540.6 285.6 L541.2 285.6 L541.8 285.6 L542.4 285.6 L543 285.7 L543.6 285.7 L544.2 285.8 L544.8 285.8 L545.4 285.9 L546.1 286 L546.7 286 L547.3 286.1 L547.9 286.1 L548.5 286.2 L549.1 286.2 L549.7 286.2 L550.3 286.2 L550.9 286.2 L551.5 286.2 L552.1 286.2 L552.7 286.1 L553.3 286 L553.9 285.9 L554.5 285.8 L555.1 285.7 L555.7 285.5 L556.3 285.4 L557 285.3 L557.6 285.2 L558.2 285.1 L558.8 285 L559.4 284.9 L560 284.8 L560.6 284.7 L561.2 284.5 L561.8 284.4 L562.4 284.3 L563 284.2 L563.6 284 L564.2 283.9 L564.8 283.7 L565.4 283.5 L566 283.3 L566.6 283.1 L567.2 282.9 L567.8 282.6 L568.5 282.2 L569.1 281.7 L569.7 281.1 L570.3 280.5 L570.9 279.8 L571.5 279.1 L572.1 278.3 L572.7 277.6 L573.3 276.7 L573.9 275.8 L574.5 274.8 L575.1 273.9 L575.7 272.9 L576.3 272 L576.9 271 L577.5 270 L578.1 269 L578.7 268 L579.3 267.1 L580 266.4 L580.6 265.8 L581.2 265.3 L581.8 264.8 L582.4 264.4 L583 264 L583.6 263.7 L584.2 263.6 L584.8 263.5 L585.4 263.4 L586 263.3 L586.6 263.2 L587.2 263.2 L587.8 263.2 L588.4 263.2 L589 263.2 L589.6 263.3 L590.2 263.4 L590.9 263.5 L591.5 263.7 L592.1 264 L592.7 264.2 L593.3 264.9 L593.9 265.8 L594.5 267 L595.1 268.3 L595.7 269.7 L596.3 271.4 L596.9 273.4 L597.5 275.4 L598.1 277.3 L598.7 278.7 L599.3 279.9 L599.9 281 L600.5 282.1 L601.1 283 L601.7 283.7 L602.4 284.3 L603 284.7 L603.6 285 L604.2 285.3 L604.8 285.6 L605.4 285.8 L606 286 L606.6 286.1 L607.2 286.2 L607.8 286.2 L650.7 286.2" fill="none" stroke="#111" stroke-width="0.95" stroke-linejoin="round"/>
<path d="M528.5 309.4 L528.5 309.4 L529.1 309.3 L529.7 309.1 L530.3 308.7 L530.9 308.3 L531.5 307.7 L532.1 307.1 L532.7 306.1 L533.3 304.3 L533.9 302.1 L534.6 299.9 L535.2 297.9 L535.8 296.1 L536.4 294.3 L537 292.5 L537.6 291 L538.2 289.9 L538.8 289.1 L539.4 288.3 L540 287.7 L540.6 287.2 L541.2 287 L541.8 287 L542.4 287 L543 287 L543.6 287 L544.2 287 L544.8 287.1 L545.4 287.3 L546 287.6 L546.7 288 L547.3 288.4 L547.9 288.9 L548.5 289.4 L549.1 290 L549.7 290.6 L550.3 291.3 L550.9 292.1 L551.5 292.9 L552.1 293.8 L552.7 294.7 L553.3 295.7 L553.9 296.7 L554.5 297.5 L555.1 298.4 L555.7 299.2 L556.3 300.1 L556.9 300.9 L557.5 301.6 L558.1 302.3 L558.8 303 L559.4 303.5 L560 304.1 L560.6 304.6 L561.2 305.1 L561.8 305.5 L562.4 305.8 L563 306.1 L563.6 306.2 L564.2 306.4 L564.8 306.5 L565.4 306.7 L566 306.8 L566.6 306.9 L567.2 306.9 L567.8 307 L568.4 307 L569 307.1 L569.6 307.1 L570.2 307.2 L570.9 307.2 L571.5 307.3 L572.1 307.3 L572.7 307.3 L573.3 307.4 L573.9 307.4 L574.5 307.4 L575.1 307.4 L575.7 307.4 L576.3 307.3 L576.9 307.3 L577.5 307.2 L578.1 307 L578.7 306.9 L579.3 306.8 L579.9 306.6 L580.5 306.5 L581.1 306.3 L581.7 306.2 L582.4 306.1 L583 306 L583.6 306 L584.2 305.9 L584.8 305.9 L585.4 305.8 L586 305.8 L586.6 305.8 L587.2 305.7 L587.8 305.7 L588.4 305.7 L589 305.6 L589.6 305.6 L590.2 305.6 L590.8 305.6 L591.4 305.5 L592 305.5 L592.6 305.5 L593.2 305.4 L593.8 305.4 L594.5 305.3 L595.1 305.3 L595.7 305.2 L596.3 305.1 L596.9 305.1 L597.5 305 L598.1 304.9 L598.7 304.9 L599.3 304.8 L599.9 304.7 L600.5 304.7 L601.1 304.6 L601.7 304.6 L602.3 304.6 L602.9 304.6 L603.5 304.6 L604.1 304.7 L604.7 304.8 L605.3 304.9 L605.9 305 L606.6 305.2 L607.2 305.3 L607.8 305.5 L608.4 305.6 L609 305.8 L609.6 305.9 L610.2 306.1 L610.8 306.3 L611.4 306.4 L612 306.6 L612.6 306.8 L613.2 307.1 L613.8 307.3 L614.4 307.5 L615 307.7 L615.6 307.9 L616.2 308.1 L616.8 308.2 L617.4 308.4 L618 308.5 L618.7 308.6 L619.3 308.7 L619.9 308.8 L620.5 308.9 L621.1 309 L621.7 309.1 L622.3 309.2 L622.9 309.3 L623.5 309.3 L624.1 309.4 L624.1 309.4Z" fill="#68BD7D" stroke="none"/>
<path d="M528.5 309.4 L529.1 309.3 L529.7 309.1 L530.3 308.7 L530.9 308.3 L531.5 307.7 L532.1 307.1 L532.7 306.1 L533.3 304.3 L533.9 302.1 L534.6 299.9 L535.2 297.9 L535.8 296.1 L536.4 294.3 L537 292.5 L537.6 291 L538.2 289.9 L538.8 289.1 L539.4 288.3 L540 287.7 L540.6 287.2 L541.2 287 L541.8 287 L542.4 287 L543 287 L543.6 287 L544.2 287 L544.8 287.1 L545.4 287.3 L546 287.6 L546.7 288 L547.3 288.4 L547.9 288.9 L548.5 289.4 L549.1 290 L549.7 290.6 L550.3 291.3 L550.9 292.1 L551.5 292.9 L552.1 293.8 L552.7 294.7 L553.3 295.7 L553.9 296.7 L554.5 297.5 L555.1 298.4 L555.7 299.2 L556.3 300.1 L556.9 300.9 L557.5 301.6 L558.1 302.3 L558.8 303 L559.4 303.5 L560 304.1 L560.6 304.6 L561.2 305.1 L561.8 305.5 L562.4 305.8 L563 306.1 L563.6 306.2 L564.2 306.4 L564.8 306.5 L565.4 306.7 L566 306.8 L566.6 306.9 L567.2 306.9 L567.8 307 L568.4 307 L569 307.1 L569.6 307.1 L570.2 307.2 L570.9 307.2 L571.5 307.3 L572.1 307.3 L572.7 307.3 L573.3 307.4 L573.9 307.4 L574.5 307.4 L575.1 307.4 L575.7 307.4 L576.3 307.3 L576.9 307.3 L577.5 307.2 L578.1 307 L578.7 306.9 L579.3 306.8 L579.9 306.6 L580.5 306.5 L581.1 306.3 L581.7 306.2 L582.4 306.1 L583 306 L583.6 306 L584.2 305.9 L584.8 305.9 L585.4 305.8 L586 305.8 L586.6 305.8 L587.2 305.7 L587.8 305.7 L588.4 305.7 L589 305.6 L589.6 305.6 L590.2 305.6 L590.8 305.6 L591.4 305.5 L592 305.5 L592.6 305.5 L593.2 305.4 L593.8 305.4 L594.5 305.3 L595.1 305.3 L595.7 305.2 L596.3 305.1 L596.9 305.1 L597.5 305 L598.1 304.9 L598.7 304.9 L599.3 304.8 L599.9 304.7 L600.5 304.7 L601.1 304.6 L601.7 304.6 L602.3 304.6 L602.9 304.6 L603.5 304.6 L604.1 304.7 L604.7 304.8 L605.3 304.9 L605.9 305 L606.6 305.2 L607.2 305.3 L607.8 305.5 L608.4 305.6 L609 305.8 L609.6 305.9 L610.2 306.1 L610.8 306.3 L611.4 306.4 L612 306.6 L612.6 306.8 L613.2 307.1 L613.8 307.3 L614.4 307.5 L615 307.7 L615.6 307.9 L616.2 308.1 L616.8 308.2 L617.4 308.4 L618 308.5 L618.7 308.6 L619.3 308.7 L619.9 308.8 L620.5 308.9 L621.1 309 L621.7 309.1 L622.3 309.2 L622.9 309.3 L623.5 309.3 L624.1 309.4 L650.7 309.4" fill="none" stroke="#111" stroke-width="0.95" stroke-linejoin="round"/>
<path d="M528.5 332.9 L528.5 332.9 L529.1 332.8 L529.7 332.6 L530.3 332.2 L531 331.8 L531.6 331.3 L532.2 330.7 L532.8 329.5 L533.4 327.7 L534 325.5 L534.7 323.2 L535.3 321.2 L535.9 319.4 L536.5 317.6 L537.1 315.8 L537.7 314.4 L538.4 313.3 L539 312.4 L539.6 311.6 L540.2 310.9 L540.8 310.4 L541.4 310.3 L542.1 310.3 L542.7 310.5 L543.3 310.7 L543.9 310.9 L544.5 311.2 L545.1 311.5 L545.7 311.8 L546.4 312 L547 312.3 L547.6 312.7 L548.2 313.1 L548.8 313.6 L549.4 314.4 L550.1 315.3 L550.7 316.3 L551.3 317.3 L551.9 318.4 L552.5 319.3 L553.1 320.3 L553.8 321.2 L554.4 322.2 L555 323.1 L555.6 324 L556.2 324.9 L556.8 325.7 L557.4 326.5 L558.1 327.3 L558.7 328 L559.3 328.7 L559.9 329.3 L560.5 329.8 L561.1 330.3 L561.8 330.7 L562.4 331.1 L563 331.4 L563.6 331.7 L564.2 332 L564.8 332.1 L565.5 332.3 L566.1 332.4 L566.7 332.5 L567.3 332.6 L567.9 332.6 L568.5 332.7 L569.2 332.8 L569.8 332.8 L570.4 332.8 L571 332.9 L571 332.9Z" fill="#A2A326" stroke="none"/>
<path d="M528.5 332.9 L529.1 332.8 L529.7 332.6 L530.3 332.2 L531 331.8 L531.6 331.3 L532.2 330.7 L532.8 329.5 L533.4 327.7 L534 325.5 L534.7 323.2 L535.3 321.2 L535.9 319.4 L536.5 317.6 L537.1 315.8 L537.7 314.4 L538.4 313.3 L539 312.4 L539.6 311.6 L540.2 310.9 L540.8 310.4 L541.4 310.3 L542.1 310.3 L542.7 310.5 L543.3 310.7 L543.9 310.9 L544.5 311.2 L545.1 311.5 L545.7 311.8 L546.4 312 L547 312.3 L547.6 312.7 L548.2 313.1 L548.8 313.6 L549.4 314.4 L550.1 315.3 L550.7 316.3 L551.3 317.3 L551.9 318.4 L552.5 319.3 L553.1 320.3 L553.8 321.2 L554.4 322.2 L555 323.1 L555.6 324 L556.2 324.9 L556.8 325.7 L557.4 326.5 L558.1 327.3 L558.7 328 L559.3 328.7 L559.9 329.3 L560.5 329.8 L561.1 330.3 L561.8 330.7 L562.4 331.1 L563 331.4 L563.6 331.7 L564.2 332 L564.8 332.1 L565.5 332.3 L566.1 332.4 L566.7 332.5 L567.3 332.6 L567.9 332.6 L568.5 332.7 L569.2 332.8 L569.8 332.8 L570.4 332.8 L571 332.9 L650.7 332.9" fill="none" stroke="#111" stroke-width="0.95" stroke-linejoin="round"/>
<path d="M528.5 356.2 L528.5 356.2 L529.1 356.1 L529.7 356 L530.3 355.7 L530.9 355.3 L531.5 355 L532.1 354.5 L532.8 354 L533.4 353.2 L534 352.3 L534.6 351.2 L535.2 350.1 L535.8 348.9 L536.4 347.8 L537 346.7 L537.6 345.4 L538.2 344.1 L538.8 342.8 L539.4 341.5 L540 340.3 L540.7 339.1 L541.3 337.9 L541.9 336.8 L542.5 335.8 L543.1 335 L543.7 334.5 L544.3 334.1 L544.9 333.7 L545.5 333.5 L546.1 333.3 L546.7 333.3 L547.3 333.5 L547.9 333.9 L548.6 334.4 L549.2 335 L549.8 335.6 L550.4 336.5 L551 337.6 L551.6 338.8 L552.2 340 L552.8 341.2 L553.4 342.4 L554 343.6 L554.6 344.9 L555.2 346.1 L555.8 347.2 L556.5 348.3 L557.1 349.3 L557.7 350.3 L558.3 351.2 L558.9 352.1 L559.5 352.8 L560.1 353.4 L560.7 353.9 L561.3 354.3 L561.9 354.8 L562.5 355.1 L563.1 355.4 L563.7 355.6 L564.4 355.7 L565 355.8 L565.6 355.8 L566.2 355.9 L566.8 356 L567.4 356 L568 356.1 L568.6 356.1 L569.2 356.2 L569.8 356.2 L570.4 356.2 L571 356.2 L571.6 356.2 L572.2 356.2 L572.9 356.2 L573.5 356.2 L574.1 356.2 L574.7 356.1 L575.3 356.1 L575.9 356.1 L576.5 356.1 L577.1 356.1 L577.7 356 L578.3 356 L578.9 356 L579.5 356 L580.1 356 L580.8 355.9 L581.4 355.9 L582 355.9 L582.6 355.9 L583.2 355.8 L583.8 355.8 L584.4 355.8 L585 355.8 L585.6 355.8 L586.2 355.8 L586.8 355.8 L587.4 355.8 L588 355.8 L588.7 355.7 L589.3 355.7 L589.9 355.7 L590.5 355.7 L591.1 355.7 L591.7 355.7 L592.3 355.7 L592.9 355.7 L593.5 355.7 L594.1 355.7 L594.7 355.6 L595.3 355.6 L595.9 355.6 L596.6 355.6 L597.2 355.6 L597.8 355.6 L598.4 355.6 L599 355.6 L599.6 355.6 L600.2 355.6 L600.8 355.6 L601.4 355.6 L602 355.6 L602.6 355.6 L603.2 355.6 L603.8 355.6 L604.5 355.6 L605.1 355.6 L605.7 355.7 L606.3 355.7 L606.9 355.7 L607.5 355.7 L608.1 355.7 L608.7 355.8 L609.3 355.8 L609.9 355.8 L610.5 355.9 L611.1 355.9 L611.7 355.9 L612.4 356 L613 356 L613.6 356 L614.2 356.1 L614.8 356.1 L615.4 356.2 L616 356.2 L616 356.2Z" fill="#DC756B" stroke="none"/>
<path d="M528.5 356.2 L529.1 356.1 L529.7 356 L530.3 355.7 L530.9 355.3 L531.5 355 L532.1 354.5 L532.8 354 L533.4 353.2 L534 352.3 L534.6 351.2 L535.2 350.1 L535.8 348.9 L536.4 347.8 L537 346.7 L537.6 345.4 L538.2 344.1 L538.8 342.8 L539.4 341.5 L540 340.3 L540.7 339.1 L541.3 337.9 L541.9 336.8 L542.5 335.8 L543.1 335 L543.7 334.5 L544.3 334.1 L544.9 333.7 L545.5 333.5 L546.1 333.3 L546.7 333.3 L547.3 333.5 L547.9 333.9 L548.6 334.4 L549.2 335 L549.8 335.6 L550.4 336.5 L551 337.6 L551.6 338.8 L552.2 340 L552.8 341.2 L553.4 342.4 L554 343.6 L554.6 344.9 L555.2 346.1 L555.8 347.2 L556.5 348.3 L557.1 349.3 L557.7 350.3 L558.3 351.2 L558.9 352.1 L559.5 352.8 L560.1 353.4 L560.7 353.9 L561.3 354.3 L561.9 354.8 L562.5 355.1 L563.1 355.4 L563.7 355.6 L564.4 355.7 L565 355.8 L565.6 355.8 L566.2 355.9 L566.8 356 L567.4 356 L568 356.1 L568.6 356.1 L569.2 356.2 L569.8 356.2 L570.4 356.2 L571 356.2 L571.6 356.2 L572.2 356.2 L572.9 356.2 L573.5 356.2 L574.1 356.2 L574.7 356.1 L575.3 356.1 L575.9 356.1 L576.5 356.1 L577.1 356.1 L577.7 356 L578.3 356 L578.9 356 L579.5 356 L580.1 356 L580.8 355.9 L581.4 355.9 L582 355.9 L582.6 355.9 L583.2 355.8 L583.8 355.8 L584.4 355.8 L585 355.8 L585.6 355.8 L586.2 355.8 L586.8 355.8 L587.4 355.8 L588 355.8 L588.7 355.7 L589.3 355.7 L589.9 355.7 L590.5 355.7 L591.1 355.7 L591.7 355.7 L592.3 355.7 L592.9 355.7 L593.5 355.7 L594.1 355.7 L594.7 355.6 L595.3 355.6 L595.9 355.6 L596.6 355.6 L597.2 355.6 L597.8 355.6 L598.4 355.6 L599 355.6 L599.6 355.6 L600.2 355.6 L600.8 355.6 L601.4 355.6 L602 355.6 L602.6 355.6 L603.2 355.6 L603.8 355.6 L604.5 355.6 L605.1 355.6 L605.7 355.7 L606.3 355.7 L606.9 355.7 L607.5 355.7 L608.1 355.7 L608.7 355.8 L609.3 355.8 L609.9 355.8 L610.5 355.9 L611.1 355.9 L611.7 355.9 L612.4 356 L613 356 L613.6 356 L614.2 356.1 L614.8 356.1 L615.4 356.2 L616 356.2 L650.7 356.2" fill="none" stroke="#111" stroke-width="0.95" stroke-linejoin="round"/>
<line x1="560.6" y1="239.8" x2="559.55" y2="368.6" stroke="#dd0000" stroke-width="2.3"/>
<text x="12.5" y="437.3" font-size="19.5" fill="#111" stroke="#111" stroke-width="0.15">C</text>
<text x="37.4" y="451.4" font-size="11" font-weight="bold" fill="#111" stroke="#111" stroke-width="0.2">CD45</text>
<text x="32.0" y="481.29999999999995" font-size="9.5" text-anchor="end" fill="#111" stroke="#111" stroke-width="0.15">NK</text>
<text x="32.0" y="504.54999999999995" font-size="9.5" text-anchor="end" fill="#111" stroke="#111" stroke-width="0.15">CM</text>
<text x="32.0" y="527.9" font-size="9.5" text-anchor="end" fill="#111" stroke="#111" stroke-width="0.15">CD8T</text>
<text x="32.0" y="551.4" font-size="9.5" text-anchor="end" fill="#111" stroke="#111" stroke-width="0.15">CD4T</text>
<text x="32.0" y="574.4" font-size="9.5" text-anchor="end" fill="#111" stroke="#111" stroke-width="0.15">B</text>
<text x="293.8" y="620.1" font-size="14.3" fill="#111" stroke="#111" stroke-width="0.15">expression level</text>
<path d="M34.5 481.4H193.7 M34.5 504.6H193.7 M34.5 528H193.7 M34.5 551.5H193.7 M34.5 574.5H193.7 M52.6 457.8V591 M97.2 457.8V591 M141.8 457.8V591 M186.4 457.8V591" stroke="#ebebeb" stroke-width="1" fill="none"/>
<text x="52.6" y="600.8" font-size="9" text-anchor="middle" fill="#111" stroke="#111" stroke-width="0.15">0</text>
<text x="97.2" y="600.8" font-size="9" text-anchor="middle" fill="#111" stroke="#111" stroke-width="0.15">2</text>
<text x="141.8" y="600.8" font-size="9" text-anchor="middle" fill="#111" stroke="#111" stroke-width="0.15">4</text>
<text x="186.4" y="600.8" font-size="9" text-anchor="middle" fill="#111" stroke="#111" stroke-width="0.15">6</text>
<path d="M44.2 481.4 L44.2 481.4 L44.8 481.2 L45.4 480.6 L46 479.7 L46.6 478.6 L47.2 476.7 L47.9 473.9 L48.5 471 L49.1 468 L49.7 465 L50.3 462.6 L50.9 460.6 L51.5 459.3 L52.1 458.6 L52.7 458.3 L53.3 459 L53.9 460.7 L54.6 463.1 L55.2 464.8 L55.8 466.3 L56.4 467.5 L57 468.1 L57.6 467.6 L58.2 466.3 L58.8 464.7 L59.4 463.7 L60 462.7 L60.6 461.7 L61.3 461 L61.9 460.5 L62.5 460.6 L63.1 460.9 L63.7 461.3 L64.3 461.8 L64.9 462.2 L65.5 462.4 L66.1 462.6 L66.7 462.8 L67.3 463 L68 463.3 L68.6 463.7 L69.2 464.2 L69.8 464.8 L70.4 465.4 L71 466.2 L71.6 467 L72.2 467.9 L72.8 468.8 L73.4 469.7 L74 470.7 L74.7 471.6 L75.3 472.4 L75.9 473.1 L76.5 473.8 L77.1 474.4 L77.7 475 L78.3 475.6 L78.9 476.1 L79.5 476.6 L80.1 477.1 L80.7 477.6 L81.4 478.1 L82 478.4 L82.6 478.6 L83.2 478.9 L83.8 479.1 L84.4 479.3 L85 479.5 L85.6 479.6 L86.2 479.8 L86.8 479.9 L87.4 480 L88.1 480.1 L88.7 480.2 L89.3 480.3 L89.9 480.4 L90.5 480.5 L91.1 480.6 L91.7 480.7 L92.3 480.8 L92.9 480.8 L93.5 480.9 L94.1 481 L94.8 481.1 L95.4 481.1 L96 481.2 L96.6 481.3 L97.2 481.3 L97.8 481.4 L97.8 481.4Z" fill="#CB6DF0" stroke="none"/>
<path d="M44.2 481.4 L44.8 481.2 L45.4 480.6 L46 479.7 L46.6 478.6 L47.2 476.7 L47.9 473.9 L48.5 471 L49.1 468 L49.7 465 L50.3 462.6 L50.9 460.6 L51.5 459.3 L52.1 458.6 L52.7 458.3 L53.3 459 L53.9 460.7 L54.6 463.1 L55.2 464.8 L55.8 466.3 L56.4 467.5 L57 468.1 L57.6 467.6 L58.2 466.3 L58.8 464.7 L59.4 463.7 L60 462.7 L60.6 461.7 L61.3 461 L61.9 460.5 L62.5 460.6 L63.1 460.9 L63.7 461.3 L64.3 461.8 L64.9 462.2 L65.5 462.4 L66.1 462.6 L66.7 462.8 L67.3 463 L68 463.3 L68.6 463.7 L69.2 464.2 L69.8 464.8 L70.4 465.4 L71 466.2 L71.6 467 L72.2 467.9 L72.8 468.8 L73.4 469.7 L74 470.7 L74.7 471.6 L75.3 472.4 L75.9 473.1 L76.5 473.8 L77.1 474.4 L77.7 475 L78.3 475.6 L78.9 476.1 L79.5 476.6 L80.1 477.1 L80.7 477.6 L81.4 478.1 L82 478.4 L82.6 478.6 L83.2 478.9 L83.8 479.1 L84.4 479.3 L85 479.5 L85.6 479.6 L86.2 479.8 L86.8 479.9 L87.4 480 L88.1 480.1 L88.7 480.2 L89.3 480.3 L89.9 480.4 L90.5 480.5 L91.1 480.6 L91.7 480.7 L92.3 480.8 L92.9 480.8 L93.5 480.9 L94.1 481 L94.8 481.1 L95.4 481.1 L96 481.2 L96.6 481.3 L97.2 481.3 L97.8 481.4 L112.5 481.4" fill="none" stroke="#111" stroke-width="0.95" stroke-linejoin="round"/>
<path d="M44.2 504.6 L44.2 504.6 L44.8 504.5 L45.4 504.2 L46.1 503.8 L46.7 503.3 L47.3 502.8 L47.9 501.9 L48.5 500.7 L49.1 499.5 L49.8 498.4 L50.4 497.6 L51 496.9 L51.6 496.2 L52.2 495.7 L52.8 495.4 L53.5 495.1 L54.1 494.9 L54.7 494.7 L55.3 494.5 L55.9 494.2 L56.6 493.8 L57.2 493.3 L57.8 492.8 L58.4 492.3 L59 491.7 L59.6 491.2 L60.3 490.6 L60.9 489.9 L61.5 489.3 L62.1 488.6 L62.7 487.8 L63.3 486.9 L64 486 L64.6 485 L65.2 484.2 L65.8 483.2 L66.4 482.2 L67 481.4 L67.7 481.2 L68.3 481.6 L68.9 482.5 L69.5 483.6 L70.1 485.2 L70.8 487.6 L71.4 489.9 L72 491.9 L72.6 493.9 L73.2 495.7 L73.8 497.4 L74.5 498.8 L75.1 500.1 L75.7 501.3 L76.3 502.3 L76.9 503 L77.5 503.6 L78.2 504.1 L78.8 504.4 L79.4 504.6 L79.4 504.6Z" fill="#63AFF2" stroke="none"/>
<path d="M44.2 504.6 L44.8 504.5 L45.4 504.2 L46.1 503.8 L46.7 503.3 L47.3 502.8 L47.9 501.9 L48.5 500.7 L49.1 499.5 L49.8 498.4 L50.4 497.6 L51 496.9 L51.6 496.2 L52.2 495.7 L52.8 495.4 L53.5 495.1 L54.1 494.9 L54.7 494.7 L55.3 494.5 L55.9 494.2 L56.6 493.8 L57.2 493.3 L57.8 492.8 L58.4 492.3 L59 491.7 L59.6 491.2 L60.3 490.6 L60.9 489.9 L61.5 489.3 L62.1 488.6 L62.7 487.8 L63.3 486.9 L64 486 L64.6 485 L65.2 484.2 L65.8 483.2 L66.4 482.2 L67 481.4 L67.7 481.2 L68.3 481.6 L68.9 482.5 L69.5 483.6 L70.1 485.2 L70.8 487.6 L71.4 489.9 L72 491.9 L72.6 493.9 L73.2 495.7 L73.8 497.4 L74.5 498.8 L75.1 500.1 L75.7 501.3 L76.3 502.3 L76.9 503 L77.5 503.6 L78.2 504.1 L78.8 504.4 L79.4 504.6 L112.5 504.6" fill="none" stroke="#111" stroke-width="0.95" stroke-linejoin="round"/>
<path d="M44.2 528 L44.2 528 L44.8 528 L45.4 527.9 L46 527.8 L46.6 527.7 L47.2 527.6 L47.9 527.5 L48.5 527.4 L49.1 527.2 L49.7 527.1 L50.3 526.9 L50.9 526.6 L51.5 526.3 L52.1 526 L52.7 525.6 L53.3 525.1 L54 524.4 L54.6 523.7 L55.2 522.8 L55.8 521.3 L56.4 519.4 L57 517.3 L57.6 515.2 L58.2 512.8 L58.8 510.6 L59.4 508.8 L60.1 507.2 L60.7 506 L61.3 505.2 L61.9 504.6 L62.5 504.5 L63.1 504.9 L63.7 505.4 L64.3 505.8 L64.9 506 L65.5 506.3 L66.1 506.4 L66.8 506.5 L67.4 506.5 L68 506.3 L68.6 506.1 L69.2 505.9 L69.8 505.7 L70.4 505.6 L71 505.4 L71.6 505.2 L72.2 505.2 L72.9 505.3 L73.5 505.6 L74.1 505.9 L74.7 506.4 L75.3 507.2 L75.9 508.7 L76.5 510.5 L77.1 512.3 L77.7 513.8 L78.3 515.2 L79 516.6 L79.6 517.9 L80.2 519.1 L80.8 520.4 L81.4 521.5 L82 522.6 L82.6 523.4 L83.2 524 L83.8 524.6 L84.4 525 L85.1 525.3 L85.7 525.3 L86.3 525.1 L86.9 524.9 L87.5 524.7 L88.1 524.4 L88.7 524.3 L89.3 524.2 L89.9 524.3 L90.5 524.6 L91.1 525.1 L91.8 525.5 L92.4 525.8 L93 526 L93.6 526.2 L94.2 526.4 L94.8 526.6 L95.4 526.7 L96 526.8 L96.6 526.8 L97.2 526.8 L97.9 526.8 L98.5 526.8 L99.1 526.8 L99.7 526.8 L100.3 526.8 L100.9 526.8 L101.5 527 L102.1 527.1 L102.7 527.4 L103.3 527.6 L104 527.7 L104.6 527.8 L105.2 527.9 L105.8 527.9 L106.4 528 L107 528 L107 528Z" fill="#68BD7D" stroke="none"/>
<path d="M44.2 528 L44.8 528 L45.4 527.9 L46 527.8 L46.6 527.7 L47.2 527.6 L47.9 527.5 L48.5 527.4 L49.1 527.2 L49.7 527.1 L50.3 526.9 L50.9 526.6 L51.5 526.3 L52.1 526 L52.7 525.6 L53.3 525.1 L54 524.4 L54.6 523.7 L55.2 522.8 L55.8 521.3 L56.4 519.4 L57 517.3 L57.6 515.2 L58.2 512.8 L58.8 510.6 L59.4 508.8 L60.1 507.2 L60.7 506 L61.3 505.2 L61.9 504.6 L62.5 504.5 L63.1 504.9 L63.7 505.4 L64.3 505.8 L64.9 506 L65.5 506.3 L66.1 506.4 L66.8 506.5 L67.4 506.5 L68 506.3 L68.6 506.1 L69.2 505.9 L69.8 505.7 L70.4 505.6 L71 505.4 L71.6 505.2 L72.2 505.2 L72.9 505.3 L73.5 505.6 L74.1 505.9 L74.7 506.4 L75.3 507.2 L75.9 508.7 L76.5 510.5 L77.1 512.3 L77.7 513.8 L78.3 515.2 L79 516.6 L79.6 517.9 L80.2 519.1 L80.8 520.4 L81.4 521.5 L82 522.6 L82.6 523.4 L83.2 524 L83.8 524.6 L84.4 525 L85.1 525.3 L85.7 525.3 L86.3 525.1 L86.9 524.9 L87.5 524.7 L88.1 524.4 L88.7 524.3 L89.3 524.2 L89.9 524.3 L90.5 524.6 L91.1 525.1 L91.8 525.5 L92.4 525.8 L93 526 L93.6 526.2 L94.2 526.4 L94.8 526.6 L95.4 526.7 L96 526.8 L96.6 526.8 L97.2 526.8 L97.9 526.8 L98.5 526.8 L99.1 526.8 L99.7 526.8 L100.3 526.8 L100.9 526.8 L101.5 527 L102.1 527.1 L102.7 527.4 L103.3 527.6 L104 527.7 L104.6 527.8 L105.2 527.9 L105.8 527.9 L106.4 528 L107 528 L112.5 528" fill="none" stroke="#111" stroke-width="0.95" stroke-linejoin="round"/>
<path d="M44.2 551.5 L44.2 551.5 L44.8 551.3 L45.4 550.9 L46 550.4 L46.6 549.9 L47.2 549 L47.9 547.9 L48.5 546.6 L49.1 545.5 L49.7 544.6 L50.3 543.7 L50.9 543 L51.5 542.5 L52.1 542 L52.7 541.8 L53.3 542 L54 542.6 L54.6 543.1 L55.2 543.1 L55.8 542.9 L56.4 542.7 L57 541.3 L57.6 538.6 L58.2 536 L58.8 534.4 L59.4 533 L60.1 531.9 L60.7 531.3 L61.3 530.8 L61.9 530.6 L62.5 530.5 L63.1 530.5 L63.7 530.5 L64.3 530.5 L64.9 530.3 L65.5 529.8 L66.1 529.3 L66.8 528.9 L67.4 528.6 L68 528.3 L68.6 528.2 L69.2 528.4 L69.8 529 L70.4 529.7 L71 530.3 L71.6 531.1 L72.2 531.9 L72.9 532.8 L73.5 533.7 L74.1 534.6 L74.7 535.5 L75.3 536.3 L75.9 537.2 L76.5 538.1 L77.1 539 L77.7 539.9 L78.3 540.9 L79 542 L79.6 543 L80.2 543.9 L80.8 544.8 L81.4 545.6 L82 546.4 L82.6 547.2 L83.2 547.9 L83.8 548.5 L84.4 549 L85.1 549.5 L85.7 549.9 L86.3 550.3 L86.9 550.5 L87.5 550.6 L88.1 550.6 L88.7 550.6 L89.3 550.6 L89.9 550.6 L90.5 550.6 L91.1 550.6 L91.8 550.6 L92.4 550.6 L93 550.6 L93.6 550.6 L94.2 550.6 L94.8 550.7 L95.4 550.7 L96 550.8 L96.6 550.8 L97.2 550.9 L97.9 550.9 L98.5 551 L99.1 551 L99.7 551 L100.3 551.1 L100.9 551.1 L101.5 551.2 L102.1 551.2 L102.7 551.2 L103.3 551.3 L104 551.3 L104.6 551.3 L105.2 551.4 L105.8 551.4 L106.4 551.5 L107 551.5 L107 551.5Z" fill="#A2A326" stroke="none"/>
<path d="M44.2 551.5 L44.8 551.3 L45.4 550.9 L46 550.4 L46.6 549.9 L47.2 549 L47.9 547.9 L48.5 546.6 L49.1 545.5 L49.7 544.6 L50.3 543.7 L50.9 543 L51.5 542.5 L52.1 542 L52.7 541.8 L53.3 542 L54 542.6 L54.6 543.1 L55.2 543.1 L55.8 542.9 L56.4 542.7 L57 541.3 L57.6 538.6 L58.2 536 L58.8 534.4 L59.4 533 L60.1 531.9 L60.7 531.3 L61.3 530.8 L61.9 530.6 L62.5 530.5 L63.1 530.5 L63.7 530.5 L64.3 530.5 L64.9 530.3 L65.5 529.8 L66.1 529.3 L66.8 528.9 L67.4 528.6 L68 528.3 L68.6 528.2 L69.2 528.4 L69.8 529 L70.4 529.7 L71 530.3 L71.6 531.1 L72.2 531.9 L72.9 532.8 L73.5 533.7 L74.1 534.6 L74.7 535.5 L75.3 536.3 L75.9 537.2 L76.5 538.1 L77.1 539 L77.7 539.9 L78.3 540.9 L79 542 L79.6 543 L80.2 543.9 L80.8 544.8 L81.4 545.6 L82 546.4 L82.6 547.2 L83.2 547.9 L83.8 548.5 L84.4 549 L85.1 549.5 L85.7 549.9 L86.3 550.3 L86.9 550.5 L87.5 550.6 L88.1 550.6 L88.7 550.6 L89.3 550.6 L89.9 550.6 L90.5 550.6 L91.1 550.6 L91.8 550.6 L92.4 550.6 L93 550.6 L93.6 550.6 L94.2 550.6 L94.8 550.7 L95.4 550.7 L96 550.8 L96.6 550.8 L97.2 550.9 L97.9 550.9 L98.5 551 L99.1 551 L99.7 551 L100.3 551.1 L100.9 551.1 L101.5 551.2 L102.1 551.2 L102.7 551.2 L103.3 551.3 L104 551.3 L104.6 551.3 L105.2 551.4 L105.8 551.4 L106.4 551.5 L107 551.5 L112.5 551.5" fill="none" stroke="#111" stroke-width="0.95" stroke-linejoin="round"/>
<path d="M44.2 574.5 L44.2 574.5 L44.8 574.5 L45.4 574.4 L46.1 574.3 L46.7 574.2 L47.3 574 L47.9 573.9 L48.5 573.7 L49.2 573.5 L49.8 573.2 L50.4 572.9 L51 572.5 L51.6 572.1 L52.2 571.5 L52.9 570.9 L53.5 570.1 L54.1 569.3 L54.7 568.2 L55.3 567 L56 565.6 L56.6 564 L57.2 562 L57.8 559.8 L58.4 557.8 L59.1 555.9 L59.7 554.1 L60.3 552.8 L60.9 552.1 L61.5 551.7 L62.1 551.8 L62.8 552.3 L63.4 552.6 L64 552.7 L64.6 552.7 L65.2 552.7 L65.9 552.7 L66.5 552.7 L67.1 553 L67.7 553.5 L68.3 554.2 L69 555.1 L69.6 556.4 L70.2 557.9 L70.8 559.7 L71.4 561.9 L72.1 564.1 L72.7 565.9 L73.3 567.7 L73.9 569.3 L74.5 570.7 L75.1 571.6 L75.8 572.4 L76.4 573 L77 573.5 L77.6 573.8 L78.2 574.1 L78.9 574.3 L79.5 574.4 L80.1 574.5 L80.1 574.5Z" fill="#DC756B" stroke="none"/>
<path d="M44.2 574.5 L44.8 574.5 L45.4 574.4 L46.1 574.3 L46.7 574.2 L47.3 574 L47.9 573.9 L48.5 573.7 L49.2 573.5 L49.8 573.2 L50.4 572.9 L51 572.5 L51.6 572.1 L52.2 571.5 L52.9 570.9 L53.5 570.1 L54.1 569.3 L54.7 568.2 L55.3 567 L56 565.6 L56.6 564 L57.2 562 L57.8 559.8 L58.4 557.8 L59.1 555.9 L59.7 554.1 L60.3 552.8 L60.9 552.1 L61.5 551.7 L62.1 551.8 L62.8 552.3 L63.4 552.6 L64 552.7 L64.6 552.7 L65.2 552.7 L65.9 552.7 L66.5 552.7 L67.1 553 L67.7 553.5 L68.3 554.2 L69 555.1 L69.6 556.4 L70.2 557.9 L70.8 559.7 L71.4 561.9 L72.1 564.1 L72.7 565.9 L73.3 567.7 L73.9 569.3 L74.5 570.7 L75.1 571.6 L75.8 572.4 L76.4 573 L77 573.5 L77.6 573.8 L78.2 574.1 L78.9 574.3 L79.5 574.4 L80.1 574.5 L112.5 574.5" fill="none" stroke="#111" stroke-width="0.95" stroke-linejoin="round"/>
<path d="M199.3 481.4H356 M199.3 504.6H356 M199.3 528H356 M199.3 551.5H356 M199.3 574.5H356 M214.5 457.8V591 M259.3 457.8V591 M304.1 457.8V591 M348.9 457.8V591" stroke="#ebebeb" stroke-width="1" fill="none"/>
<text x="214.5" y="600.8" font-size="9" text-anchor="middle" fill="#111" stroke="#111" stroke-width="0.15">0</text>
<text x="259.3" y="600.8" font-size="9" text-anchor="middle" fill="#111" stroke="#111" stroke-width="0.15">2</text>
<text x="304.1" y="600.8" font-size="9" text-anchor="middle" fill="#111" stroke="#111" stroke-width="0.15">4</text>
<text x="348.9" y="600.8" font-size="9" text-anchor="middle" fill="#111" stroke="#111" stroke-width="0.15">6</text>
<path d="M207.2 481.4 L207.2 481.4 L207.8 481.3 L208.4 481.1 L209 480.9 L209.7 480.6 L210.3 480.3 L210.9 479.7 L211.5 479.1 L212.1 478.5 L212.7 478.1 L213.3 477.7 L214 477.4 L214.6 477.3 L215.2 477.4 L215.8 477.9 L216.4 478.3 L217 478.6 L217.6 478.5 L218.3 478.3 L218.9 478 L219.5 477.5 L220.1 476.6 L220.7 475.2 L221.3 473.7 L221.9 472.6 L222.6 471.8 L223.2 471 L223.8 470.2 L224.4 469.2 L225 467.8 L225.6 466.1 L226.2 464.5 L226.9 463.2 L227.5 462.1 L228.1 461.2 L228.7 460.3 L229.3 459.7 L229.9 459.3 L230.6 458.9 L231.2 458.6 L231.8 458.3 L232.4 458.1 L233 458.1 L233.6 458.3 L234.2 458.6 L234.9 459 L235.5 459.5 L236.1 460 L236.7 460.5 L237.3 461.2 L237.9 462 L238.5 462.8 L239.2 463.6 L239.8 464.5 L240.4 465.6 L241 466.7 L241.6 467.7 L242.2 468.8 L242.8 469.8 L243.5 470.8 L244.1 471.8 L244.7 472.8 L245.3 473.7 L245.9 474.6 L246.5 475.5 L247.1 476.3 L247.8 477.2 L248.4 477.9 L249 478.7 L249.6 479.5 L250.2 480.2 L250.8 480.7 L251.4 481 L252.1 481.1 L252.7 481.3 L253.3 481.4 L253.9 481.4 L253.9 481.4Z" fill="#CB6DF0" stroke="none"/>
<path d="M207.2 481.4 L207.8 481.3 L208.4 481.1 L209 480.9 L209.7 480.6 L210.3 480.3 L210.9 479.7 L211.5 479.1 L212.1 478.5 L212.7 478.1 L213.3 477.7 L214 477.4 L214.6 477.3 L215.2 477.4 L215.8 477.9 L216.4 478.3 L217 478.6 L217.6 478.5 L218.3 478.3 L218.9 478 L219.5 477.5 L220.1 476.6 L220.7 475.2 L221.3 473.7 L221.9 472.6 L222.6 471.8 L223.2 471 L223.8 470.2 L224.4 469.2 L225 467.8 L225.6 466.1 L226.2 464.5 L226.9 463.2 L227.5 462.1 L228.1 461.2 L228.7 460.3 L229.3 459.7 L229.9 459.3 L230.6 458.9 L231.2 458.6 L231.8 458.3 L232.4 458.1 L233 458.1 L233.6 458.3 L234.2 458.6 L234.9 459 L235.5 459.5 L236.1 460 L236.7 460.5 L237.3 461.2 L237.9 462 L238.5 462.8 L239.2 463.6 L239.8 464.5 L240.4 465.6 L241 466.7 L241.6 467.7 L242.2 468.8 L242.8 469.8 L243.5 470.8 L244.1 471.8 L244.7 472.8 L245.3 473.7 L245.9 474.6 L246.5 475.5 L247.1 476.3 L247.8 477.2 L248.4 477.9 L249 478.7 L249.6 479.5 L250.2 480.2 L250.8 480.7 L251.4 481 L252.1 481.1 L252.7 481.3 L253.3 481.4 L253.9 481.4 L267 481.4" fill="none" stroke="#111" stroke-width="0.95" stroke-linejoin="round"/>
<path d="M207.2 504.6 L207.2 504.6 L207.8 504.6 L208.4 504.5 L209 504.4 L209.6 504.3 L210.2 504.1 L210.9 504 L211.5 503.8 L212.1 503.7 L212.7 503.5 L213.3 503.2 L213.9 503 L214.5 502.7 L215.1 502.4 L215.7 502.1 L216.3 501.6 L216.9 501.3 L217.6 501.1 L218.2 501.1 L218.8 501.2 L219.4 501.4 L220 501.6 L220.6 501.8 L221.2 502.2 L221.8 502.6 L222.4 502.9 L223 503 L223.6 503 L224.3 502.9 L224.9 502.7 L225.5 502.5 L226.1 501.8 L226.7 500.2 L227.3 497.9 L227.9 495.6 L228.5 493.5 L229.1 491.2 L229.7 488.8 L230.3 486.8 L230.9 485.3 L231.6 484.2 L232.2 483.3 L232.8 482.7 L233.4 482.1 L234 481.6 L234.6 481.4 L235.2 481.5 L235.8 482.3 L236.4 483.4 L237 484.5 L237.6 485.9 L238.3 487.5 L238.9 489.2 L239.5 490.7 L240.1 492.2 L240.7 493.6 L241.3 494.9 L241.9 496.2 L242.5 497.5 L243.1 498.7 L243.7 499.9 L244.3 501.1 L245 502 L245.6 502.7 L246.2 503.4 L246.8 503.9 L247.4 504.4 L248 504.6 L248 504.6Z" fill="#63AFF2" stroke="none"/>
<path d="M207.2 504.6 L207.8 504.6 L208.4 504.5 L209 504.4 L209.6 504.3 L210.2 504.1 L210.9 504 L211.5 503.8 L212.1 503.7 L212.7 503.5 L213.3 503.2 L213.9 503 L214.5 502.7 L215.1 502.4 L215.7 502.1 L216.3 501.6 L216.9 501.3 L217.6 501.1 L218.2 501.1 L218.8 501.2 L219.4 501.4 L220 501.6 L220.6 501.8 L221.2 502.2 L221.8 502.6 L222.4 502.9 L223 503 L223.6 503 L224.3 502.9 L224.9 502.7 L225.5 502.5 L226.1 501.8 L226.7 500.2 L227.3 497.9 L227.9 495.6 L228.5 493.5 L229.1 491.2 L229.7 488.8 L230.3 486.8 L230.9 485.3 L231.6 484.2 L232.2 483.3 L232.8 482.7 L233.4 482.1 L234 481.6 L234.6 481.4 L235.2 481.5 L235.8 482.3 L236.4 483.4 L237 484.5 L237.6 485.9 L238.3 487.5 L238.9 489.2 L239.5 490.7 L240.1 492.2 L240.7 493.6 L241.3 494.9 L241.9 496.2 L242.5 497.5 L243.1 498.7 L243.7 499.9 L244.3 501.1 L245 502 L245.6 502.7 L246.2 503.4 L246.8 503.9 L247.4 504.4 L248 504.6 L267 504.6" fill="none" stroke="#111" stroke-width="0.95" stroke-linejoin="round"/>
<path d="M207.2 528 L207.2 528 L207.8 528 L208.4 528 L209 528 L209.6 528 L210.2 528 L210.8 527.9 L211.4 527.9 L212.1 527.9 L212.7 527.9 L213.3 527.9 L213.9 527.8 L214.5 527.8 L215.1 527.7 L215.7 527.6 L216.3 527.5 L216.9 527.3 L217.5 527.1 L218.1 526.9 L218.7 526.7 L219.3 526.4 L219.9 526.2 L220.6 525.9 L221.2 525.7 L221.8 525.5 L222.4 525.4 L223 525.3 L223.6 525.2 L224.2 525.1 L224.8 524.9 L225.4 524.6 L226 524.2 L226.6 523.7 L227.2 523.2 L227.8 522.3 L228.4 521.2 L229 520 L229.7 518.9 L230.3 517.6 L230.9 516.3 L231.5 514.9 L232.1 513.9 L232.7 513.1 L233.3 512.5 L233.9 511.9 L234.5 511.4 L235.1 510.8 L235.7 510.3 L236.3 509.7 L236.9 509.2 L237.5 508.7 L238.2 508.1 L238.8 507.6 L239.4 507.1 L240 506.6 L240.6 506.1 L241.2 505.5 L241.8 505.1 L242.4 504.9 L243 505.1 L243.6 505.5 L244.2 506 L244.8 506.6 L245.4 507.4 L246 508.3 L246.6 509.3 L247.3 510.3 L247.9 511.3 L248.5 512.2 L249.1 513.1 L249.7 514.1 L250.3 515.1 L250.9 516.3 L251.5 517.7 L252.1 519.1 L252.7 520.6 L253.3 521.8 L253.9 523.1 L254.5 524.3 L255.1 525.4 L255.8 526.2 L256.4 526.7 L257 527.2 L257.6 527.6 L258.2 527.8 L258.8 527.9 L259.4 528 L260 528 L260 528Z" fill="#68BD7D" stroke="none"/>
<path d="M207.2 528 L207.8 528 L208.4 528 L209 528 L209.6 528 L210.2 528 L210.8 527.9 L211.4 527.9 L212.1 527.9 L212.7 527.9 L213.3 527.9 L213.9 527.8 L214.5 527.8 L215.1 527.7 L215.7 527.6 L216.3 527.5 L216.9 527.3 L217.5 527.1 L218.1 526.9 L218.7 526.7 L219.3 526.4 L219.9 526.2 L220.6 525.9 L221.2 525.7 L221.8 525.5 L222.4 525.4 L223 525.3 L223.6 525.2 L224.2 525.1 L224.8 524.9 L225.4 524.6 L226 524.2 L226.6 523.7 L227.2 523.2 L227.8 522.3 L228.4 521.2 L229 520 L229.7 518.9 L230.3 517.6 L230.9 516.3 L231.5 514.9 L232.1 513.9 L232.7 513.1 L233.3 512.5 L233.9 511.9 L234.5 511.4 L235.1 510.8 L235.7 510.3 L236.3 509.7 L236.9 509.2 L237.5 508.7 L238.2 508.1 L238.8 507.6 L239.4 507.1 L240 506.6 L240.6 506.1 L241.2 505.5 L241.8 505.1 L242.4 504.9 L243 505.1 L243.6 505.5 L244.2 506 L244.8 506.6 L245.4 507.4 L246 508.3 L246.6 509.3 L247.3 510.3 L247.9 511.3 L248.5 512.2 L249.1 513.1 L249.7 514.1 L250.3 515.1 L250.9 516.3 L251.5 517.7 L252.1 519.1 L252.7 520.6 L253.3 521.8 L253.9 523.1 L254.5 524.3 L255.1 525.4 L255.8 526.2 L256.4 526.7 L257 527.2 L257.6 527.6 L258.2 527.8 L258.8 527.9 L259.4 528 L260 528 L267 528" fill="none" stroke="#111" stroke-width="0.95" stroke-linejoin="round"/>
<path d="M207.2 551.5 L207.2 551.5 L207.8 551.4 L208.4 551.3 L209 551.2 L209.6 551.1 L210.2 551 L210.9 550.9 L211.5 550.8 L212.1 550.6 L212.7 550.5 L213.3 550.3 L213.9 550.2 L214.5 550.2 L215.1 550.3 L215.7 550.5 L216.3 550.7 L216.9 550.9 L217.5 551 L218.2 550.9 L218.8 550.7 L219.4 550.4 L220 550 L220.6 549.6 L221.2 549.2 L221.8 548.7 L222.4 548.1 L223 547.5 L223.6 546.8 L224.2 546.1 L224.8 545.3 L225.5 544.3 L226.1 543.3 L226.7 542.3 L227.3 541.2 L227.9 540.2 L228.5 539.2 L229.1 538.2 L229.7 537.3 L230.3 536.3 L230.9 535.5 L231.5 534.6 L232.1 533.8 L232.8 533.1 L233.4 532.4 L234 531.7 L234.6 531.1 L235.2 530.6 L235.8 530.1 L236.4 529.6 L237 529.2 L237.6 528.9 L238.2 528.5 L238.8 528.3 L239.5 528.2 L240.1 528.4 L240.7 528.8 L241.3 529.4 L241.9 530.1 L242.5 530.8 L243.1 531.7 L243.7 532.7 L244.3 533.8 L244.9 534.9 L245.5 535.9 L246.1 536.9 L246.8 537.9 L247.4 538.9 L248 539.9 L248.6 540.8 L249.2 541.8 L249.8 542.8 L250.4 543.8 L251 544.9 L251.6 545.9 L252.2 546.8 L252.8 547.6 L253.4 548.3 L254.1 548.9 L254.7 549.5 L255.3 550 L255.9 550.4 L256.5 550.6 L257.1 550.7 L257.7 550.9 L258.3 551 L258.9 551 L259.5 551.1 L260.1 551.2 L260.7 551.2 L261.4 551.3 L262 551.3 L262.6 551.4 L263.2 551.4 L263.8 551.5 L264.4 551.5 L264.4 551.5Z" fill="#A2A326" stroke="none"/>
<path d="M207.2 551.5 L207.8 551.4 L208.4 551.3 L209 551.2 L209.6 551.1 L210.2 551 L210.9 550.9 L211.5 550.8 L212.1 550.6 L212.7 550.5 L213.3 550.3 L213.9 550.2 L214.5 550.2 L215.1 550.3 L215.7 550.5 L216.3 550.7 L216.9 550.9 L217.5 551 L218.2 550.9 L218.8 550.7 L219.4 550.4 L220 550 L220.6 549.6 L221.2 549.2 L221.8 548.7 L222.4 548.1 L223 547.5 L223.6 546.8 L224.2 546.1 L224.8 545.3 L225.5 544.3 L226.1 543.3 L226.7 542.3 L227.3 541.2 L227.9 540.2 L228.5 539.2 L229.1 538.2 L229.7 537.3 L230.3 536.3 L230.9 535.5 L231.5 534.6 L232.1 533.8 L232.8 533.1 L233.4 532.4 L234 531.7 L234.6 531.1 L235.2 530.6 L235.8 530.1 L236.4 529.6 L237 529.2 L237.6 528.9 L238.2 528.5 L238.8 528.3 L239.5 528.2 L240.1 528.4 L240.7 528.8 L241.3 529.4 L241.9 530.1 L242.5 530.8 L243.1 531.7 L243.7 532.7 L244.3 533.8 L244.9 534.9 L245.5 535.9 L246.1 536.9 L246.8 537.9 L247.4 538.9 L248 539.9 L248.6 540.8 L249.2 541.8 L249.8 542.8 L250.4 543.8 L251 544.9 L251.6 545.9 L252.2 546.8 L252.8 547.6 L253.4 548.3 L254.1 548.9 L254.7 549.5 L255.3 550 L255.9 550.4 L256.5 550.6 L257.1 550.7 L257.7 550.9 L258.3 551 L258.9 551 L259.5 551.1 L260.1 551.2 L260.7 551.2 L261.4 551.3 L262 551.3 L262.6 551.4 L263.2 551.4 L263.8 551.5 L264.4 551.5 L267 551.5" fill="none" stroke="#111" stroke-width="0.95" stroke-linejoin="round"/>
<path d="M207.2 574.5 L207.2 574.5 L207.8 574.4 L208.4 574.3 L209 574.1 L209.6 574 L210.2 573.8 L210.9 573.6 L211.5 573.2 L212.1 572.8 L212.7 572.5 L213.3 572.4 L213.9 572.3 L214.5 572.3 L215.1 572.2 L215.7 572.2 L216.3 572.1 L217 572 L217.6 571.9 L218.2 571.8 L218.8 571.7 L219.4 571.6 L220 571.4 L220.6 571.2 L221.2 571 L221.8 570.7 L222.4 570.3 L223.1 569.8 L223.7 569.1 L224.3 568.2 L224.9 567 L225.5 565.4 L226.1 563.7 L226.7 561.9 L227.3 559.5 L227.9 557.3 L228.5 555.8 L229.2 554.6 L229.8 553.6 L230.4 552.8 L231 552.2 L231.6 551.7 L232.2 551.4 L232.8 551.3 L233.4 551.8 L234 552.5 L234.6 553.1 L235.2 553.7 L235.9 554.3 L236.5 554.8 L237.1 555.3 L237.7 555.6 L238.3 555.9 L238.9 556.1 L239.5 556.3 L240.1 556.6 L240.7 557.2 L241.3 558.1 L242 559.1 L242.6 560.2 L243.2 561.4 L243.8 562.7 L244.4 564 L245 565 L245.6 566.1 L246.2 567.1 L246.8 567.9 L247.4 568.5 L248.1 569 L248.7 569.3 L249.3 569.6 L249.9 570 L250.5 570.3 L251.1 570.8 L251.7 571.3 L252.3 571.8 L252.9 572.3 L253.5 572.8 L254.2 573.1 L254.8 573.5 L255.4 573.8 L256 574.1 L256.6 574.3 L257.2 574.5 L257.2 574.5Z" fill="#DC756B" stroke="none"/>
<path d="M207.2 574.5 L207.8 574.4 L208.4 574.3 L209 574.1 L209.6 574 L210.2 573.8 L210.9 573.6 L211.5 573.2 L212.1 572.8 L212.7 572.5 L213.3 572.4 L213.9 572.3 L214.5 572.3 L215.1 572.2 L215.7 572.2 L216.3 572.1 L217 572 L217.6 571.9 L218.2 571.8 L218.8 571.7 L219.4 571.6 L220 571.4 L220.6 571.2 L221.2 571 L221.8 570.7 L222.4 570.3 L223.1 569.8 L223.7 569.1 L224.3 568.2 L224.9 567 L225.5 565.4 L226.1 563.7 L226.7 561.9 L227.3 559.5 L227.9 557.3 L228.5 555.8 L229.2 554.6 L229.8 553.6 L230.4 552.8 L231 552.2 L231.6 551.7 L232.2 551.4 L232.8 551.3 L233.4 551.8 L234 552.5 L234.6 553.1 L235.2 553.7 L235.9 554.3 L236.5 554.8 L237.1 555.3 L237.7 555.6 L238.3 555.9 L238.9 556.1 L239.5 556.3 L240.1 556.6 L240.7 557.2 L241.3 558.1 L242 559.1 L242.6 560.2 L243.2 561.4 L243.8 562.7 L244.4 564 L245 565 L245.6 566.1 L246.2 567.1 L246.8 567.9 L247.4 568.5 L248.1 569 L248.7 569.3 L249.3 569.6 L249.9 570 L250.5 570.3 L251.1 570.8 L251.7 571.3 L252.3 571.8 L252.9 572.3 L253.5 572.8 L254.2 573.1 L254.8 573.5 L255.4 573.8 L256 574.1 L256.6 574.3 L257.2 574.5 L267 574.5" fill="none" stroke="#111" stroke-width="0.95" stroke-linejoin="round"/>
<line x1="220.0" y1="458.7" x2="219.15" y2="586.9" stroke="#dd0000" stroke-width="2.3"/>
<path d="M361.8 481.4H518.5 M361.8 504.6H518.5 M361.8 528H518.5 M361.8 551.5H518.5 M361.8 574.5H518.5 M376.3 457.8V591 M421.1 457.8V591 M465.9 457.8V591 M510.7 457.8V591" stroke="#ebebeb" stroke-width="1" fill="none"/>
<text x="376.3" y="600.8" font-size="9" text-anchor="middle" fill="#111" stroke="#111" stroke-width="0.15">0</text>
<text x="421.1" y="600.8" font-size="9" text-anchor="middle" fill="#111" stroke="#111" stroke-width="0.15">2</text>
<text x="465.9" y="600.8" font-size="9" text-anchor="middle" fill="#111" stroke="#111" stroke-width="0.15">4</text>
<text x="510.7" y="600.8" font-size="9" text-anchor="middle" fill="#111" stroke="#111" stroke-width="0.15">6</text>
<path d="M370.3 481.4 L370.3 481.4 L370.9 481.2 L371.5 481.1 L372.1 481 L372.7 480.9 L373.4 480.8 L374 480.8 L374.6 480.7 L375.2 480.7 L375.8 480.7 L376.4 480.7 L377 480.8 L377.6 480.9 L378.2 481 L378.9 481.1 L379.5 481.3 L380.1 481.4 L380.7 481.4 L381.3 481.4 L381.9 481.4 L382.5 481.3 L383.1 481.2 L383.7 481.2 L384.4 481.1 L385 481 L385.6 481 L386.2 481 L386.8 481 L387.4 481 L388 481.1 L388.6 481.1 L389.2 481.1 L389.8 481.2 L390.5 481.2 L391.1 481.2 L391.7 481.2 L392.3 481.1 L392.9 481 L393.5 480.8 L394.1 480.6 L394.7 480.4 L395.3 480.1 L396 479.8 L396.6 479.3 L397.2 478.7 L397.8 478.2 L398.4 477.7 L399 477.3 L399.6 476.8 L400.2 476.4 L400.8 475.8 L401.5 475.3 L402.1 474.6 L402.7 473.9 L403.3 473.1 L403.9 472.3 L404.5 471.6 L405.1 470.8 L405.7 470 L406.3 469.2 L407 468.3 L407.6 467.3 L408.2 466.2 L408.8 464.9 L409.4 463.5 L410 462.3 L410.6 461.3 L411.2 460.4 L411.8 459.6 L412.5 459.1 L413.1 458.8 L413.7 458.5 L414.3 458.3 L414.9 458.3 L415.5 458.5 L416.1 458.9 L416.7 459.4 L417.3 460 L417.9 461.1 L418.6 462.4 L419.2 463.7 L419.8 465.2 L420.4 466.8 L421 468.5 L421.6 470 L422.2 471.5 L422.8 472.9 L423.4 474.3 L424.1 475.5 L424.7 476.6 L425.3 477.7 L425.9 478.6 L426.5 479.3 L427.1 479.9 L427.7 480.3 L428.3 480.7 L428.9 481 L429.6 481.1 L430.2 481.2 L430.8 481.3 L431.4 481.4 L432 481.4 L432 481.4Z" fill="#CB6DF0" stroke="none"/>
<path d="M370.3 481.4 L370.9 481.2 L371.5 481.1 L372.1 481 L372.7 480.9 L373.4 480.8 L374 480.8 L374.6 480.7 L375.2 480.7 L375.8 480.7 L376.4 480.7 L377 480.8 L377.6 480.9 L378.2 481 L378.9 481.1 L379.5 481.3 L380.1 481.4 L380.7 481.4 L381.3 481.4 L381.9 481.4 L382.5 481.3 L383.1 481.2 L383.7 481.2 L384.4 481.1 L385 481 L385.6 481 L386.2 481 L386.8 481 L387.4 481 L388 481.1 L388.6 481.1 L389.2 481.1 L389.8 481.2 L390.5 481.2 L391.1 481.2 L391.7 481.2 L392.3 481.1 L392.9 481 L393.5 480.8 L394.1 480.6 L394.7 480.4 L395.3 480.1 L396 479.8 L396.6 479.3 L397.2 478.7 L397.8 478.2 L398.4 477.7 L399 477.3 L399.6 476.8 L400.2 476.4 L400.8 475.8 L401.5 475.3 L402.1 474.6 L402.7 473.9 L403.3 473.1 L403.9 472.3 L404.5 471.6 L405.1 470.8 L405.7 470 L406.3 469.2 L407 468.3 L407.6 467.3 L408.2 466.2 L408.8 464.9 L409.4 463.5 L410 462.3 L410.6 461.3 L411.2 460.4 L411.8 459.6 L412.5 459.1 L413.1 458.8 L413.7 458.5 L414.3 458.3 L414.9 458.3 L415.5 458.5 L416.1 458.9 L416.7 459.4 L417.3 460 L417.9 461.1 L418.6 462.4 L419.2 463.7 L419.8 465.2 L420.4 466.8 L421 468.5 L421.6 470 L422.2 471.5 L422.8 472.9 L423.4 474.3 L424.1 475.5 L424.7 476.6 L425.3 477.7 L425.9 478.6 L426.5 479.3 L427.1 479.9 L427.7 480.3 L428.3 480.7 L428.9 481 L429.6 481.1 L430.2 481.2 L430.8 481.3 L431.4 481.4 L432 481.4 L476.4 481.4" fill="none" stroke="#111" stroke-width="0.95" stroke-linejoin="round"/>
<path d="M370.3 504.6 L370.3 504.6 L370.9 504.6 L371.5 504.6 L372.1 504.6 L372.7 504.6 L373.4 504.6 L374 504.6 L374.6 504.6 L375.2 504.6 L375.8 504.6 L376.4 504.6 L377 504.6 L377.6 504.6 L378.3 504.6 L378.9 504.6 L379.5 504.6 L380.1 504.6 L380.7 504.6 L381.3 504.6 L381.9 504.6 L382.5 504.5 L383.2 504.5 L383.8 504.5 L384.4 504.5 L385 504.5 L385.6 504.5 L386.2 504.4 L386.8 504.4 L387.4 504.4 L388.1 504.4 L388.7 504.4 L389.3 504.2 L389.9 503.8 L390.5 503.4 L391.1 502.9 L391.7 502.6 L392.3 502.4 L393 502.1 L393.6 501.9 L394.2 501.7 L394.8 501.4 L395.4 501.2 L396 501.1 L396.6 501.1 L397.2 501.2 L397.9 501.4 L398.5 501.6 L399.1 501.7 L399.7 501.6 L400.3 501.3 L400.9 500.7 L401.5 499.4 L402.1 496.7 L402.8 493.5 L403.4 490.6 L404 487.6 L404.6 484.9 L405.2 483.1 L405.8 482 L406.4 481.3 L407 481.3 L407.7 482.3 L408.3 483.8 L408.9 485.2 L409.5 486.8 L410.1 487.9 L410.7 487.7 L411.3 486.9 L411.9 485.8 L412.6 484.9 L413.2 484.7 L413.8 485.6 L414.4 487.1 L415 488.9 L415.6 491.4 L416.2 493.3 L416.8 494.3 L417.5 495 L418.1 495.7 L418.7 496.5 L419.3 497.2 L419.9 498 L420.5 498.9 L421.1 499.9 L421.7 500.9 L422.4 501.8 L423 502.7 L423.6 503.4 L424.2 504.1 L424.8 504.6 L424.8 504.6Z" fill="#63AFF2" stroke="none"/>
<path d="M370.3 504.6 L370.9 504.6 L371.5 504.6 L372.1 504.6 L372.7 504.6 L373.4 504.6 L374 504.6 L374.6 504.6 L375.2 504.6 L375.8 504.6 L376.4 504.6 L377 504.6 L377.6 504.6 L378.3 504.6 L378.9 504.6 L379.5 504.6 L380.1 504.6 L380.7 504.6 L381.3 504.6 L381.9 504.6 L382.5 504.5 L383.2 504.5 L383.8 504.5 L384.4 504.5 L385 504.5 L385.6 504.5 L386.2 504.4 L386.8 504.4 L387.4 504.4 L388.1 504.4 L388.7 504.4 L389.3 504.2 L389.9 503.8 L390.5 503.4 L391.1 502.9 L391.7 502.6 L392.3 502.4 L393 502.1 L393.6 501.9 L394.2 501.7 L394.8 501.4 L395.4 501.2 L396 501.1 L396.6 501.1 L397.2 501.2 L397.9 501.4 L398.5 501.6 L399.1 501.7 L399.7 501.6 L400.3 501.3 L400.9 500.7 L401.5 499.4 L402.1 496.7 L402.8 493.5 L403.4 490.6 L404 487.6 L404.6 484.9 L405.2 483.1 L405.8 482 L406.4 481.3 L407 481.3 L407.7 482.3 L408.3 483.8 L408.9 485.2 L409.5 486.8 L410.1 487.9 L410.7 487.7 L411.3 486.9 L411.9 485.8 L412.6 484.9 L413.2 484.7 L413.8 485.6 L414.4 487.1 L415 488.9 L415.6 491.4 L416.2 493.3 L416.8 494.3 L417.5 495 L418.1 495.7 L418.7 496.5 L419.3 497.2 L419.9 498 L420.5 498.9 L421.1 499.9 L421.7 500.9 L422.4 501.8 L423 502.7 L423.6 503.4 L424.2 504.1 L424.8 504.6 L476.4 504.6" fill="none" stroke="#111" stroke-width="0.95" stroke-linejoin="round"/>
<path d="M370.3 528 L370.3 528 L370.9 528 L371.5 528 L372.1 528 L372.7 528 L373.3 528 L373.9 528 L374.5 528 L375.2 528 L375.8 528 L376.4 528 L377 528 L377.6 528 L378.2 528 L378.8 528 L379.4 528 L380 528 L380.6 528 L381.2 528 L381.8 528 L382.4 528 L383 528 L383.6 528 L384.2 528 L384.9 528 L385.5 528 L386.1 528 L386.7 528 L387.3 528 L387.9 528 L388.5 528 L389.1 528 L389.7 528 L390.3 528 L390.9 528 L391.5 528 L392.1 528 L392.7 528 L393.3 528 L393.9 528 L394.6 528 L395.2 528 L395.8 528 L396.4 527.9 L397 527.8 L397.6 527.7 L398.2 527.6 L398.8 527.6 L399.4 527.5 L400 527.4 L400.6 527.4 L401.2 527.3 L401.8 527.3 L402.4 527.2 L403 527.1 L403.6 527 L404.3 526.8 L404.9 526.5 L405.5 526.2 L406.1 525.9 L406.7 525.6 L407.3 525.4 L407.9 525.1 L408.5 524.8 L409.1 524.6 L409.7 524.3 L410.3 523.9 L410.9 523.6 L411.5 523.1 L412.1 522.6 L412.7 522.1 L413.3 521.5 L414 520.7 L414.6 519.9 L415.2 518.8 L415.8 517.5 L416.4 516.1 L417 514.8 L417.6 513.6 L418.2 512.4 L418.8 511.1 L419.4 510 L420 508.8 L420.6 507.5 L421.2 506.5 L421.8 505.8 L422.4 505.3 L423 505 L423.7 504.9 L424.3 505.6 L424.9 506.7 L425.5 507.9 L426.1 509.3 L426.7 510.8 L427.3 512.4 L427.9 513.9 L428.5 515.3 L429.1 516.5 L429.7 517.7 L430.3 518.8 L430.9 520.1 L431.5 521.5 L432.1 522.8 L432.7 524.1 L433.4 525 L434 525.6 L434.6 526.2 L435.2 526.7 L435.8 527.2 L436.4 527.4 L437 527.6 L437.6 527.7 L438.2 527.8 L438.8 527.9 L439.4 528 L440 528 L440.6 528 L441.2 528 L441.8 528 L442.4 528 L443.1 528 L443.7 528 L444.3 528 L444.9 528 L445.5 528 L446.1 528 L446.7 528 L447.3 528 L447.9 528 L448.5 528 L449.1 528 L449.7 528 L450.3 528 L450.9 528 L451.5 528 L452.1 528 L452.8 528 L453.4 528 L454 528 L454.6 528 L455.2 528 L455.8 528 L456.4 528 L457 528 L457.6 528 L458.2 528 L458.8 528 L459.4 528 L460 528 L460.6 528 L461.2 528 L461.8 528 L462.5 528 L463.1 528 L463.7 528 L464.3 528 L464.9 528 L465.5 528 L466.1 528 L466.7 527.9 L467.3 527.8 L467.9 527.7 L468.5 527.5 L469.1 527.4 L469.7 527.2 L470.3 527.1 L470.9 527 L471.5 527 L472.2 527.2 L472.8 527.3 L473.4 527.5 L474 527.6 L474.6 527.7 L475.2 527.8 L475.8 527.9 L476.4 528 L476.4 528Z" fill="#68BD7D" stroke="none"/>
<path d="M370.3 528 L370.9 528 L371.5 528 L372.1 528 L372.7 528 L373.3 528 L373.9 528 L374.5 528 L375.2 528 L375.8 528 L376.4 528 L377 528 L377.6 528 L378.2 528 L378.8 528 L379.4 528 L380 528 L380.6 528 L381.2 528 L381.8 528 L382.4 528 L383 528 L383.6 528 L384.2 528 L384.9 528 L385.5 528 L386.1 528 L386.7 528 L387.3 528 L387.9 528 L388.5 528 L389.1 528 L389.7 528 L390.3 528 L390.9 528 L391.5 528 L392.1 528 L392.7 528 L393.3 528 L393.9 528 L394.6 528 L395.2 528 L395.8 528 L396.4 527.9 L397 527.8 L397.6 527.7 L398.2 527.6 L398.8 527.6 L399.4 527.5 L400 527.4 L400.6 527.4 L401.2 527.3 L401.8 527.3 L402.4 527.2 L403 527.1 L403.6 527 L404.3 526.8 L404.9 526.5 L405.5 526.2 L406.1 525.9 L406.7 525.6 L407.3 525.4 L407.9 525.1 L408.5 524.8 L409.1 524.6 L409.7 524.3 L410.3 523.9 L410.9 523.6 L411.5 523.1 L412.1 522.6 L412.7 522.1 L413.3 521.5 L414 520.7 L414.6 519.9 L415.2 518.8 L415.8 517.5 L416.4 516.1 L417 514.8 L417.6 513.6 L418.2 512.4 L418.8 511.1 L419.4 510 L420 508.8 L420.6 507.5 L421.2 506.5 L421.8 505.8 L422.4 505.3 L423 505 L423.7 504.9 L424.3 505.6 L424.9 506.7 L425.5 507.9 L426.1 509.3 L426.7 510.8 L427.3 512.4 L427.9 513.9 L428.5 515.3 L429.1 516.5 L429.7 517.7 L430.3 518.8 L430.9 520.1 L431.5 521.5 L432.1 522.8 L432.7 524.1 L433.4 525 L434 525.6 L434.6 526.2 L435.2 526.7 L435.8 527.2 L436.4 527.4 L437 527.6 L437.6 527.7 L438.2 527.8 L438.8 527.9 L439.4 528 L440 528 L440.6 528 L441.2 528 L441.8 528 L442.4 528 L443.1 528 L443.7 528 L444.3 528 L444.9 528 L445.5 528 L446.1 528 L446.7 528 L447.3 528 L447.9 528 L448.5 528 L449.1 528 L449.7 528 L450.3 528 L450.9 528 L451.5 528 L452.1 528 L452.8 528 L453.4 528 L454 528 L454.6 528 L455.2 528 L455.8 528 L456.4 528 L457 528 L457.6 528 L458.2 528 L458.8 528 L459.4 528 L460 528 L460.6 528 L461.2 528 L461.8 528 L462.5 528 L463.1 528 L463.7 528 L464.3 528 L464.9 528 L465.5 528 L466.1 528 L466.7 527.9 L467.3 527.8 L467.9 527.7 L468.5 527.5 L469.1 527.4 L469.7 527.2 L470.3 527.1 L470.9 527 L471.5 527 L472.2 527.2 L472.8 527.3 L473.4 527.5 L474 527.6 L474.6 527.7 L475.2 527.8 L475.8 527.9 L476.4 528" fill="none" stroke="#111" stroke-width="0.95" stroke-linejoin="round"/>
<path d="M370.3 551.5 L370.3 551.5 L370.9 551.5 L371.5 551.5 L372.1 551.5 L372.7 551.5 L373.4 551.5 L374 551.5 L374.6 551.5 L375.2 551.5 L375.8 551.5 L376.4 551.5 L377 551.5 L377.6 551.5 L378.2 551.5 L378.8 551.5 L379.5 551.5 L380.1 551.5 L380.7 551.5 L381.3 551.5 L381.9 551.5 L382.5 551.5 L383.1 551.5 L383.7 551.5 L384.3 551.5 L385 551.5 L385.6 551.5 L386.2 551.5 L386.8 551.5 L387.4 551.5 L388 551.5 L388.6 551.5 L389.2 551.5 L389.8 551.5 L390.4 551.5 L391.1 551.5 L391.7 551.5 L392.3 551.5 L392.9 551.5 L393.5 551.5 L394.1 551.5 L394.7 551.5 L395.3 551.5 L395.9 551.5 L396.6 551.4 L397.2 551.3 L397.8 551.2 L398.4 551.1 L399 551 L399.6 550.9 L400.2 550.8 L400.8 550.7 L401.4 550.6 L402 550.5 L402.7 550.3 L403.3 550.2 L403.9 550 L404.5 549.9 L405.1 549.7 L405.7 549.6 L406.3 549.4 L406.9 549.2 L407.5 549 L408.2 548.7 L408.8 548.4 L409.4 548 L410 547.5 L410.6 547 L411.2 546.4 L411.8 545.8 L412.4 545 L413 544.1 L413.6 543.1 L414.3 542.1 L414.9 541 L415.5 539.8 L416.1 538.5 L416.7 537.2 L417.3 535.9 L417.9 534.6 L418.5 533.3 L419.1 532.1 L419.8 531.1 L420.4 530.1 L421 529.3 L421.6 528.8 L422.2 528.4 L422.8 528.2 L423.4 528.3 L424 528.6 L424.6 529.3 L425.2 530 L425.9 530.9 L426.5 532.1 L427.1 533.5 L427.7 535.1 L428.3 536.6 L428.9 538.3 L429.5 540.2 L430.1 541.9 L430.7 543.5 L431.4 544.9 L432 546.3 L432.6 547.5 L433.2 548.5 L433.8 549.1 L434.4 549.7 L435 550.2 L435.6 550.6 L436.2 550.9 L436.8 551.1 L437.5 551.2 L438.1 551.3 L438.7 551.4 L439.3 551.5 L439.9 551.5 L439.9 551.5Z" fill="#A2A326" stroke="none"/>
<path d="M370.3 551.5 L370.9 551.5 L371.5 551.5 L372.1 551.5 L372.7 551.5 L373.4 551.5 L374 551.5 L374.6 551.5 L375.2 551.5 L375.8 551.5 L376.4 551.5 L377 551.5 L377.6 551.5 L378.2 551.5 L378.8 551.5 L379.5 551.5 L380.1 551.5 L380.7 551.5 L381.3 551.5 L381.9 551.5 L382.5 551.5 L383.1 551.5 L383.7 551.5 L384.3 551.5 L385 551.5 L385.6 551.5 L386.2 551.5 L386.8 551.5 L387.4 551.5 L388 551.5 L388.6 551.5 L389.2 551.5 L389.8 551.5 L390.4 551.5 L391.1 551.5 L391.7 551.5 L392.3 551.5 L392.9 551.5 L393.5 551.5 L394.1 551.5 L394.7 551.5 L395.3 551.5 L395.9 551.5 L396.6 551.4 L397.2 551.3 L397.8 551.2 L398.4 551.1 L399 551 L399.6 550.9 L400.2 550.8 L400.8 550.7 L401.4 550.6 L402 550.5 L402.7 550.3 L403.3 550.2 L403.9 550 L404.5 549.9 L405.1 549.7 L405.7 549.6 L406.3 549.4 L406.9 549.2 L407.5 549 L408.2 548.7 L408.8 548.4 L409.4 548 L410 547.5 L410.6 547 L411.2 546.4 L411.8 545.8 L412.4 545 L413 544.1 L413.6 543.1 L414.3 542.1 L414.9 541 L415.5 539.8 L416.1 538.5 L416.7 537.2 L417.3 535.9 L417.9 534.6 L418.5 533.3 L419.1 532.1 L419.8 531.1 L420.4 530.1 L421 529.3 L421.6 528.8 L422.2 528.4 L422.8 528.2 L423.4 528.3 L424 528.6 L424.6 529.3 L425.2 530 L425.9 530.9 L426.5 532.1 L427.1 533.5 L427.7 535.1 L428.3 536.6 L428.9 538.3 L429.5 540.2 L430.1 541.9 L430.7 543.5 L431.4 544.9 L432 546.3 L432.6 547.5 L433.2 548.5 L433.8 549.1 L434.4 549.7 L435 550.2 L435.6 550.6 L436.2 550.9 L436.8 551.1 L437.5 551.2 L438.1 551.3 L438.7 551.4 L439.3 551.5 L439.9 551.5 L476.4 551.5" fill="none" stroke="#111" stroke-width="0.95" stroke-linejoin="round"/>
<path d="M370.3 574.5 L370.3 574.5 L370.9 574.5 L371.5 574.5 L372.1 574.5 L372.7 574.5 L373.3 574.5 L374 574.5 L374.6 574.5 L375.2 574.5 L375.8 574.5 L376.4 574.5 L377 574.5 L377.6 574.5 L378.2 574.5 L378.8 574.5 L379.4 574.5 L380 574.5 L380.7 574.5 L381.3 574.5 L381.9 574.5 L382.5 574.5 L383.1 574.5 L383.7 574.5 L384.3 574.5 L384.9 574.5 L385.5 574.5 L386.1 574.5 L386.8 574.5 L387.4 574.5 L388 574.5 L388.6 574.5 L389.2 574.5 L389.8 574.5 L390.4 574.5 L391 574.5 L391.6 574.5 L392.2 574.5 L392.8 574.5 L393.5 574.5 L394.1 574.5 L394.7 574.5 L395.3 574.5 L395.9 574.5 L396.5 574.5 L397.1 574.4 L397.7 574.1 L398.3 573.7 L398.9 573.2 L399.5 572.7 L400.2 572.1 L400.8 571.4 L401.4 570.7 L402 570.3 L402.6 570 L403.2 569.7 L403.8 569.4 L404.4 569.1 L405 568.6 L405.6 568 L406.2 567.3 L406.9 566.4 L407.5 564.9 L408.1 562.9 L408.7 561 L409.3 558.7 L409.9 556.6 L410.5 555.7 L411.1 555.2 L411.7 554.8 L412.3 554.6 L412.9 554.4 L413.6 554.3 L414.2 554.2 L414.8 554 L415.4 553.9 L416 553.8 L416.6 553.6 L417.2 553.4 L417.8 553.1 L418.4 552.4 L419 551.6 L419.7 551.3 L420.3 552 L420.9 553.2 L421.5 554.8 L422.1 557.3 L422.7 560.1 L423.3 562.6 L423.9 565.2 L424.5 567.5 L425.1 569.4 L425.7 571.1 L426.4 572.4 L427 573.2 L427.6 573.7 L428.2 574.1 L428.8 574.4 L429.4 574.5 L429.4 574.5Z" fill="#DC756B" stroke="none"/>
<path d="M370.3 574.5 L370.9 574.5 L371.5 574.5 L372.1 574.5 L372.7 574.5 L373.3 574.5 L374 574.5 L374.6 574.5 L375.2 574.5 L375.8 574.5 L376.4 574.5 L377 574.5 L377.6 574.5 L378.2 574.5 L378.8 574.5 L379.4 574.5 L380 574.5 L380.7 574.5 L381.3 574.5 L381.9 574.5 L382.5 574.5 L383.1 574.5 L383.7 574.5 L384.3 574.5 L384.9 574.5 L385.5 574.5 L386.1 574.5 L386.8 574.5 L387.4 574.5 L388 574.5 L388.6 574.5 L389.2 574.5 L389.8 574.5 L390.4 574.5 L391 574.5 L391.6 574.5 L392.2 574.5 L392.8 574.5 L393.5 574.5 L394.1 574.5 L394.7 574.5 L395.3 574.5 L395.9 574.5 L396.5 574.5 L397.1 574.4 L397.7 574.1 L398.3 573.7 L398.9 573.2 L399.5 572.7 L400.2 572.1 L400.8 571.4 L401.4 570.7 L402 570.3 L402.6 570 L403.2 569.7 L403.8 569.4 L404.4 569.1 L405 568.6 L405.6 568 L406.2 567.3 L406.9 566.4 L407.5 564.9 L408.1 562.9 L408.7 561 L409.3 558.7 L409.9 556.6 L410.5 555.7 L411.1 555.2 L411.7 554.8 L412.3 554.6 L412.9 554.4 L413.6 554.3 L414.2 554.2 L414.8 554 L415.4 553.9 L416 553.8 L416.6 553.6 L417.2 553.4 L417.8 553.1 L418.4 552.4 L419 551.6 L419.7 551.3 L420.3 552 L420.9 553.2 L421.5 554.8 L422.1 557.3 L422.7 560.1 L423.3 562.6 L423.9 565.2 L424.5 567.5 L425.1 569.4 L425.7 571.1 L426.4 572.4 L427 573.2 L427.6 573.7 L428.2 574.1 L428.8 574.4 L429.4 574.5 L476.4 574.5" fill="none" stroke="#111" stroke-width="0.95" stroke-linejoin="round"/>
<line x1="395.4" y1="458.7" x2="394.5" y2="586.9" stroke="#dd0000" stroke-width="2.3"/>
<path d="M524 481.4H680.5 M524 504.6H680.5 M524 528H680.5 M524 551.5H680.5 M524 574.5H680.5 M537.8 457.8V591 M582.4 457.8V591 M627 457.8V591 M671.6 457.8V591" stroke="#ebebeb" stroke-width="1" fill="none"/>
<text x="537.8" y="600.8" font-size="9" text-anchor="middle" fill="#111" stroke="#111" stroke-width="0.15">0</text>
<text x="582.4" y="600.8" font-size="9" text-anchor="middle" fill="#111" stroke="#111" stroke-width="0.15">2</text>
<text x="627" y="600.8" font-size="9" text-anchor="middle" fill="#111" stroke="#111" stroke-width="0.15">4</text>
<text x="671.6" y="600.8" font-size="9" text-anchor="middle" fill="#111" stroke="#111" stroke-width="0.15">6</text>
<path d="M532.5 481.4 L532.5 481.4 L533.1 481.4 L533.7 481.4 L534.3 481.4 L534.9 481.4 L535.5 481.4 L536.1 481.3 L536.8 481.3 L537.4 481.3 L538 481.3 L538.6 481.3 L539.2 481.2 L539.8 481.2 L540.4 481.2 L541 481.2 L541.6 481.1 L542.2 481.1 L542.8 481 L543.4 480.9 L544.1 480.9 L544.7 480.8 L545.3 480.8 L545.9 480.7 L546.5 480.7 L547.1 480.7 L547.7 480.7 L548.3 480.7 L548.9 480.8 L549.5 480.8 L550.1 480.9 L550.7 481 L551.3 481.1 L552 481.1 L552.6 481.2 L553.2 481.2 L553.8 481.2 L554.4 481.1 L555 480.9 L555.6 480.7 L556.2 480.4 L556.8 480.2 L557.4 480 L558 479.9 L558.6 479.9 L559.3 479.9 L559.9 479.9 L560.5 479.9 L561.1 479.9 L561.7 479.9 L562.3 479.9 L562.9 479.9 L563.5 479.7 L564.1 479.5 L564.7 479.2 L565.3 478.8 L565.9 478.2 L566.5 477.3 L567.2 476.4 L567.8 475.5 L568.4 474.8 L569 474.1 L569.6 473.4 L570.2 472.6 L570.8 471.9 L571.4 471.2 L572 470.5 L572.6 469.7 L573.2 468.9 L573.8 468 L574.5 467 L575.1 465.9 L575.7 464.9 L576.3 463.8 L576.9 462.8 L577.5 461.8 L578.1 460.9 L578.7 460.1 L579.3 459.5 L579.9 459 L580.5 458.5 L581.1 458.3 L581.8 458.4 L582.4 459 L583 459.7 L583.6 460.6 L584.2 461.8 L584.8 463.4 L585.4 465.1 L586 466.9 L586.6 468.5 L587.2 470.3 L587.8 472 L588.4 473.5 L589 474.8 L589.7 475.9 L590.3 476.9 L590.9 477.7 L591.5 478.3 L592.1 478.7 L592.7 479.1 L593.3 479.4 L593.9 479.7 L594.5 479.9 L595.1 480.2 L595.7 480.4 L596.3 480.7 L597 480.9 L597.6 481 L598.2 481.1 L598.8 481.2 L599.4 481.3 L600 481.4 L600.6 481.4 L600.6 481.4Z" fill="#CB6DF0" stroke="none"/>
<path d="M532.5 481.4 L533.1 481.4 L533.7 481.4 L534.3 481.4 L534.9 481.4 L535.5 481.4 L536.1 481.3 L536.8 481.3 L537.4 481.3 L538 481.3 L538.6 481.3 L539.2 481.2 L539.8 481.2 L540.4 481.2 L541 481.2 L541.6 481.1 L542.2 481.1 L542.8 481 L543.4 480.9 L544.1 480.9 L544.7 480.8 L545.3 480.8 L545.9 480.7 L546.5 480.7 L547.1 480.7 L547.7 480.7 L548.3 480.7 L548.9 480.8 L549.5 480.8 L550.1 480.9 L550.7 481 L551.3 481.1 L552 481.1 L552.6 481.2 L553.2 481.2 L553.8 481.2 L554.4 481.1 L555 480.9 L555.6 480.7 L556.2 480.4 L556.8 480.2 L557.4 480 L558 479.9 L558.6 479.9 L559.3 479.9 L559.9 479.9 L560.5 479.9 L561.1 479.9 L561.7 479.9 L562.3 479.9 L562.9 479.9 L563.5 479.7 L564.1 479.5 L564.7 479.2 L565.3 478.8 L565.9 478.2 L566.5 477.3 L567.2 476.4 L567.8 475.5 L568.4 474.8 L569 474.1 L569.6 473.4 L570.2 472.6 L570.8 471.9 L571.4 471.2 L572 470.5 L572.6 469.7 L573.2 468.9 L573.8 468 L574.5 467 L575.1 465.9 L575.7 464.9 L576.3 463.8 L576.9 462.8 L577.5 461.8 L578.1 460.9 L578.7 460.1 L579.3 459.5 L579.9 459 L580.5 458.5 L581.1 458.3 L581.8 458.4 L582.4 459 L583 459.7 L583.6 460.6 L584.2 461.8 L584.8 463.4 L585.4 465.1 L586 466.9 L586.6 468.5 L587.2 470.3 L587.8 472 L588.4 473.5 L589 474.8 L589.7 475.9 L590.3 476.9 L590.9 477.7 L591.5 478.3 L592.1 478.7 L592.7 479.1 L593.3 479.4 L593.9 479.7 L594.5 479.9 L595.1 480.2 L595.7 480.4 L596.3 480.7 L597 480.9 L597.6 481 L598.2 481.1 L598.8 481.2 L599.4 481.3 L600 481.4 L600.6 481.4 L671.8 481.4" fill="none" stroke="#111" stroke-width="0.95" stroke-linejoin="round"/>
<path d="M532.5 504.6 L532.5 504.6 L533.1 504.6 L533.7 504.6 L534.3 504.6 L534.9 504.6 L535.5 504.6 L536.1 504.6 L536.7 504.6 L537.4 504.6 L538 504.6 L538.6 504.6 L539.2 504.5 L539.8 504.5 L540.4 504.5 L541 504.5 L541.6 504.4 L542.2 504.4 L542.8 504.3 L543.4 504.2 L544 504.1 L544.6 503.9 L545.2 503.8 L545.8 503.7 L546.4 503.6 L547.1 503.5 L547.7 503.5 L548.3 503.5 L548.9 503.5 L549.5 503.6 L550.1 503.8 L550.7 503.9 L551.3 504.1 L551.9 504.2 L552.5 504.4 L553.1 504.4 L553.7 504.5 L554.3 504.5 L554.9 504.5 L555.5 504.5 L556.1 504.6 L556.8 504.6 L557.4 504.6 L558 504.6 L558.6 504.6 L559.2 504.6 L559.8 504.6 L560.4 504.6 L561 504.6 L561.6 504.6 L562.2 504.5 L562.8 504.3 L563.4 504 L564 503.6 L564.6 502.7 L565.2 501.5 L565.8 500.2 L566.5 499.1 L567.1 498.1 L567.7 497.3 L568.3 496.6 L568.9 496.1 L569.5 495.8 L570.1 495.4 L570.7 494.7 L571.3 493.5 L571.9 491.7 L572.5 489.8 L573.1 487.2 L573.7 485 L574.3 483.1 L574.9 481.7 L575.5 481.4 L576.2 482.5 L576.8 484.3 L577.4 486.2 L578 488.7 L578.6 490.5 L579.2 491.4 L579.8 492.1 L580.4 492.8 L581 493.6 L581.6 494.3 L582.2 495.2 L582.8 496.2 L583.4 497.3 L584 498.4 L584.6 499.5 L585.2 500.5 L585.9 501.7 L586.5 502.7 L587.1 503.5 L587.7 503.9 L588.3 504.2 L588.9 504.4 L589.5 504.6 L590.1 504.6 L590.1 504.6Z" fill="#63AFF2" stroke="none"/>
<path d="M532.5 504.6 L533.1 504.6 L533.7 504.6 L534.3 504.6 L534.9 504.6 L535.5 504.6 L536.1 504.6 L536.7 504.6 L537.4 504.6 L538 504.6 L538.6 504.6 L539.2 504.5 L539.8 504.5 L540.4 504.5 L541 504.5 L541.6 504.4 L542.2 504.4 L542.8 504.3 L543.4 504.2 L544 504.1 L544.6 503.9 L545.2 503.8 L545.8 503.7 L546.4 503.6 L547.1 503.5 L547.7 503.5 L548.3 503.5 L548.9 503.5 L549.5 503.6 L550.1 503.8 L550.7 503.9 L551.3 504.1 L551.9 504.2 L552.5 504.4 L553.1 504.4 L553.7 504.5 L554.3 504.5 L554.9 504.5 L555.5 504.5 L556.1 504.6 L556.8 504.6 L557.4 504.6 L558 504.6 L558.6 504.6 L559.2 504.6 L559.8 504.6 L560.4 504.6 L561 504.6 L561.6 504.6 L562.2 504.5 L562.8 504.3 L563.4 504 L564 503.6 L564.6 502.7 L565.2 501.5 L565.8 500.2 L566.5 499.1 L567.1 498.1 L567.7 497.3 L568.3 496.6 L568.9 496.1 L569.5 495.8 L570.1 495.4 L570.7 494.7 L571.3 493.5 L571.9 491.7 L572.5 489.8 L573.1 487.2 L573.7 485 L574.3 483.1 L574.9 481.7 L575.5 481.4 L576.2 482.5 L576.8 484.3 L577.4 486.2 L578 488.7 L578.6 490.5 L579.2 491.4 L579.8 492.1 L580.4 492.8 L581 493.6 L581.6 494.3 L582.2 495.2 L582.8 496.2 L583.4 497.3 L584 498.4 L584.6 499.5 L585.2 500.5 L585.9 501.7 L586.5 502.7 L587.1 503.5 L587.7 503.9 L588.3 504.2 L588.9 504.4 L589.5 504.6 L590.1 504.6 L671.8 504.6" fill="none" stroke="#111" stroke-width="0.95" stroke-linejoin="round"/>
<path d="M532.5 528 L532.5 528 L533.1 528 L533.7 528 L534.3 528 L534.9 528 L535.5 528 L536.1 528 L536.7 528 L537.3 528 L537.9 528 L538.6 528 L539.2 528 L539.8 528 L540.4 528 L541 528 L541.6 528 L542.2 528 L542.8 528 L543.4 528 L544 528 L544.6 528 L545.2 528 L545.8 528 L546.4 528 L547 528 L547.6 528 L548.2 528 L548.8 528 L549.5 528 L550.1 528 L550.7 528 L551.3 528 L551.9 528 L552.5 528 L553.1 528 L553.7 528 L554.3 528 L554.9 528 L555.5 528 L556.1 528 L556.7 528 L557.3 528 L557.9 528 L558.5 528 L559.1 528 L559.7 528 L560.3 528 L561 528 L561.6 528 L562.2 528 L562.8 528 L563.4 528 L564 527.9 L564.6 527.8 L565.2 527.7 L565.8 527.6 L566.4 527.5 L567 527.4 L567.6 527.2 L568.2 526.9 L568.8 526.7 L569.4 526.5 L570 526.3 L570.6 526.1 L571.2 526 L571.9 525.9 L572.5 525.9 L573.1 525.8 L573.7 525.6 L574.3 525.5 L574.9 525.3 L575.5 525 L576.1 524.7 L576.7 524.4 L577.3 524 L577.9 523.6 L578.5 523.1 L579.1 522.6 L579.7 522.1 L580.3 521.5 L580.9 520.8 L581.5 520.1 L582.1 519.3 L582.7 518.4 L583.4 517.3 L584 516.1 L584.6 514.7 L585.2 513.5 L585.8 512.6 L586.4 511.8 L587 511.1 L587.6 510.4 L588.2 509.7 L588.8 508.8 L589.4 508 L590 507.2 L590.6 506.4 L591.2 505.7 L591.8 505.2 L592.4 505.5 L593 506.7 L593.6 508.2 L594.2 509.7 L594.9 511.2 L595.5 512.8 L596.1 514.4 L596.7 515.9 L597.3 517.1 L597.9 518.3 L598.5 519.4 L599.1 520.5 L599.7 521.7 L600.3 523 L600.9 524.3 L601.5 525.4 L602.1 526.1 L602.7 526.7 L603.3 527.3 L603.9 527.6 L604.5 527.8 L605.1 527.9 L605.8 527.9 L606.4 528 L607 528 L607.6 528 L608.2 528 L608.8 528 L609.4 528 L610 528 L610.6 528 L611.2 528 L611.8 528 L612.4 528 L613 528 L613.6 528 L614.2 528 L614.8 528 L615.4 528 L616 528 L616.6 528 L617.3 528 L617.9 528 L618.5 528 L619.1 528 L619.7 528 L620.3 528 L620.9 528 L621.5 528 L622.1 528 L622.7 528 L623.3 528 L623.9 528 L624.5 528 L625.1 528 L625.7 528 L626.3 528 L626.9 528 L627.5 528 L628.2 527.9 L628.8 527.7 L629.4 527.6 L630 527.4 L630.6 527.3 L631.2 527.3 L631.8 527.4 L632.4 527.5 L633 527.6 L633.6 527.8 L634.2 527.9 L634.8 528 L635.4 528 L636 528 L636.6 528 L637.2 528 L637.8 528 L638.4 528 L639 528 L639.7 528 L640.3 528 L640.9 528 L641.5 528 L642.1 528 L642.7 528 L643.3 528 L643.9 528 L644.5 528 L645.1 528 L645.7 528 L646.3 528 L646.9 528 L647.5 528 L648.1 528 L648.7 527.9 L649.3 527.8 L649.9 527.7 L650.6 527.5 L651.2 527.4 L651.8 527.3 L652.4 527.3 L653 527.3 L653.6 527.4 L654.2 527.5 L654.8 527.6 L655.4 527.8 L656 528 L656 528Z" fill="#68BD7D" stroke="none"/>
<path d="M532.5 528 L533.1 528 L533.7 528 L534.3 528 L534.9 528 L535.5 528 L536.1 528 L536.7 528 L537.3 528 L537.9 528 L538.6 528 L539.2 528 L539.8 528 L540.4 528 L541 528 L541.6 528 L542.2 528 L542.8 528 L543.4 528 L544 528 L544.6 528 L545.2 528 L545.8 528 L546.4 528 L547 528 L547.6 528 L548.2 528 L548.8 528 L549.5 528 L550.1 528 L550.7 528 L551.3 528 L551.9 528 L552.5 528 L553.1 528 L553.7 528 L554.3 528 L554.9 528 L555.5 528 L556.1 528 L556.7 528 L557.3 528 L557.9 528 L558.5 528 L559.1 528 L559.7 528 L560.3 528 L561 528 L561.6 528 L562.2 528 L562.8 528 L563.4 528 L564 527.9 L564.6 527.8 L565.2 527.7 L565.8 527.6 L566.4 527.5 L567 527.4 L567.6 527.2 L568.2 526.9 L568.8 526.7 L569.4 526.5 L570 526.3 L570.6 526.1 L571.2 526 L571.9 525.9 L572.5 525.9 L573.1 525.8 L573.7 525.6 L574.3 525.5 L574.9 525.3 L575.5 525 L576.1 524.7 L576.7 524.4 L577.3 524 L577.9 523.6 L578.5 523.1 L579.1 522.6 L579.7 522.1 L580.3 521.5 L580.9 520.8 L581.5 520.1 L582.1 519.3 L582.7 518.4 L583.4 517.3 L584 516.1 L584.6 514.7 L585.2 513.5 L585.8 512.6 L586.4 511.8 L587 511.1 L587.6 510.4 L588.2 509.7 L588.8 508.8 L589.4 508 L590 507.2 L590.6 506.4 L591.2 505.7 L591.8 505.2 L592.4 505.5 L593 506.7 L593.6 508.2 L594.2 509.7 L594.9 511.2 L595.5 512.8 L596.1 514.4 L596.7 515.9 L597.3 517.1 L597.9 518.3 L598.5 519.4 L599.1 520.5 L599.7 521.7 L600.3 523 L600.9 524.3 L601.5 525.4 L602.1 526.1 L602.7 526.7 L603.3 527.3 L603.9 527.6 L604.5 527.8 L605.1 527.9 L605.8 527.9 L606.4 528 L607 528 L607.6 528 L608.2 528 L608.8 528 L609.4 528 L610 528 L610.6 528 L611.2 528 L611.8 528 L612.4 528 L613 528 L613.6 528 L614.2 528 L614.8 528 L615.4 528 L616 528 L616.6 528 L617.3 528 L617.9 528 L618.5 528 L619.1 528 L619.7 528 L620.3 528 L620.9 528 L621.5 528 L622.1 528 L622.7 528 L623.3 528 L623.9 528 L624.5 528 L625.1 528 L625.7 528 L626.3 528 L626.9 528 L627.5 528 L628.2 527.9 L628.8 527.7 L629.4 527.6 L630 527.4 L630.6 527.3 L631.2 527.3 L631.8 527.4 L632.4 527.5 L633 527.6 L633.6 527.8 L634.2 527.9 L634.8 528 L635.4 528 L636 528 L636.6 528 L637.2 528 L637.8 528 L638.4 528 L639 528 L639.7 528 L640.3 528 L640.9 528 L641.5 528 L642.1 528 L642.7 528 L643.3 528 L643.9 528 L644.5 528 L645.1 528 L645.7 528 L646.3 528 L646.9 528 L647.5 528 L648.1 528 L648.7 527.9 L649.3 527.8 L649.9 527.7 L650.6 527.5 L651.2 527.4 L651.8 527.3 L652.4 527.3 L653 527.3 L653.6 527.4 L654.2 527.5 L654.8 527.6 L655.4 527.8 L656 528 L671.8 528" fill="none" stroke="#111" stroke-width="0.95" stroke-linejoin="round"/>
<path d="M532.5 551.5 L532.5 551.5 L533.1 551.5 L533.7 551.5 L534.3 551.5 L534.9 551.5 L535.5 551.5 L536.1 551.5 L536.7 551.5 L537.3 551.5 L538 551.5 L538.6 551.5 L539.2 551.5 L539.8 551.5 L540.4 551.5 L541 551.5 L541.6 551.5 L542.2 551.5 L542.8 551.5 L543.4 551.5 L544 551.5 L544.6 551.5 L545.2 551.5 L545.8 551.5 L546.4 551.5 L547 551.5 L547.6 551.5 L548.3 551.5 L548.9 551.5 L549.5 551.5 L550.1 551.5 L550.7 551.5 L551.3 551.5 L551.9 551.5 L552.5 551.5 L553.1 551.5 L553.7 551.5 L554.3 551.5 L554.9 551.5 L555.5 551.5 L556.1 551.5 L556.7 551.5 L557.3 551.5 L557.9 551.5 L558.5 551.5 L559.2 551.5 L559.8 551.5 L560.4 551.5 L561 551.5 L561.6 551.5 L562.2 551.5 L562.8 551.5 L563.4 551.5 L564 551.5 L564.6 551.5 L565.2 551.5 L565.8 551.5 L566.4 551.4 L567 551.3 L567.6 551.2 L568.2 551.1 L568.8 551 L569.5 551 L570.1 550.9 L570.7 550.9 L571.3 550.8 L571.9 550.7 L572.5 550.7 L573.1 550.6 L573.7 550.4 L574.3 550.3 L574.9 550 L575.5 549.7 L576.1 549.4 L576.7 549 L577.3 548.5 L577.9 547.8 L578.5 547.2 L579.1 546.5 L579.8 545.8 L580.4 545.3 L581 544.7 L581.6 544.1 L582.2 543.4 L582.8 542.8 L583.4 542.1 L584 541.3 L584.6 540.4 L585.2 539.3 L585.8 537.8 L586.4 536.1 L587 534.4 L587.6 533 L588.2 531.6 L588.8 530.4 L589.4 529.5 L590 528.9 L590.7 528.3 L591.3 528.2 L591.9 528.6 L592.5 529.3 L593.1 530.2 L593.7 531.4 L594.3 532.9 L594.9 534.5 L595.5 536 L596.1 537.6 L596.7 539.3 L597.3 540.9 L597.9 542.5 L598.5 544 L599.1 545.6 L599.7 547.1 L600.3 548.2 L601 549.1 L601.6 549.8 L602.2 550.4 L602.8 550.8 L603.4 551.1 L604 551.2 L604.6 551.4 L605.2 551.5 L605.8 551.5 L605.8 551.5Z" fill="#A2A326" stroke="none"/>
<path d="M532.5 551.5 L533.1 551.5 L533.7 551.5 L534.3 551.5 L534.9 551.5 L535.5 551.5 L536.1 551.5 L536.7 551.5 L537.3 551.5 L538 551.5 L538.6 551.5 L539.2 551.5 L539.8 551.5 L540.4 551.5 L541 551.5 L541.6 551.5 L542.2 551.5 L542.8 551.5 L543.4 551.5 L544 551.5 L544.6 551.5 L545.2 551.5 L545.8 551.5 L546.4 551.5 L547 551.5 L547.6 551.5 L548.3 551.5 L548.9 551.5 L549.5 551.5 L550.1 551.5 L550.7 551.5 L551.3 551.5 L551.9 551.5 L552.5 551.5 L553.1 551.5 L553.7 551.5 L554.3 551.5 L554.9 551.5 L555.5 551.5 L556.1 551.5 L556.7 551.5 L557.3 551.5 L557.9 551.5 L558.5 551.5 L559.2 551.5 L559.8 551.5 L560.4 551.5 L561 551.5 L561.6 551.5 L562.2 551.5 L562.8 551.5 L563.4 551.5 L564 551.5 L564.6 551.5 L565.2 551.5 L565.8 551.5 L566.4 551.4 L567 551.3 L567.6 551.2 L568.2 551.1 L568.8 551 L569.5 551 L570.1 550.9 L570.7 550.9 L571.3 550.8 L571.9 550.7 L572.5 550.7 L573.1 550.6 L573.7 550.4 L574.3 550.3 L574.9 550 L575.5 549.7 L576.1 549.4 L576.7 549 L577.3 548.5 L577.9 547.8 L578.5 547.2 L579.1 546.5 L579.8 545.8 L580.4 545.3 L581 544.7 L581.6 544.1 L582.2 543.4 L582.8 542.8 L583.4 542.1 L584 541.3 L584.6 540.4 L585.2 539.3 L585.8 537.8 L586.4 536.1 L587 534.4 L587.6 533 L588.2 531.6 L588.8 530.4 L589.4 529.5 L590 528.9 L590.7 528.3 L591.3 528.2 L591.9 528.6 L592.5 529.3 L593.1 530.2 L593.7 531.4 L594.3 532.9 L594.9 534.5 L595.5 536 L596.1 537.6 L596.7 539.3 L597.3 540.9 L597.9 542.5 L598.5 544 L599.1 545.6 L599.7 547.1 L600.3 548.2 L601 549.1 L601.6 549.8 L602.2 550.4 L602.8 550.8 L603.4 551.1 L604 551.2 L604.6 551.4 L605.2 551.5 L605.8 551.5 L671.8 551.5" fill="none" stroke="#111" stroke-width="0.95" stroke-linejoin="round"/>
<path d="M532.5 574.5 L532.5 574.5 L533.1 574.5 L533.7 574.5 L534.3 574.5 L534.9 574.5 L535.5 574.5 L536.1 574.5 L536.7 574.5 L537.4 574.5 L538 574.5 L538.6 574.5 L539.2 574.5 L539.8 574.5 L540.4 574.5 L541 574.5 L541.6 574.5 L542.2 574.5 L542.8 574.5 L543.4 574.5 L544 574.5 L544.6 574.5 L545.2 574.5 L545.8 574.5 L546.4 574.5 L547.1 574.5 L547.7 574.5 L548.3 574.5 L548.9 574.5 L549.5 574.5 L550.1 574.5 L550.7 574.5 L551.3 574.5 L551.9 574.5 L552.5 574.5 L553.1 574.5 L553.7 574.5 L554.3 574.5 L554.9 574.5 L555.5 574.5 L556.2 574.5 L556.8 574.5 L557.4 574.5 L558 574.5 L558.6 574.5 L559.2 574.5 L559.8 574.5 L560.4 574.5 L561 574.5 L561.6 574.5 L562.2 574.5 L562.8 574.3 L563.4 574 L564 573.6 L564.6 573.2 L565.2 572.9 L565.9 572.7 L566.5 572.4 L567.1 572.1 L567.7 571.8 L568.3 571.5 L568.9 571.2 L569.5 570.8 L570.1 570.3 L570.7 569.9 L571.3 569.3 L571.9 568.8 L572.5 568.2 L573.1 567.5 L573.7 566.8 L574.3 566 L574.9 565.2 L575.6 564.3 L576.2 563.4 L576.8 562.3 L577.4 561.1 L578 559.2 L578.6 556.5 L579.2 554.2 L579.8 552.1 L580.4 551.7 L581 552.9 L581.6 554.6 L582.2 556 L582.8 557.4 L583.4 558.7 L584 559.7 L584.7 560.3 L585.3 560.7 L585.9 561.1 L586.5 561.3 L587.1 561.5 L587.7 561.7 L588.3 562 L588.9 562.9 L589.5 564 L590.1 565.1 L590.7 566.2 L591.3 567.3 L591.9 568.4 L592.5 569.5 L593.1 570.4 L593.7 571.3 L594.4 572.1 L595 572.7 L595.6 573.2 L596.2 573.6 L596.8 573.9 L597.4 574.2 L598 574.4 L598.6 574.5 L598.6 574.5Z" fill="#DC756B" stroke="none"/>
<path d="M532.5 574.5 L533.1 574.5 L533.7 574.5 L534.3 574.5 L534.9 574.5 L535.5 574.5 L536.1 574.5 L536.7 574.5 L537.4 574.5 L538 574.5 L538.6 574.5 L539.2 574.5 L539.8 574.5 L540.4 574.5 L541 574.5 L541.6 574.5 L542.2 574.5 L542.8 574.5 L543.4 574.5 L544 574.5 L544.6 574.5 L545.2 574.5 L545.8 574.5 L546.4 574.5 L547.1 574.5 L547.7 574.5 L548.3 574.5 L548.9 574.5 L549.5 574.5 L550.1 574.5 L550.7 574.5 L551.3 574.5 L551.9 574.5 L552.5 574.5 L553.1 574.5 L553.7 574.5 L554.3 574.5 L554.9 574.5 L555.5 574.5 L556.2 574.5 L556.8 574.5 L557.4 574.5 L558 574.5 L558.6 574.5 L559.2 574.5 L559.8 574.5 L560.4 574.5 L561 574.5 L561.6 574.5 L562.2 574.5 L562.8 574.3 L563.4 574 L564 573.6 L564.6 573.2 L565.2 572.9 L565.9 572.7 L566.5 572.4 L567.1 572.1 L567.7 571.8 L568.3 571.5 L568.9 571.2 L569.5 570.8 L570.1 570.3 L570.7 569.9 L571.3 569.3 L571.9 568.8 L572.5 568.2 L573.1 567.5 L573.7 566.8 L574.3 566 L574.9 565.2 L575.6 564.3 L576.2 563.4 L576.8 562.3 L577.4 561.1 L578 559.2 L578.6 556.5 L579.2 554.2 L579.8 552.1 L580.4 551.7 L581 552.9 L581.6 554.6 L582.2 556 L582.8 557.4 L583.4 558.7 L584 559.7 L584.7 560.3 L585.3 560.7 L585.9 561.1 L586.5 561.3 L587.1 561.5 L587.7 561.7 L588.3 562 L588.9 562.9 L589.5 564 L590.1 565.1 L590.7 566.2 L591.3 567.3 L591.9 568.4 L592.5 569.5 L593.1 570.4 L593.7 571.3 L594.4 572.1 L595 572.7 L595.6 573.2 L596.2 573.6 L596.8 573.9 L597.4 574.2 L598 574.4 L598.6 574.5 L671.8 574.5" fill="none" stroke="#111" stroke-width="0.95" stroke-linejoin="round"/>
<line x1="561.3" y1="458.7" x2="560.15" y2="586.9" stroke="#dd0000" stroke-width="2.3"/>
<text x="12.5" y="656.5" font-size="19.5" fill="#111" stroke="#111" stroke-width="0.15">D</text>
<text x="35.9" y="670.5" font-size="11" font-weight="bold" fill="#111" stroke="#111" stroke-width="0.2">CD178</text>
<text x="30.8" y="701.1999999999999" font-size="10.0" text-anchor="end" fill="#111" stroke="#111" stroke-width="0.15">NK</text>
<text x="30.8" y="725.0" font-size="10.0" text-anchor="end" fill="#111" stroke="#111" stroke-width="0.15">CM</text>
<text x="30.8" y="748.1999999999999" font-size="10.0" text-anchor="end" fill="#111" stroke="#111" stroke-width="0.15">CD8T</text>
<text x="30.8" y="771.9" font-size="10.0" text-anchor="end" fill="#111" stroke="#111" stroke-width="0.15">CD4T</text>
<text x="30.8" y="795.4" font-size="10.0" text-anchor="end" fill="#111" stroke="#111" stroke-width="0.15">B</text>
<text x="295.2" y="838.9" font-size="14.3" fill="#111" stroke="#111" stroke-width="0.15">expression level</text>
<path d="M34.3 700.4H193 M34.3 724.2H193 M34.3 747.4H193 M34.3 771.1H193 M34.3 794.6H193 M54 676.7V811 M86.9 676.7V811 M119.9 676.7V811 M152.8 676.7V811 M185.8 676.7V811" stroke="#ebebeb" stroke-width="1" fill="none"/>
<text x="54" y="821.1" font-size="9" text-anchor="middle" fill="#111" stroke="#111" stroke-width="0.15">0</text>
<text x="86.9" y="821.1" font-size="9" text-anchor="middle" fill="#111" stroke="#111" stroke-width="0.15">1</text>
<text x="119.9" y="821.1" font-size="9" text-anchor="middle" fill="#111" stroke="#111" stroke-width="0.15">2</text>
<text x="152.8" y="821.1" font-size="9" text-anchor="middle" fill="#111" stroke="#111" stroke-width="0.15">3</text>
<text x="185.8" y="821.1" font-size="9" text-anchor="middle" fill="#111" stroke="#111" stroke-width="0.15">4</text>
<path d="M42.9 700.4 L42.9 700.4 L43.5 700.3 L44.1 700.1 L44.7 699.9 L45.3 699.5 L45.9 699.1 L46.6 698.5 L47.2 697.6 L47.8 696.5 L48.4 695.4 L49 693.9 L49.6 692.2 L50.2 690.6 L50.8 689.2 L51.4 688 L52 687 L52.6 686.4 L53.2 686 L53.9 685.8 L54.5 686.1 L55.1 686.9 L55.7 688.1 L56.3 689.2 L56.9 689.9 L57.5 690.7 L58.1 691.5 L58.7 692 L59.3 692.2 L59.9 691.7 L60.5 690.5 L61.2 689.1 L61.8 687.8 L62.4 686.3 L63 684.8 L63.6 683.5 L64.2 682.4 L64.8 681.5 L65.4 680.5 L66 679.8 L66.6 679.4 L67.2 679.5 L67.8 680 L68.5 680.6 L69.1 681.2 L69.7 681.6 L70.3 682 L70.9 682.2 L71.5 682.3 L72.1 681.8 L72.7 680.9 L73.3 680 L73.9 679.4 L74.5 678.9 L75.1 678.4 L75.8 678 L76.4 677.7 L77 677.4 L77.6 677.4 L78.2 677.7 L78.8 678.2 L79.4 678.8 L80 679.6 L80.6 680.3 L81.2 681.4 L81.8 682.6 L82.4 683.8 L83.1 685 L83.7 686 L84.3 687 L84.9 687.9 L85.5 688.9 L86.1 689.7 L86.7 690.5 L87.3 691.2 L87.9 691.9 L88.5 692.5 L89.1 693 L89.7 693.6 L90.4 694.1 L91 694.7 L91.6 695.2 L92.2 695.7 L92.8 696.2 L93.4 696.7 L94 697.2 L94.6 697.7 L95.2 698.2 L95.8 698.8 L96.4 699.2 L97 699.5 L97.7 699.8 L98.3 700 L98.9 700.1 L99.5 700.3 L100.1 700.4 L100.7 700.4 L100.7 700.4Z" fill="#CB6DF0" stroke="none"/>
<path d="M42.9 700.4 L43.5 700.3 L44.1 700.1 L44.7 699.9 L45.3 699.5 L45.9 699.1 L46.6 698.5 L47.2 697.6 L47.8 696.5 L48.4 695.4 L49 693.9 L49.6 692.2 L50.2 690.6 L50.8 689.2 L51.4 688 L52 687 L52.6 686.4 L53.2 686 L53.9 685.8 L54.5 686.1 L55.1 686.9 L55.7 688.1 L56.3 689.2 L56.9 689.9 L57.5 690.7 L58.1 691.5 L58.7 692 L59.3 692.2 L59.9 691.7 L60.5 690.5 L61.2 689.1 L61.8 687.8 L62.4 686.3 L63 684.8 L63.6 683.5 L64.2 682.4 L64.8 681.5 L65.4 680.5 L66 679.8 L66.6 679.4 L67.2 679.5 L67.8 680 L68.5 680.6 L69.1 681.2 L69.7 681.6 L70.3 682 L70.9 682.2 L71.5 682.3 L72.1 681.8 L72.7 680.9 L73.3 680 L73.9 679.4 L74.5 678.9 L75.1 678.4 L75.8 678 L76.4 677.7 L77 677.4 L77.6 677.4 L78.2 677.7 L78.8 678.2 L79.4 678.8 L80 679.6 L80.6 680.3 L81.2 681.4 L81.8 682.6 L82.4 683.8 L83.1 685 L83.7 686 L84.3 687 L84.9 687.9 L85.5 688.9 L86.1 689.7 L86.7 690.5 L87.3 691.2 L87.9 691.9 L88.5 692.5 L89.1 693 L89.7 693.6 L90.4 694.1 L91 694.7 L91.6 695.2 L92.2 695.7 L92.8 696.2 L93.4 696.7 L94 697.2 L94.6 697.7 L95.2 698.2 L95.8 698.8 L96.4 699.2 L97 699.5 L97.7 699.8 L98.3 700 L98.9 700.1 L99.5 700.3 L100.1 700.4 L100.7 700.4 L108.3 700.4" fill="none" stroke="#111" stroke-width="0.95" stroke-linejoin="round"/>
<path d="M42.9 724.2 L42.9 724.2 L43.5 724.2 L44.1 724.1 L44.7 723.9 L45.3 723.8 L45.9 723.6 L46.5 723.4 L47.1 723.2 L47.8 723 L48.4 722.6 L49 722.2 L49.6 721.8 L50.2 721.4 L50.8 721 L51.4 720.8 L52 720.6 L52.6 720.4 L53.2 720.3 L53.8 720.1 L54.4 720 L55 719.8 L55.6 719.5 L56.3 719.3 L56.9 719 L57.5 718.7 L58.1 718.4 L58.7 718 L59.3 717.6 L59.9 717 L60.5 716.4 L61.1 715.8 L61.7 715.1 L62.3 714.3 L62.9 713.5 L63.5 712.6 L64.1 711.6 L64.8 710.6 L65.4 709.7 L66 708.9 L66.6 708.1 L67.2 707.4 L67.8 706.7 L68.4 706 L69 705.4 L69.6 704.8 L70.2 704.2 L70.8 703.7 L71.4 703.1 L72 702.6 L72.6 702.2 L73.2 701.8 L73.9 701.5 L74.5 701.1 L75.1 700.9 L75.7 700.8 L76.3 701 L76.9 701.5 L77.5 702.2 L78.1 702.9 L78.7 703.7 L79.3 704.5 L79.9 705.5 L80.5 706.5 L81.1 707.5 L81.7 708.5 L82.4 709.5 L83 710.5 L83.6 711.5 L84.2 712.4 L84.8 713.2 L85.4 714.1 L86 714.8 L86.6 715.5 L87.2 716.1 L87.8 716.6 L88.4 717 L89 717.4 L89.6 717.7 L90.2 718 L90.9 718.3 L91.5 718.6 L92.1 718.9 L92.7 719.2 L93.3 719.5 L93.9 719.8 L94.5 720.2 L95.1 720.6 L95.7 721.1 L96.3 721.5 L96.9 721.9 L97.5 722.3 L98.1 722.6 L98.7 723 L99.4 723.3 L100 723.6 L100.6 723.8 L101.2 723.9 L101.8 724 L102.4 724.1 L103 724.2 L103.6 724.2 L103.6 724.2Z" fill="#63AFF2" stroke="none"/>
<path d="M42.9 724.2 L43.5 724.2 L44.1 724.1 L44.7 723.9 L45.3 723.8 L45.9 723.6 L46.5 723.4 L47.1 723.2 L47.8 723 L48.4 722.6 L49 722.2 L49.6 721.8 L50.2 721.4 L50.8 721 L51.4 720.8 L52 720.6 L52.6 720.4 L53.2 720.3 L53.8 720.1 L54.4 720 L55 719.8 L55.6 719.5 L56.3 719.3 L56.9 719 L57.5 718.7 L58.1 718.4 L58.7 718 L59.3 717.6 L59.9 717 L60.5 716.4 L61.1 715.8 L61.7 715.1 L62.3 714.3 L62.9 713.5 L63.5 712.6 L64.1 711.6 L64.8 710.6 L65.4 709.7 L66 708.9 L66.6 708.1 L67.2 707.4 L67.8 706.7 L68.4 706 L69 705.4 L69.6 704.8 L70.2 704.2 L70.8 703.7 L71.4 703.1 L72 702.6 L72.6 702.2 L73.2 701.8 L73.9 701.5 L74.5 701.1 L75.1 700.9 L75.7 700.8 L76.3 701 L76.9 701.5 L77.5 702.2 L78.1 702.9 L78.7 703.7 L79.3 704.5 L79.9 705.5 L80.5 706.5 L81.1 707.5 L81.7 708.5 L82.4 709.5 L83 710.5 L83.6 711.5 L84.2 712.4 L84.8 713.2 L85.4 714.1 L86 714.8 L86.6 715.5 L87.2 716.1 L87.8 716.6 L88.4 717 L89 717.4 L89.6 717.7 L90.2 718 L90.9 718.3 L91.5 718.6 L92.1 718.9 L92.7 719.2 L93.3 719.5 L93.9 719.8 L94.5 720.2 L95.1 720.6 L95.7 721.1 L96.3 721.5 L96.9 721.9 L97.5 722.3 L98.1 722.6 L98.7 723 L99.4 723.3 L100 723.6 L100.6 723.8 L101.2 723.9 L101.8 724 L102.4 724.1 L103 724.2 L103.6 724.2 L108.3 724.2" fill="none" stroke="#111" stroke-width="0.95" stroke-linejoin="round"/>
<path d="M42.9 747.4 L42.9 747.4 L43.5 747.3 L44.1 747.1 L44.7 746.8 L45.3 746.3 L45.9 745.9 L46.5 745.2 L47.1 744.3 L47.8 743.1 L48.4 742 L49 740.5 L49.6 738.8 L50.2 737.2 L50.8 735.9 L51.4 734.5 L52 733.5 L52.6 733 L53.2 732.6 L53.8 732.4 L54.4 732.7 L55 733.7 L55.6 735.1 L56.3 736.3 L56.9 737.2 L57.5 738.1 L58.1 739 L58.7 739.8 L59.3 740.3 L59.9 740.5 L60.5 740.1 L61.1 739 L61.7 737.6 L62.3 736.2 L62.9 734.5 L63.5 732.4 L64.1 730.4 L64.8 728.7 L65.4 727.1 L66 725.8 L66.6 725.2 L67.2 724.8 L67.8 724.5 L68.4 724.6 L69 725 L69.6 725.5 L70.2 725.8 L70.8 726 L71.4 726 L72 726.1 L72.6 726.1 L73.2 726.2 L73.9 726.3 L74.5 726.4 L75.1 726.5 L75.7 726.7 L76.3 726.9 L76.9 727.6 L77.5 728.7 L78.1 729.9 L78.7 730.9 L79.3 731.8 L79.9 732.7 L80.5 733.5 L81.1 734.3 L81.7 735 L82.4 735.6 L83 736.2 L83.6 736.8 L84.2 737.4 L84.8 738 L85.4 738.6 L86 739.2 L86.6 739.7 L87.2 740.3 L87.8 740.8 L88.4 741.3 L89 741.9 L89.6 742.4 L90.2 742.8 L90.9 743.2 L91.5 743.5 L92.1 743.7 L92.7 743.9 L93.3 744 L93.9 744.2 L94.5 744.4 L95.1 744.7 L95.7 745 L96.3 745.3 L96.9 745.7 L97.5 746 L98.1 746.3 L98.7 746.7 L99.4 747 L100 747.2 L100.6 747.2 L101.2 747.3 L101.8 747.3 L102.4 747.4 L103 747.4 L103.6 747.4 L103.6 747.4Z" fill="#68BD7D" stroke="none"/>
<path d="M42.9 747.4 L43.5 747.3 L44.1 747.1 L44.7 746.8 L45.3 746.3 L45.9 745.9 L46.5 745.2 L47.1 744.3 L47.8 743.1 L48.4 742 L49 740.5 L49.6 738.8 L50.2 737.2 L50.8 735.9 L51.4 734.5 L52 733.5 L52.6 733 L53.2 732.6 L53.8 732.4 L54.4 732.7 L55 733.7 L55.6 735.1 L56.3 736.3 L56.9 737.2 L57.5 738.1 L58.1 739 L58.7 739.8 L59.3 740.3 L59.9 740.5 L60.5 740.1 L61.1 739 L61.7 737.6 L62.3 736.2 L62.9 734.5 L63.5 732.4 L64.1 730.4 L64.8 728.7 L65.4 727.1 L66 725.8 L66.6 725.2 L67.2 724.8 L67.8 724.5 L68.4 724.6 L69 725 L69.6 725.5 L70.2 725.8 L70.8 726 L71.4 726 L72 726.1 L72.6 726.1 L73.2 726.2 L73.9 726.3 L74.5 726.4 L75.1 726.5 L75.7 726.7 L76.3 726.9 L76.9 727.6 L77.5 728.7 L78.1 729.9 L78.7 730.9 L79.3 731.8 L79.9 732.7 L80.5 733.5 L81.1 734.3 L81.7 735 L82.4 735.6 L83 736.2 L83.6 736.8 L84.2 737.4 L84.8 738 L85.4 738.6 L86 739.2 L86.6 739.7 L87.2 740.3 L87.8 740.8 L88.4 741.3 L89 741.9 L89.6 742.4 L90.2 742.8 L90.9 743.2 L91.5 743.5 L92.1 743.7 L92.7 743.9 L93.3 744 L93.9 744.2 L94.5 744.4 L95.1 744.7 L95.7 745 L96.3 745.3 L96.9 745.7 L97.5 746 L98.1 746.3 L98.7 746.7 L99.4 747 L100 747.2 L100.6 747.2 L101.2 747.3 L101.8 747.3 L102.4 747.4 L103 747.4 L103.6 747.4 L108.3 747.4" fill="none" stroke="#111" stroke-width="0.95" stroke-linejoin="round"/>
<path d="M42.9 771.1 L42.9 771.1 L43.5 771 L44.1 770.8 L44.7 770.5 L45.3 770.1 L45.9 769.6 L46.5 768.8 L47.1 767.7 L47.8 766.5 L48.4 765.3 L49 763.8 L49.6 762.1 L50.2 760.5 L50.8 759.1 L51.4 757.7 L52 756.6 L52.6 756.1 L53.2 755.7 L53.8 755.5 L54.4 755.8 L55 756.9 L55.6 758.3 L56.3 759.6 L56.9 760.4 L57.5 761.3 L58.1 762.1 L58.7 762.8 L59.3 763.3 L59.9 763.5 L60.5 763.1 L61.1 762.1 L61.7 760.9 L62.3 759.5 L62.9 757.8 L63.5 755.8 L64.1 753.8 L64.8 752.1 L65.4 750.5 L66 749.1 L66.6 748.5 L67.2 748 L67.8 747.8 L68.4 748 L69 748.6 L69.6 749.2 L70.2 749.6 L70.8 749.9 L71.4 750.3 L72 750.5 L72.6 750.7 L73.2 750.8 L73.9 750.8 L74.5 750.8 L75.1 750.9 L75.7 750.9 L76.3 751 L76.9 751.3 L77.5 751.8 L78.1 752.4 L78.7 753 L79.3 753.7 L79.9 754.2 L80.5 754.7 L81.1 755.2 L81.7 755.7 L82.4 756.2 L83 756.7 L83.6 757.2 L84.2 757.8 L84.8 758.4 L85.4 759 L86 759.7 L86.6 760.3 L87.2 761 L87.8 761.7 L88.4 762.4 L89 763.2 L89.6 763.9 L90.2 764.5 L90.9 765.2 L91.5 765.9 L92.1 766.5 L92.7 767.1 L93.3 767.7 L93.9 768.1 L94.5 768.6 L95.1 769 L95.7 769.4 L96.3 769.7 L96.9 770 L97.5 770.2 L98.1 770.4 L98.7 770.5 L99.4 770.7 L100 770.8 L100.6 770.9 L101.2 770.9 L101.8 771 L102.4 771.1 L103 771.1 L103.6 771.1 L103.6 771.1Z" fill="#A2A326" stroke="none"/>
<path d="M42.9 771.1 L43.5 771 L44.1 770.8 L44.7 770.5 L45.3 770.1 L45.9 769.6 L46.5 768.8 L47.1 767.7 L47.8 766.5 L48.4 765.3 L49 763.8 L49.6 762.1 L50.2 760.5 L50.8 759.1 L51.4 757.7 L52 756.6 L52.6 756.1 L53.2 755.7 L53.8 755.5 L54.4 755.8 L55 756.9 L55.6 758.3 L56.3 759.6 L56.9 760.4 L57.5 761.3 L58.1 762.1 L58.7 762.8 L59.3 763.3 L59.9 763.5 L60.5 763.1 L61.1 762.1 L61.7 760.9 L62.3 759.5 L62.9 757.8 L63.5 755.8 L64.1 753.8 L64.8 752.1 L65.4 750.5 L66 749.1 L66.6 748.5 L67.2 748 L67.8 747.8 L68.4 748 L69 748.6 L69.6 749.2 L70.2 749.6 L70.8 749.9 L71.4 750.3 L72 750.5 L72.6 750.7 L73.2 750.8 L73.9 750.8 L74.5 750.8 L75.1 750.9 L75.7 750.9 L76.3 751 L76.9 751.3 L77.5 751.8 L78.1 752.4 L78.7 753 L79.3 753.7 L79.9 754.2 L80.5 754.7 L81.1 755.2 L81.7 755.7 L82.4 756.2 L83 756.7 L83.6 757.2 L84.2 757.8 L84.8 758.4 L85.4 759 L86 759.7 L86.6 760.3 L87.2 761 L87.8 761.7 L88.4 762.4 L89 763.2 L89.6 763.9 L90.2 764.5 L90.9 765.2 L91.5 765.9 L92.1 766.5 L92.7 767.1 L93.3 767.7 L93.9 768.1 L94.5 768.6 L95.1 769 L95.7 769.4 L96.3 769.7 L96.9 770 L97.5 770.2 L98.1 770.4 L98.7 770.5 L99.4 770.7 L100 770.8 L100.6 770.9 L101.2 770.9 L101.8 771 L102.4 771.1 L103 771.1 L103.6 771.1 L108.3 771.1" fill="none" stroke="#111" stroke-width="0.95" stroke-linejoin="round"/>
<path d="M42.9 794.6 L42.9 794.6 L43.5 794.5 L44.1 794.3 L44.7 794 L45.3 793.6 L45.9 793.2 L46.5 792.6 L47.2 791.8 L47.8 790.8 L48.4 789.8 L49 788.6 L49.6 787.2 L50.2 785.9 L50.8 784.9 L51.4 784 L52 783.3 L52.6 782.9 L53.2 782.6 L53.8 782.5 L54.5 782.7 L55.1 783.3 L55.7 784 L56.3 784.7 L56.9 785.2 L57.5 785.7 L58.1 786.2 L58.7 786.5 L59.3 786.6 L59.9 786.3 L60.5 785.6 L61.1 784.8 L61.8 784 L62.4 783.2 L63 782.4 L63.6 781.6 L64.2 781 L64.8 780.5 L65.4 780.1 L66 779.7 L66.6 779.2 L67.2 778.7 L67.8 778.3 L68.4 777.8 L69.1 777.3 L69.7 776.7 L70.3 776 L70.9 774.9 L71.5 773.9 L72.1 773.1 L72.7 772.5 L73.3 771.9 L73.9 771.5 L74.5 771.4 L75.1 771.6 L75.8 772.1 L76.4 772.7 L77 773.3 L77.6 773.9 L78.2 774.6 L78.8 775.3 L79.4 776.1 L80 776.9 L80.6 777.6 L81.2 778.3 L81.8 779.1 L82.4 779.9 L83 780.6 L83.7 781.2 L84.3 781.7 L84.9 782.1 L85.5 782.4 L86.1 782.8 L86.7 783.2 L87.3 783.6 L87.9 784.1 L88.5 784.7 L89.1 785.4 L89.7 786 L90.3 786.7 L91 787.4 L91.6 788.1 L92.2 788.8 L92.8 789.6 L93.4 790.3 L94 790.9 L94.6 791.5 L95.2 792 L95.8 792.4 L96.4 792.9 L97 793.2 L97.6 793.5 L98.3 793.8 L98.9 794 L99.5 794.2 L100.1 794.4 L100.7 794.5 L101.3 794.6 L101.3 794.6Z" fill="#DC756B" stroke="none"/>
<path d="M42.9 794.6 L43.5 794.5 L44.1 794.3 L44.7 794 L45.3 793.6 L45.9 793.2 L46.5 792.6 L47.2 791.8 L47.8 790.8 L48.4 789.8 L49 788.6 L49.6 787.2 L50.2 785.9 L50.8 784.9 L51.4 784 L52 783.3 L52.6 782.9 L53.2 782.6 L53.8 782.5 L54.5 782.7 L55.1 783.3 L55.7 784 L56.3 784.7 L56.9 785.2 L57.5 785.7 L58.1 786.2 L58.7 786.5 L59.3 786.6 L59.9 786.3 L60.5 785.6 L61.1 784.8 L61.8 784 L62.4 783.2 L63 782.4 L63.6 781.6 L64.2 781 L64.8 780.5 L65.4 780.1 L66 779.7 L66.6 779.2 L67.2 778.7 L67.8 778.3 L68.4 777.8 L69.1 777.3 L69.7 776.7 L70.3 776 L70.9 774.9 L71.5 773.9 L72.1 773.1 L72.7 772.5 L73.3 771.9 L73.9 771.5 L74.5 771.4 L75.1 771.6 L75.8 772.1 L76.4 772.7 L77 773.3 L77.6 773.9 L78.2 774.6 L78.8 775.3 L79.4 776.1 L80 776.9 L80.6 777.6 L81.2 778.3 L81.8 779.1 L82.4 779.9 L83 780.6 L83.7 781.2 L84.3 781.7 L84.9 782.1 L85.5 782.4 L86.1 782.8 L86.7 783.2 L87.3 783.6 L87.9 784.1 L88.5 784.7 L89.1 785.4 L89.7 786 L90.3 786.7 L91 787.4 L91.6 788.1 L92.2 788.8 L92.8 789.6 L93.4 790.3 L94 790.9 L94.6 791.5 L95.2 792 L95.8 792.4 L96.4 792.9 L97 793.2 L97.6 793.5 L98.3 793.8 L98.9 794 L99.5 794.2 L100.1 794.4 L100.7 794.5 L101.3 794.6 L108.3 794.6" fill="none" stroke="#111" stroke-width="0.95" stroke-linejoin="round"/>
<path d="M198.9 700.4H355.8 M198.9 724.2H355.8 M198.9 747.4H355.8 M198.9 771.1H355.8 M198.9 794.6H355.8 M216.8 676.7V811 M249.8 676.7V811 M282.7 676.7V811 M315.7 676.7V811 M348.6 676.7V811" stroke="#ebebeb" stroke-width="1" fill="none"/>
<text x="216.8" y="821.1" font-size="9" text-anchor="middle" fill="#111" stroke="#111" stroke-width="0.15">0</text>
<text x="249.8" y="821.1" font-size="9" text-anchor="middle" fill="#111" stroke="#111" stroke-width="0.15">1</text>
<text x="282.7" y="821.1" font-size="9" text-anchor="middle" fill="#111" stroke="#111" stroke-width="0.15">2</text>
<text x="315.7" y="821.1" font-size="9" text-anchor="middle" fill="#111" stroke="#111" stroke-width="0.15">3</text>
<text x="348.6" y="821.1" font-size="9" text-anchor="middle" fill="#111" stroke="#111" stroke-width="0.15">4</text>
<path d="M207.8 700.4 L207.8 700.4 L208.4 700.3 L209 700 L209.6 699.6 L210.2 699.1 L210.9 698.5 L211.5 697.5 L212.1 695.8 L212.7 694 L213.3 692.3 L213.9 690.3 L214.5 688.6 L215.1 687.7 L215.7 686.9 L216.3 686.5 L217 686.5 L217.6 687.3 L218.2 688.3 L218.8 689.5 L219.4 691 L220 692.6 L220.6 693.9 L221.2 694.6 L221.8 695.3 L222.4 695.5 L223.1 694.6 L223.7 692.6 L224.3 690.2 L224.9 687.8 L225.5 685.1 L226.1 682.3 L226.7 680.7 L227.3 679.5 L227.9 678.5 L228.5 677.8 L229.2 677.6 L229.8 678.1 L230.4 679.3 L231 680.7 L231.6 681.9 L232.2 683.5 L232.8 685 L233.4 685.9 L234 686.6 L234.6 687.2 L235.2 687.5 L235.9 687.6 L236.5 687.7 L237.1 687.8 L237.7 687.9 L238.3 688.3 L238.9 689 L239.5 689.6 L240.1 690.2 L240.7 690.6 L241.3 690.9 L242 691.1 L242.6 691.3 L243.2 691.5 L243.8 691.7 L244.4 691.9 L245 692.1 L245.6 692.3 L246.2 692.5 L246.8 692.8 L247.4 693.2 L248.1 693.6 L248.7 694 L249.3 694.5 L249.9 695 L250.5 695.5 L251.1 696 L251.7 696.5 L252.3 697 L252.9 697.4 L253.6 697.8 L254.2 698.1 L254.8 698.5 L255.4 698.8 L256 699 L256.6 699.3 L257.2 699.5 L257.8 699.7 L258.4 699.8 L259 700 L259.6 700.1 L260.3 700.2 L260.9 700.3 L261.5 700.3 L262.1 700.4 L262.7 700.4 L262.7 700.4Z" fill="#CB6DF0" stroke="none"/>
<path d="M207.8 700.4 L208.4 700.3 L209 700 L209.6 699.6 L210.2 699.1 L210.9 698.5 L211.5 697.5 L212.1 695.8 L212.7 694 L213.3 692.3 L213.9 690.3 L214.5 688.6 L215.1 687.7 L215.7 686.9 L216.3 686.5 L217 686.5 L217.6 687.3 L218.2 688.3 L218.8 689.5 L219.4 691 L220 692.6 L220.6 693.9 L221.2 694.6 L221.8 695.3 L222.4 695.5 L223.1 694.6 L223.7 692.6 L224.3 690.2 L224.9 687.8 L225.5 685.1 L226.1 682.3 L226.7 680.7 L227.3 679.5 L227.9 678.5 L228.5 677.8 L229.2 677.6 L229.8 678.1 L230.4 679.3 L231 680.7 L231.6 681.9 L232.2 683.5 L232.8 685 L233.4 685.9 L234 686.6 L234.6 687.2 L235.2 687.5 L235.9 687.6 L236.5 687.7 L237.1 687.8 L237.7 687.9 L238.3 688.3 L238.9 689 L239.5 689.6 L240.1 690.2 L240.7 690.6 L241.3 690.9 L242 691.1 L242.6 691.3 L243.2 691.5 L243.8 691.7 L244.4 691.9 L245 692.1 L245.6 692.3 L246.2 692.5 L246.8 692.8 L247.4 693.2 L248.1 693.6 L248.7 694 L249.3 694.5 L249.9 695 L250.5 695.5 L251.1 696 L251.7 696.5 L252.3 697 L252.9 697.4 L253.6 697.8 L254.2 698.1 L254.8 698.5 L255.4 698.8 L256 699 L256.6 699.3 L257.2 699.5 L257.8 699.7 L258.4 699.8 L259 700 L259.6 700.1 L260.3 700.2 L260.9 700.3 L261.5 700.3 L262.1 700.4 L262.7 700.4 L276.7 700.4" fill="none" stroke="#111" stroke-width="0.95" stroke-linejoin="round"/>
<path d="M207.8 724.2 L207.8 724.2 L208.4 724.1 L209 724 L209.7 723.8 L210.3 723.5 L210.9 723.3 L211.5 722.9 L212.1 722.3 L212.7 721.7 L213.4 721.2 L214 720.7 L214.6 720.2 L215.2 719.8 L215.8 719.4 L216.4 719.2 L217.1 719.2 L217.7 719.3 L218.3 719.4 L218.9 719.6 L219.5 719.7 L220.1 719.8 L220.8 720 L221.4 720.2 L222 720.3 L222.6 720.3 L223.2 719.9 L223.8 719.3 L224.5 718.5 L225.1 717.5 L225.7 716 L226.3 714.1 L226.9 712.5 L227.5 711.4 L228.2 710.3 L228.8 709.3 L229.4 708.8 L230 708.7 L230.6 709 L231.2 709.5 L231.9 709.8 L232.5 710.2 L233.1 710.5 L233.7 710.6 L234.3 709.9 L234.9 708.8 L235.6 707.6 L236.2 706.3 L236.8 704.8 L237.4 703.2 L238 702.2 L238.6 701.5 L239.3 701 L239.9 700.8 L240.5 701.1 L241.1 702.2 L241.7 703.7 L242.3 705.3 L243 707.1 L243.6 709.3 L244.2 711.4 L244.8 713.3 L245.4 715.2 L246 716.9 L246.7 718.5 L247.3 719.7 L247.9 720.8 L248.5 721.8 L249.1 722.5 L249.7 723.1 L250.4 723.6 L251 724 L251.6 724.2 L251.6 724.2Z" fill="#63AFF2" stroke="none"/>
<path d="M207.8 724.2 L208.4 724.1 L209 724 L209.7 723.8 L210.3 723.5 L210.9 723.3 L211.5 722.9 L212.1 722.3 L212.7 721.7 L213.4 721.2 L214 720.7 L214.6 720.2 L215.2 719.8 L215.8 719.4 L216.4 719.2 L217.1 719.2 L217.7 719.3 L218.3 719.4 L218.9 719.6 L219.5 719.7 L220.1 719.8 L220.8 720 L221.4 720.2 L222 720.3 L222.6 720.3 L223.2 719.9 L223.8 719.3 L224.5 718.5 L225.1 717.5 L225.7 716 L226.3 714.1 L226.9 712.5 L227.5 711.4 L228.2 710.3 L228.8 709.3 L229.4 708.8 L230 708.7 L230.6 709 L231.2 709.5 L231.9 709.8 L232.5 710.2 L233.1 710.5 L233.7 710.6 L234.3 709.9 L234.9 708.8 L235.6 707.6 L236.2 706.3 L236.8 704.8 L237.4 703.2 L238 702.2 L238.6 701.5 L239.3 701 L239.9 700.8 L240.5 701.1 L241.1 702.2 L241.7 703.7 L242.3 705.3 L243 707.1 L243.6 709.3 L244.2 711.4 L244.8 713.3 L245.4 715.2 L246 716.9 L246.7 718.5 L247.3 719.7 L247.9 720.8 L248.5 721.8 L249.1 722.5 L249.7 723.1 L250.4 723.6 L251 724 L251.6 724.2 L276.7 724.2" fill="none" stroke="#111" stroke-width="0.95" stroke-linejoin="round"/>
<path d="M207.8 747.4 L207.8 747.4 L208.4 747.3 L209 746.9 L209.6 746.4 L210.2 745.8 L210.9 745.1 L211.5 744 L212.1 742.4 L212.7 740.6 L213.3 738.7 L213.9 736.3 L214.5 734.1 L215.1 732.9 L215.7 732 L216.4 731.4 L217 731.3 L217.6 732.5 L218.2 734.3 L218.8 735.7 L219.4 737 L220 738.2 L220.6 739.4 L221.2 740.2 L221.9 740.5 L222.5 739.8 L223.1 738.1 L223.7 735.8 L224.3 733.8 L224.9 731.5 L225.5 729.3 L226.1 727.8 L226.8 726.4 L227.4 725.3 L228 724.6 L228.6 724.6 L229.2 725.4 L229.8 726.7 L230.4 728 L231 729.1 L231.6 730.3 L232.3 731.3 L232.9 731.8 L233.5 731.8 L234.1 731.7 L234.7 731.6 L235.3 731.5 L235.9 731.5 L236.5 731.7 L237.1 732.1 L237.8 732.5 L238.4 733 L239 733.6 L239.6 734.3 L240.2 735 L240.8 735.7 L241.4 736.1 L242 736.5 L242.6 736.9 L243.3 737.2 L243.9 737.5 L244.5 737.8 L245.1 738.1 L245.7 738.3 L246.3 738.5 L246.9 738.8 L247.5 739.1 L248.2 739.4 L248.8 739.8 L249.4 740.1 L250 740.6 L250.6 741 L251.2 741.5 L251.8 742.1 L252.4 742.6 L253 743.1 L253.7 743.6 L254.3 744.1 L254.9 744.6 L255.5 745.1 L256.1 745.4 L256.7 745.8 L257.3 746.2 L257.9 746.4 L258.5 746.7 L259.2 746.9 L259.8 747.1 L260.4 747.2 L261 747.3 L261.6 747.4 L261.6 747.4Z" fill="#68BD7D" stroke="none"/>
<path d="M207.8 747.4 L208.4 747.3 L209 746.9 L209.6 746.4 L210.2 745.8 L210.9 745.1 L211.5 744 L212.1 742.4 L212.7 740.6 L213.3 738.7 L213.9 736.3 L214.5 734.1 L215.1 732.9 L215.7 732 L216.4 731.4 L217 731.3 L217.6 732.5 L218.2 734.3 L218.8 735.7 L219.4 737 L220 738.2 L220.6 739.4 L221.2 740.2 L221.9 740.5 L222.5 739.8 L223.1 738.1 L223.7 735.8 L224.3 733.8 L224.9 731.5 L225.5 729.3 L226.1 727.8 L226.8 726.4 L227.4 725.3 L228 724.6 L228.6 724.6 L229.2 725.4 L229.8 726.7 L230.4 728 L231 729.1 L231.6 730.3 L232.3 731.3 L232.9 731.8 L233.5 731.8 L234.1 731.7 L234.7 731.6 L235.3 731.5 L235.9 731.5 L236.5 731.7 L237.1 732.1 L237.8 732.5 L238.4 733 L239 733.6 L239.6 734.3 L240.2 735 L240.8 735.7 L241.4 736.1 L242 736.5 L242.6 736.9 L243.3 737.2 L243.9 737.5 L244.5 737.8 L245.1 738.1 L245.7 738.3 L246.3 738.5 L246.9 738.8 L247.5 739.1 L248.2 739.4 L248.8 739.8 L249.4 740.1 L250 740.6 L250.6 741 L251.2 741.5 L251.8 742.1 L252.4 742.6 L253 743.1 L253.7 743.6 L254.3 744.1 L254.9 744.6 L255.5 745.1 L256.1 745.4 L256.7 745.8 L257.3 746.2 L257.9 746.4 L258.5 746.7 L259.2 746.9 L259.8 747.1 L260.4 747.2 L261 747.3 L261.6 747.4 L276.7 747.4" fill="none" stroke="#111" stroke-width="0.95" stroke-linejoin="round"/>
<path d="M207.8 771.1 L207.8 771.1 L208.4 771 L209 770.7 L209.6 770.3 L210.2 769.7 L210.8 769.1 L211.4 767.8 L212.1 765.7 L212.7 763.5 L213.3 761.6 L213.9 759.6 L214.5 757.7 L215.1 756.3 L215.7 755.3 L216.3 754.4 L216.9 754.2 L217.5 755.1 L218.1 756.6 L218.7 758.3 L219.4 759.6 L220 761.3 L220.6 762.9 L221.2 764.2 L221.8 765 L222.4 764.9 L223 763.2 L223.6 760.7 L224.2 758.1 L224.8 756 L225.4 753.9 L226 752 L226.7 750.7 L227.3 749.8 L227.9 748.9 L228.5 748.3 L229.1 748.1 L229.7 748.4 L230.3 749.2 L230.9 750.1 L231.5 750.9 L232.1 751.9 L232.7 752.9 L233.3 753.4 L234 753.2 L234.6 752.5 L235.2 751.6 L235.8 751.1 L236.4 750.9 L237 750.7 L237.6 750.7 L238.2 751.2 L238.8 752.3 L239.4 753.6 L240 754.6 L240.6 755.3 L241.2 755.9 L241.9 756.5 L242.5 757.1 L243.1 757.7 L243.7 758.3 L244.3 758.9 L244.9 759.5 L245.5 760.1 L246.1 760.8 L246.7 761.5 L247.3 762.3 L247.9 763 L248.5 763.7 L249.2 764.4 L249.8 765 L250.4 765.7 L251 766.2 L251.6 766.8 L252.2 767.3 L252.8 767.9 L253.4 768.3 L254 768.8 L254.6 769.1 L255.2 769.4 L255.8 769.6 L256.5 769.9 L257.1 770.1 L257.7 770.2 L258.3 770.3 L258.9 770.4 L259.5 770.5 L260.1 770.6 L260.7 770.7 L261.3 770.8 L261.9 770.8 L262.5 770.9 L263.1 770.9 L263.8 771 L264.4 771 L265 771 L265.6 771.1 L266.2 771.1 L266.8 771.1 L267.4 771.1 L267.4 771.1Z" fill="#A2A326" stroke="none"/>
<path d="M207.8 771.1 L208.4 771 L209 770.7 L209.6 770.3 L210.2 769.7 L210.8 769.1 L211.4 767.8 L212.1 765.7 L212.7 763.5 L213.3 761.6 L213.9 759.6 L214.5 757.7 L215.1 756.3 L215.7 755.3 L216.3 754.4 L216.9 754.2 L217.5 755.1 L218.1 756.6 L218.7 758.3 L219.4 759.6 L220 761.3 L220.6 762.9 L221.2 764.2 L221.8 765 L222.4 764.9 L223 763.2 L223.6 760.7 L224.2 758.1 L224.8 756 L225.4 753.9 L226 752 L226.7 750.7 L227.3 749.8 L227.9 748.9 L228.5 748.3 L229.1 748.1 L229.7 748.4 L230.3 749.2 L230.9 750.1 L231.5 750.9 L232.1 751.9 L232.7 752.9 L233.3 753.4 L234 753.2 L234.6 752.5 L235.2 751.6 L235.8 751.1 L236.4 750.9 L237 750.7 L237.6 750.7 L238.2 751.2 L238.8 752.3 L239.4 753.6 L240 754.6 L240.6 755.3 L241.2 755.9 L241.9 756.5 L242.5 757.1 L243.1 757.7 L243.7 758.3 L244.3 758.9 L244.9 759.5 L245.5 760.1 L246.1 760.8 L246.7 761.5 L247.3 762.3 L247.9 763 L248.5 763.7 L249.2 764.4 L249.8 765 L250.4 765.7 L251 766.2 L251.6 766.8 L252.2 767.3 L252.8 767.9 L253.4 768.3 L254 768.8 L254.6 769.1 L255.2 769.4 L255.8 769.6 L256.5 769.9 L257.1 770.1 L257.7 770.2 L258.3 770.3 L258.9 770.4 L259.5 770.5 L260.1 770.6 L260.7 770.7 L261.3 770.8 L261.9 770.8 L262.5 770.9 L263.1 770.9 L263.8 771 L264.4 771 L265 771 L265.6 771.1 L266.2 771.1 L266.8 771.1 L267.4 771.1 L276.7 771.1" fill="none" stroke="#111" stroke-width="0.95" stroke-linejoin="round"/>
<path d="M207.8 794.6 L207.8 794.6 L208.4 794.4 L209 794.2 L209.6 793.8 L210.2 793.4 L210.8 793 L211.5 792.4 L212.1 791.6 L212.7 790.7 L213.3 789.9 L213.9 789.3 L214.5 788.8 L215.1 788.2 L215.7 787.8 L216.3 787.5 L216.9 787.6 L217.6 787.9 L218.2 788.4 L218.8 788.8 L219.4 789.2 L220 789.6 L220.6 789.8 L221.2 789.5 L221.8 788.7 L222.4 787.6 L223 786.5 L223.7 785.3 L224.3 784 L224.9 782.7 L225.5 781.8 L226.1 781.2 L226.7 780.7 L227.3 780.3 L227.9 780 L228.5 779.8 L229.1 779.6 L229.8 779.4 L230.4 779 L231 778.1 L231.6 776.9 L232.2 775.8 L232.8 774.9 L233.4 773.9 L234 772.9 L234.6 772 L235.2 771.5 L235.8 771.4 L236.5 771.8 L237.1 772.5 L237.7 773.2 L238.3 774.2 L238.9 775.4 L239.5 776.8 L240.1 778 L240.7 779.3 L241.3 780.6 L241.9 781.9 L242.6 783 L243.2 784 L243.8 784.9 L244.4 785.7 L245 786.5 L245.6 787.3 L246.2 788 L246.8 788.7 L247.4 789.4 L248 790.1 L248.7 790.7 L249.3 791.2 L249.9 791.8 L250.5 792.3 L251.1 792.8 L251.7 793 L252.3 793.2 L252.9 793.4 L253.5 793.5 L254.1 793.7 L254.7 793.7 L255.4 793.8 L256 793.8 L256.6 793.8 L257.2 793.8 L257.8 793.7 L258.4 793.7 L259 793.7 L259.6 793.7 L260.2 793.6 L260.8 793.6 L261.5 793.6 L262.1 793.6 L262.7 793.6 L263.3 793.6 L263.9 793.7 L264.5 793.7 L265.1 793.7 L265.7 793.8 L266.3 793.8 L266.9 793.9 L267.6 793.9 L268.2 794 L268.8 794 L269.4 794.1 L270 794.2 L270.6 794.3 L271.2 794.3 L271.8 794.4 L272.4 794.4 L273 794.5 L273.7 794.5 L274.3 794.5 L274.9 794.5 L275.5 794.6 L276.1 794.6 L276.7 794.6 L276.7 794.6Z" fill="#DC756B" stroke="none"/>
<path d="M207.8 794.6 L208.4 794.4 L209 794.2 L209.6 793.8 L210.2 793.4 L210.8 793 L211.5 792.4 L212.1 791.6 L212.7 790.7 L213.3 789.9 L213.9 789.3 L214.5 788.8 L215.1 788.2 L215.7 787.8 L216.3 787.5 L216.9 787.6 L217.6 787.9 L218.2 788.4 L218.8 788.8 L219.4 789.2 L220 789.6 L220.6 789.8 L221.2 789.5 L221.8 788.7 L222.4 787.6 L223 786.5 L223.7 785.3 L224.3 784 L224.9 782.7 L225.5 781.8 L226.1 781.2 L226.7 780.7 L227.3 780.3 L227.9 780 L228.5 779.8 L229.1 779.6 L229.8 779.4 L230.4 779 L231 778.1 L231.6 776.9 L232.2 775.8 L232.8 774.9 L233.4 773.9 L234 772.9 L234.6 772 L235.2 771.5 L235.8 771.4 L236.5 771.8 L237.1 772.5 L237.7 773.2 L238.3 774.2 L238.9 775.4 L239.5 776.8 L240.1 778 L240.7 779.3 L241.3 780.6 L241.9 781.9 L242.6 783 L243.2 784 L243.8 784.9 L244.4 785.7 L245 786.5 L245.6 787.3 L246.2 788 L246.8 788.7 L247.4 789.4 L248 790.1 L248.7 790.7 L249.3 791.2 L249.9 791.8 L250.5 792.3 L251.1 792.8 L251.7 793 L252.3 793.2 L252.9 793.4 L253.5 793.5 L254.1 793.7 L254.7 793.7 L255.4 793.8 L256 793.8 L256.6 793.8 L257.2 793.8 L257.8 793.7 L258.4 793.7 L259 793.7 L259.6 793.7 L260.2 793.6 L260.8 793.6 L261.5 793.6 L262.1 793.6 L262.7 793.6 L263.3 793.6 L263.9 793.7 L264.5 793.7 L265.1 793.7 L265.7 793.8 L266.3 793.8 L266.9 793.9 L267.6 793.9 L268.2 794 L268.8 794 L269.4 794.1 L270 794.2 L270.6 794.3 L271.2 794.3 L271.8 794.4 L272.4 794.4 L273 794.5 L273.7 794.5 L274.3 794.5 L274.9 794.5 L275.5 794.6 L276.1 794.6 L276.7 794.6" fill="none" stroke="#111" stroke-width="0.95" stroke-linejoin="round"/>
<path d="M361.6 700.4H518.7 M361.6 724.2H518.7 M361.6 747.4H518.7 M361.6 771.1H518.7 M361.6 794.6H518.7 M379.2 676.7V811 M412.3 676.7V811 M445.4 676.7V811 M478.5 676.7V811 M511.6 676.7V811" stroke="#ebebeb" stroke-width="1" fill="none"/>
<text x="379.2" y="821.1" font-size="9" text-anchor="middle" fill="#111" stroke="#111" stroke-width="0.15">0</text>
<text x="412.3" y="821.1" font-size="9" text-anchor="middle" fill="#111" stroke="#111" stroke-width="0.15">1</text>
<text x="445.4" y="821.1" font-size="9" text-anchor="middle" fill="#111" stroke="#111" stroke-width="0.15">2</text>
<text x="478.5" y="821.1" font-size="9" text-anchor="middle" fill="#111" stroke="#111" stroke-width="0.15">3</text>
<text x="511.6" y="821.1" font-size="9" text-anchor="middle" fill="#111" stroke="#111" stroke-width="0.15">4</text>
<path d="M371.2 700.4 L371.2 700.4 L371.8 700.3 L372.4 699.9 L373 699.4 L373.6 698.9 L374.3 698.2 L374.9 697.1 L375.5 695.8 L376.1 694.4 L376.7 693.1 L377.3 691.7 L377.9 690.6 L378.5 689.9 L379.1 689.3 L379.8 689.1 L380.4 689.5 L381 690.3 L381.6 691.1 L382.2 691.8 L382.8 692.4 L383.4 692.6 L384 691.7 L384.7 690.1 L385.3 688.7 L385.9 687.2 L386.5 685.8 L387.1 684.7 L387.7 683.7 L388.3 682.9 L388.9 682.6 L389.5 682.8 L390.2 683.4 L390.8 683.9 L391.4 684.4 L392 684.9 L392.6 685.3 L393.2 685.5 L393.8 685.2 L394.4 684.4 L395 683.5 L395.7 682.7 L396.3 681.8 L396.9 680.8 L397.5 679.9 L398.1 679.2 L398.7 678.6 L399.3 678.1 L399.9 677.7 L400.5 677.4 L401.2 677.5 L401.8 678 L402.4 678.8 L403 679.7 L403.6 680.8 L404.2 682.1 L404.8 683.6 L405.4 685.1 L406 686.4 L406.7 687.7 L407.3 689 L407.9 690 L408.5 690.9 L409.1 691.6 L409.7 692.3 L410.3 693 L410.9 693.7 L411.6 694.3 L412.2 694.9 L412.8 695.5 L413.4 696.1 L414 696.7 L414.6 697.3 L415.2 697.8 L415.8 698.3 L416.4 698.8 L417.1 699.2 L417.7 699.5 L418.3 699.9 L418.9 700.2 L419.5 700.4 L419.5 700.4Z" fill="#CB6DF0" stroke="none"/>
<path d="M371.2 700.4 L371.8 700.3 L372.4 699.9 L373 699.4 L373.6 698.9 L374.3 698.2 L374.9 697.1 L375.5 695.8 L376.1 694.4 L376.7 693.1 L377.3 691.7 L377.9 690.6 L378.5 689.9 L379.1 689.3 L379.8 689.1 L380.4 689.5 L381 690.3 L381.6 691.1 L382.2 691.8 L382.8 692.4 L383.4 692.6 L384 691.7 L384.7 690.1 L385.3 688.7 L385.9 687.2 L386.5 685.8 L387.1 684.7 L387.7 683.7 L388.3 682.9 L388.9 682.6 L389.5 682.8 L390.2 683.4 L390.8 683.9 L391.4 684.4 L392 684.9 L392.6 685.3 L393.2 685.5 L393.8 685.2 L394.4 684.4 L395 683.5 L395.7 682.7 L396.3 681.8 L396.9 680.8 L397.5 679.9 L398.1 679.2 L398.7 678.6 L399.3 678.1 L399.9 677.7 L400.5 677.4 L401.2 677.5 L401.8 678 L402.4 678.8 L403 679.7 L403.6 680.8 L404.2 682.1 L404.8 683.6 L405.4 685.1 L406 686.4 L406.7 687.7 L407.3 689 L407.9 690 L408.5 690.9 L409.1 691.6 L409.7 692.3 L410.3 693 L410.9 693.7 L411.6 694.3 L412.2 694.9 L412.8 695.5 L413.4 696.1 L414 696.7 L414.6 697.3 L415.2 697.8 L415.8 698.3 L416.4 698.8 L417.1 699.2 L417.7 699.5 L418.3 699.9 L418.9 700.2 L419.5 700.4 L434.7 700.4" fill="none" stroke="#111" stroke-width="0.95" stroke-linejoin="round"/>
<path d="M371.2 724.2 L371.2 724.2 L371.8 724.1 L372.4 723.9 L373 723.7 L373.6 723.4 L374.3 723.1 L374.9 722.6 L375.5 722 L376.1 721.4 L376.7 721 L377.3 720.6 L377.9 720.3 L378.5 720 L379.2 719.8 L379.8 719.7 L380.4 719.9 L381 720.4 L381.6 720.7 L382.2 721.1 L382.8 721.3 L383.4 721.5 L384 721.3 L384.7 720.7 L385.3 719.7 L385.9 718.7 L386.5 717 L387.1 715.1 L387.7 713.2 L388.3 711.6 L388.9 710 L389.6 708.5 L390.2 707.1 L390.8 706.1 L391.4 705.1 L392 704.2 L392.6 703.4 L393.2 702.8 L393.8 702.3 L394.4 701.8 L395.1 701.5 L395.7 701.2 L396.3 701.1 L396.9 700.9 L397.5 700.8 L398.1 700.8 L398.7 701 L399.3 701.4 L400 702 L400.6 702.7 L401.2 703.8 L401.8 705.3 L402.4 706.7 L403 708 L403.6 709.3 L404.2 710.7 L404.9 712 L405.5 713.2 L406.1 714.5 L406.7 715.7 L407.3 716.8 L407.9 717.9 L408.5 718.8 L409.1 719.5 L409.7 720.2 L410.4 720.8 L411 721.4 L411.6 721.9 L412.2 722.3 L412.8 722.7 L413.4 723 L414 723.3 L414.6 723.6 L415.3 723.8 L415.9 723.9 L416.5 724 L417.1 724.1 L417.7 724.2 L417.7 724.2Z" fill="#63AFF2" stroke="none"/>
<path d="M371.2 724.2 L371.8 724.1 L372.4 723.9 L373 723.7 L373.6 723.4 L374.3 723.1 L374.9 722.6 L375.5 722 L376.1 721.4 L376.7 721 L377.3 720.6 L377.9 720.3 L378.5 720 L379.2 719.8 L379.8 719.7 L380.4 719.9 L381 720.4 L381.6 720.7 L382.2 721.1 L382.8 721.3 L383.4 721.5 L384 721.3 L384.7 720.7 L385.3 719.7 L385.9 718.7 L386.5 717 L387.1 715.1 L387.7 713.2 L388.3 711.6 L388.9 710 L389.6 708.5 L390.2 707.1 L390.8 706.1 L391.4 705.1 L392 704.2 L392.6 703.4 L393.2 702.8 L393.8 702.3 L394.4 701.8 L395.1 701.5 L395.7 701.2 L396.3 701.1 L396.9 700.9 L397.5 700.8 L398.1 700.8 L398.7 701 L399.3 701.4 L400 702 L400.6 702.7 L401.2 703.8 L401.8 705.3 L402.4 706.7 L403 708 L403.6 709.3 L404.2 710.7 L404.9 712 L405.5 713.2 L406.1 714.5 L406.7 715.7 L407.3 716.8 L407.9 717.9 L408.5 718.8 L409.1 719.5 L409.7 720.2 L410.4 720.8 L411 721.4 L411.6 721.9 L412.2 722.3 L412.8 722.7 L413.4 723 L414 723.3 L414.6 723.6 L415.3 723.8 L415.9 723.9 L416.5 724 L417.1 724.1 L417.7 724.2 L434.7 724.2" fill="none" stroke="#111" stroke-width="0.95" stroke-linejoin="round"/>
<path d="M371.2 747.4 L371.2 747.4 L371.8 747.3 L372.4 747 L373 746.7 L373.6 746.2 L374.3 745.6 L374.9 744.6 L375.5 743.4 L376.1 742.1 L376.7 740.8 L377.3 739.4 L377.9 738.3 L378.5 737.7 L379.1 737.2 L379.8 737 L380.4 737.2 L381 737.8 L381.6 738.3 L382.2 738.8 L382.8 739.3 L383.4 739.4 L384 738.4 L384.7 736.8 L385.3 735.2 L385.9 733.4 L386.5 731.5 L387.1 729.8 L387.7 728 L388.3 726.7 L388.9 726.2 L389.5 725.9 L390.2 725.7 L390.8 725.8 L391.4 726 L392 726.2 L392.6 726.1 L393.2 725.8 L393.8 725.5 L394.4 725.3 L395 725 L395.7 724.7 L396.3 724.5 L396.9 724.6 L397.5 725 L398.1 725.5 L398.7 726.1 L399.3 727 L399.9 728.1 L400.5 729.1 L401.2 729.8 L401.8 730.5 L402.4 731.1 L403 731.7 L403.6 732.2 L404.2 732.6 L404.8 733 L405.4 733.4 L406 734 L406.7 734.6 L407.3 735.3 L407.9 736 L408.5 736.7 L409.1 737.5 L409.7 738.3 L410.3 739.1 L410.9 740 L411.6 740.9 L412.2 741.8 L412.8 742.7 L413.4 743.5 L414 744.3 L414.6 745 L415.2 745.6 L415.8 746.2 L416.4 746.7 L417.1 747 L417.7 747.1 L418.3 747.3 L418.9 747.4 L419.5 747.4 L419.5 747.4Z" fill="#68BD7D" stroke="none"/>
<path d="M371.2 747.4 L371.8 747.3 L372.4 747 L373 746.7 L373.6 746.2 L374.3 745.6 L374.9 744.6 L375.5 743.4 L376.1 742.1 L376.7 740.8 L377.3 739.4 L377.9 738.3 L378.5 737.7 L379.1 737.2 L379.8 737 L380.4 737.2 L381 737.8 L381.6 738.3 L382.2 738.8 L382.8 739.3 L383.4 739.4 L384 738.4 L384.7 736.8 L385.3 735.2 L385.9 733.4 L386.5 731.5 L387.1 729.8 L387.7 728 L388.3 726.7 L388.9 726.2 L389.5 725.9 L390.2 725.7 L390.8 725.8 L391.4 726 L392 726.2 L392.6 726.1 L393.2 725.8 L393.8 725.5 L394.4 725.3 L395 725 L395.7 724.7 L396.3 724.5 L396.9 724.6 L397.5 725 L398.1 725.5 L398.7 726.1 L399.3 727 L399.9 728.1 L400.5 729.1 L401.2 729.8 L401.8 730.5 L402.4 731.1 L403 731.7 L403.6 732.2 L404.2 732.6 L404.8 733 L405.4 733.4 L406 734 L406.7 734.6 L407.3 735.3 L407.9 736 L408.5 736.7 L409.1 737.5 L409.7 738.3 L410.3 739.1 L410.9 740 L411.6 740.9 L412.2 741.8 L412.8 742.7 L413.4 743.5 L414 744.3 L414.6 745 L415.2 745.6 L415.8 746.2 L416.4 746.7 L417.1 747 L417.7 747.1 L418.3 747.3 L418.9 747.4 L419.5 747.4 L434.7 747.4" fill="none" stroke="#111" stroke-width="0.95" stroke-linejoin="round"/>
<path d="M371.2 771.1 L371.2 771.1 L371.8 771 L372.4 770.8 L373 770.4 L373.6 769.9 L374.2 769.3 L374.8 768.3 L375.5 767 L376.1 765.6 L376.7 764.2 L377.3 762.5 L377.9 761.2 L378.5 760.3 L379.1 759.7 L379.7 759.7 L380.3 760.3 L380.9 761.1 L381.5 761.9 L382.1 762.6 L382.8 763.3 L383.4 763.5 L384 762.5 L384.6 760.5 L385.2 758.7 L385.8 756.8 L386.4 755 L387 753.6 L387.6 752.4 L388.2 751.6 L388.8 751.2 L389.4 751 L390 750.8 L390.7 750.7 L391.3 750.7 L391.9 750.9 L392.5 751 L393.1 750.8 L393.7 750.2 L394.3 749.6 L394.9 749 L395.5 748.5 L396.1 748.1 L396.7 747.9 L397.3 748.4 L397.9 749.5 L398.6 750.8 L399.2 751.9 L399.8 753 L400.4 754.1 L401 755.2 L401.6 756.2 L402.2 757.2 L402.8 758.2 L403.4 759.1 L404 759.9 L404.6 760.7 L405.2 761.4 L405.9 762.1 L406.5 762.7 L407.1 763.2 L407.7 763.8 L408.3 764.3 L408.9 764.8 L409.5 765.3 L410.1 765.7 L410.7 766.2 L411.3 766.7 L411.9 767.3 L412.5 767.8 L413.1 768.3 L413.8 768.7 L414.4 769.1 L415 769.4 L415.6 769.7 L416.2 770 L416.8 770.2 L417.4 770.3 L418 770.5 L418.6 770.7 L419.2 770.8 L419.8 770.9 L420.4 770.9 L421.1 771 L421.7 771 L422.3 771 L422.9 771.1 L423.5 771.1 L424.1 771.1 L424.7 771.1 L424.7 771.1Z" fill="#A2A326" stroke="none"/>
<path d="M371.2 771.1 L371.8 771 L372.4 770.8 L373 770.4 L373.6 769.9 L374.2 769.3 L374.8 768.3 L375.5 767 L376.1 765.6 L376.7 764.2 L377.3 762.5 L377.9 761.2 L378.5 760.3 L379.1 759.7 L379.7 759.7 L380.3 760.3 L380.9 761.1 L381.5 761.9 L382.1 762.6 L382.8 763.3 L383.4 763.5 L384 762.5 L384.6 760.5 L385.2 758.7 L385.8 756.8 L386.4 755 L387 753.6 L387.6 752.4 L388.2 751.6 L388.8 751.2 L389.4 751 L390 750.8 L390.7 750.7 L391.3 750.7 L391.9 750.9 L392.5 751 L393.1 750.8 L393.7 750.2 L394.3 749.6 L394.9 749 L395.5 748.5 L396.1 748.1 L396.7 747.9 L397.3 748.4 L397.9 749.5 L398.6 750.8 L399.2 751.9 L399.8 753 L400.4 754.1 L401 755.2 L401.6 756.2 L402.2 757.2 L402.8 758.2 L403.4 759.1 L404 759.9 L404.6 760.7 L405.2 761.4 L405.9 762.1 L406.5 762.7 L407.1 763.2 L407.7 763.8 L408.3 764.3 L408.9 764.8 L409.5 765.3 L410.1 765.7 L410.7 766.2 L411.3 766.7 L411.9 767.3 L412.5 767.8 L413.1 768.3 L413.8 768.7 L414.4 769.1 L415 769.4 L415.6 769.7 L416.2 770 L416.8 770.2 L417.4 770.3 L418 770.5 L418.6 770.7 L419.2 770.8 L419.8 770.9 L420.4 770.9 L421.1 771 L421.7 771 L422.3 771 L422.9 771.1 L423.5 771.1 L424.1 771.1 L424.7 771.1 L434.7 771.1" fill="none" stroke="#111" stroke-width="0.95" stroke-linejoin="round"/>
<path d="M371.2 794.6 L371.2 794.6 L371.8 794.4 L372.4 794.2 L373 793.9 L373.6 793.5 L374.3 793 L374.9 792.4 L375.5 791.7 L376.1 790.9 L376.7 790.2 L377.3 789.4 L377.9 788.6 L378.5 787.9 L379.2 787.5 L379.8 787.5 L380.4 787.8 L381 788.1 L381.6 788.3 L382.2 788.7 L382.8 789 L383.4 789.1 L384 788.7 L384.7 788 L385.3 787.1 L385.9 786.1 L386.5 784.6 L387.1 782.9 L387.7 781.2 L388.3 779.6 L388.9 778 L389.6 776.4 L390.2 775.1 L390.8 774.1 L391.4 773.1 L392 772.2 L392.6 771.6 L393.2 771.4 L393.8 771.6 L394.4 772.1 L395.1 772.7 L395.7 773.2 L396.3 773.7 L396.9 774.1 L397.5 774.5 L398.1 774.8 L398.7 775 L399.3 775.1 L399.9 775.2 L400.6 775.4 L401.2 775.7 L401.8 776.3 L402.4 777 L403 777.7 L403.6 778.5 L404.2 779.3 L404.8 780.3 L405.5 781.2 L406.1 782.3 L406.7 783.4 L407.3 784.5 L407.9 785.6 L408.5 786.6 L409.1 787.5 L409.7 788.5 L410.3 789.3 L411 790.1 L411.6 791 L412.2 791.7 L412.8 792.3 L413.4 792.8 L414 793.3 L414.6 793.6 L415.2 793.9 L415.9 794.2 L416.5 794.3 L417.1 794.5 L417.7 794.6 L418.3 794.6 L418.3 794.6Z" fill="#DC756B" stroke="none"/>
<path d="M371.2 794.6 L371.8 794.4 L372.4 794.2 L373 793.9 L373.6 793.5 L374.3 793 L374.9 792.4 L375.5 791.7 L376.1 790.9 L376.7 790.2 L377.3 789.4 L377.9 788.6 L378.5 787.9 L379.2 787.5 L379.8 787.5 L380.4 787.8 L381 788.1 L381.6 788.3 L382.2 788.7 L382.8 789 L383.4 789.1 L384 788.7 L384.7 788 L385.3 787.1 L385.9 786.1 L386.5 784.6 L387.1 782.9 L387.7 781.2 L388.3 779.6 L388.9 778 L389.6 776.4 L390.2 775.1 L390.8 774.1 L391.4 773.1 L392 772.2 L392.6 771.6 L393.2 771.4 L393.8 771.6 L394.4 772.1 L395.1 772.7 L395.7 773.2 L396.3 773.7 L396.9 774.1 L397.5 774.5 L398.1 774.8 L398.7 775 L399.3 775.1 L399.9 775.2 L400.6 775.4 L401.2 775.7 L401.8 776.3 L402.4 777 L403 777.7 L403.6 778.5 L404.2 779.3 L404.8 780.3 L405.5 781.2 L406.1 782.3 L406.7 783.4 L407.3 784.5 L407.9 785.6 L408.5 786.6 L409.1 787.5 L409.7 788.5 L410.3 789.3 L411 790.1 L411.6 791 L412.2 791.7 L412.8 792.3 L413.4 792.8 L414 793.3 L414.6 793.6 L415.2 793.9 L415.9 794.2 L416.5 794.3 L417.1 794.5 L417.7 794.6 L418.3 794.6 L434.7 794.6" fill="none" stroke="#111" stroke-width="0.95" stroke-linejoin="round"/>
<path d="M524.2 700.4H681.8 M524.2 724.2H681.8 M524.2 747.4H681.8 M524.2 771.1H681.8 M524.2 794.6H681.8 M542.6 676.7V811 M575.6 676.7V811 M608.6 676.7V811 M641.6 676.7V811 M674.6 676.7V811" stroke="#ebebeb" stroke-width="1" fill="none"/>
<text x="542.6" y="821.1" font-size="9" text-anchor="middle" fill="#111" stroke="#111" stroke-width="0.15">0</text>
<text x="575.6" y="821.1" font-size="9" text-anchor="middle" fill="#111" stroke="#111" stroke-width="0.15">1</text>
<text x="608.6" y="821.1" font-size="9" text-anchor="middle" fill="#111" stroke="#111" stroke-width="0.15">2</text>
<text x="641.6" y="821.1" font-size="9" text-anchor="middle" fill="#111" stroke="#111" stroke-width="0.15">3</text>
<text x="674.6" y="821.1" font-size="9" text-anchor="middle" fill="#111" stroke="#111" stroke-width="0.15">4</text>
<path d="M535.2 700.4 L535.2 700.4 L535.8 700.3 L536.4 700 L537 699.6 L537.7 699 L538.3 697.9 L538.9 696.2 L539.5 694.5 L540.1 692.4 L540.7 690.6 L541.3 689.5 L542 688.5 L542.6 688.4 L543.2 689.2 L543.8 690.4 L544.4 691.2 L545 692 L545.6 692.2 L546.3 691.1 L546.9 689.4 L547.5 686.8 L548.1 683.5 L548.7 681.2 L549.3 679.4 L549.9 678.3 L550.6 677.7 L551.2 677.4 L551.8 678 L552.4 679.4 L553 680.4 L553.6 681.4 L554.2 682 L554.9 681.7 L555.5 680.8 L556.1 679.8 L556.7 679.1 L557.3 678.4 L557.9 677.9 L558.5 677.8 L559.2 677.7 L559.8 677.6 L560.4 677.6 L561 677.6 L561.6 677.7 L562.2 677.8 L562.8 678.1 L563.5 678.3 L564.1 678.8 L564.7 679.5 L565.3 680.3 L565.9 681.1 L566.5 682 L567.1 683.1 L567.8 684.1 L568.4 685 L569 685.8 L569.6 686.4 L570.2 686.9 L570.8 687.5 L571.4 688.1 L572.1 688.8 L572.7 689.6 L573.3 690.3 L573.9 691.1 L574.5 691.9 L575.1 692.7 L575.7 693.6 L576.4 694.5 L577 695.4 L577.6 696.2 L578.2 697.1 L578.8 697.9 L579.4 698.6 L580 699.2 L580.7 699.6 L581.3 699.9 L581.9 700.2 L582.5 700.4 L582.5 700.4Z" fill="#CB6DF0" stroke="none"/>
<path d="M535.2 700.4 L535.8 700.3 L536.4 700 L537 699.6 L537.7 699 L538.3 697.9 L538.9 696.2 L539.5 694.5 L540.1 692.4 L540.7 690.6 L541.3 689.5 L542 688.5 L542.6 688.4 L543.2 689.2 L543.8 690.4 L544.4 691.2 L545 692 L545.6 692.2 L546.3 691.1 L546.9 689.4 L547.5 686.8 L548.1 683.5 L548.7 681.2 L549.3 679.4 L549.9 678.3 L550.6 677.7 L551.2 677.4 L551.8 678 L552.4 679.4 L553 680.4 L553.6 681.4 L554.2 682 L554.9 681.7 L555.5 680.8 L556.1 679.8 L556.7 679.1 L557.3 678.4 L557.9 677.9 L558.5 677.8 L559.2 677.7 L559.8 677.6 L560.4 677.6 L561 677.6 L561.6 677.7 L562.2 677.8 L562.8 678.1 L563.5 678.3 L564.1 678.8 L564.7 679.5 L565.3 680.3 L565.9 681.1 L566.5 682 L567.1 683.1 L567.8 684.1 L568.4 685 L569 685.8 L569.6 686.4 L570.2 686.9 L570.8 687.5 L571.4 688.1 L572.1 688.8 L572.7 689.6 L573.3 690.3 L573.9 691.1 L574.5 691.9 L575.1 692.7 L575.7 693.6 L576.4 694.5 L577 695.4 L577.6 696.2 L578.2 697.1 L578.8 697.9 L579.4 698.6 L580 699.2 L580.7 699.6 L581.3 699.9 L581.9 700.2 L582.5 700.4 L657.9 700.4" fill="none" stroke="#111" stroke-width="0.95" stroke-linejoin="round"/>
<path d="M535.2 724.2 L535.2 724.2 L535.8 724 L536.4 723.9 L537 723.7 L537.6 723.5 L538.3 723.2 L538.9 723 L539.5 722.7 L540.1 722.5 L540.7 722.2 L541.3 722 L541.9 721.8 L542.5 721.7 L543.1 721.5 L543.8 721.3 L544.4 721.1 L545 720.9 L545.6 720.7 L546.2 720.4 L546.8 719.8 L547.4 718.9 L548 717.8 L548.6 716.7 L549.3 715.5 L549.9 714 L550.5 712.5 L551.1 710.6 L551.7 708.7 L552.3 706.9 L552.9 705 L553.5 703.4 L554.2 702.5 L554.8 701.7 L555.4 701.1 L556 700.8 L556.6 700.9 L557.2 701.2 L557.8 701.8 L558.4 702.3 L559 703.1 L559.7 703.9 L560.3 704.6 L560.9 705.1 L561.5 705.4 L562.1 705.5 L562.7 705.2 L563.3 704.9 L563.9 704.8 L564.5 705.3 L565.2 706.3 L565.8 707.5 L566.4 709.3 L567 711.6 L567.6 713.8 L568.2 716.5 L568.8 718.7 L569.4 720.1 L570 721.1 L570.7 721.9 L571.3 722.6 L571.9 723.3 L572.5 723.8 L573.1 724.2 L573.1 724.2Z" fill="#63AFF2" stroke="none"/>
<path d="M535.2 724.2 L535.8 724 L536.4 723.9 L537 723.7 L537.6 723.5 L538.3 723.2 L538.9 723 L539.5 722.7 L540.1 722.5 L540.7 722.2 L541.3 722 L541.9 721.8 L542.5 721.7 L543.1 721.5 L543.8 721.3 L544.4 721.1 L545 720.9 L545.6 720.7 L546.2 720.4 L546.8 719.8 L547.4 718.9 L548 717.8 L548.6 716.7 L549.3 715.5 L549.9 714 L550.5 712.5 L551.1 710.6 L551.7 708.7 L552.3 706.9 L552.9 705 L553.5 703.4 L554.2 702.5 L554.8 701.7 L555.4 701.1 L556 700.8 L556.6 700.9 L557.2 701.2 L557.8 701.8 L558.4 702.3 L559 703.1 L559.7 703.9 L560.3 704.6 L560.9 705.1 L561.5 705.4 L562.1 705.5 L562.7 705.2 L563.3 704.9 L563.9 704.8 L564.5 705.3 L565.2 706.3 L565.8 707.5 L566.4 709.3 L567 711.6 L567.6 713.8 L568.2 716.5 L568.8 718.7 L569.4 720.1 L570 721.1 L570.7 721.9 L571.3 722.6 L571.9 723.3 L572.5 723.8 L573.1 724.2 L657.9 724.2" fill="none" stroke="#111" stroke-width="0.95" stroke-linejoin="round"/>
<path d="M535.2 747.4 L535.2 747.4 L535.8 747.3 L536.4 747.2 L537 746.9 L537.7 746.6 L538.3 746.3 L538.9 745.7 L539.5 745 L540.1 744.3 L540.7 743.7 L541.3 743 L542 742.4 L542.6 742.3 L543.2 742.5 L543.8 742.7 L544.4 742.9 L545 742.8 L545.6 742.5 L546.3 742 L546.9 741.4 L547.5 740.2 L548.1 738.8 L548.7 737.3 L549.3 735.7 L550 734 L550.6 732.5 L551.2 731.2 L551.8 729.9 L552.4 728.9 L553 727.9 L553.6 727 L554.3 726.3 L554.9 725.8 L555.5 725.3 L556.1 724.8 L556.7 724.6 L557.3 724.5 L557.9 725 L558.6 725.8 L559.2 726.6 L559.8 727.3 L560.4 728.1 L561 728.8 L561.6 729.5 L562.2 730.2 L562.9 730.8 L563.5 731.4 L564.1 732.1 L564.7 732.8 L565.3 733.6 L565.9 734.3 L566.5 735.1 L567.2 735.9 L567.8 736.8 L568.4 737.8 L569 738.6 L569.6 739.4 L570.2 740.1 L570.9 740.8 L571.5 741.4 L572.1 741.9 L572.7 742.5 L573.3 742.9 L573.9 743.3 L574.5 743.8 L575.2 744.2 L575.8 744.6 L576.4 745.1 L577 745.5 L577.6 746 L578.2 746.3 L578.8 746.6 L579.5 746.9 L580.1 747.1 L580.7 747.3 L581.3 747.4 L581.3 747.4Z" fill="#68BD7D" stroke="none"/>
<path d="M535.2 747.4 L535.8 747.3 L536.4 747.2 L537 746.9 L537.7 746.6 L538.3 746.3 L538.9 745.7 L539.5 745 L540.1 744.3 L540.7 743.7 L541.3 743 L542 742.4 L542.6 742.3 L543.2 742.5 L543.8 742.7 L544.4 742.9 L545 742.8 L545.6 742.5 L546.3 742 L546.9 741.4 L547.5 740.2 L548.1 738.8 L548.7 737.3 L549.3 735.7 L550 734 L550.6 732.5 L551.2 731.2 L551.8 729.9 L552.4 728.9 L553 727.9 L553.6 727 L554.3 726.3 L554.9 725.8 L555.5 725.3 L556.1 724.8 L556.7 724.6 L557.3 724.5 L557.9 725 L558.6 725.8 L559.2 726.6 L559.8 727.3 L560.4 728.1 L561 728.8 L561.6 729.5 L562.2 730.2 L562.9 730.8 L563.5 731.4 L564.1 732.1 L564.7 732.8 L565.3 733.6 L565.9 734.3 L566.5 735.1 L567.2 735.9 L567.8 736.8 L568.4 737.8 L569 738.6 L569.6 739.4 L570.2 740.1 L570.9 740.8 L571.5 741.4 L572.1 741.9 L572.7 742.5 L573.3 742.9 L573.9 743.3 L574.5 743.8 L575.2 744.2 L575.8 744.6 L576.4 745.1 L577 745.5 L577.6 746 L578.2 746.3 L578.8 746.6 L579.5 746.9 L580.1 747.1 L580.7 747.3 L581.3 747.4 L657.9 747.4" fill="none" stroke="#111" stroke-width="0.95" stroke-linejoin="round"/>
<path d="M535.2 771.1 L535.2 771.1 L535.8 771 L536.4 770.8 L537 770.5 L537.7 770 L538.3 769.5 L538.9 768.4 L539.5 766.9 L540.1 765.6 L540.7 764.3 L541.3 763 L542 762.4 L542.6 762.6 L543.2 763.2 L543.8 763.8 L544.4 764.3 L545 764.8 L545.6 765.1 L546.3 764.6 L546.9 763.3 L547.5 761.9 L548.1 760.3 L548.7 758.6 L549.3 757.3 L549.9 756.2 L550.6 755.4 L551.2 754.9 L551.8 754.6 L552.4 754.3 L553 753.9 L553.6 753.3 L554.2 752.5 L554.9 751.8 L555.5 751 L556.1 750.3 L556.7 749.6 L557.3 749 L557.9 748.7 L558.5 748.4 L559.2 748.1 L559.8 747.9 L560.4 747.9 L561 748.2 L561.6 748.8 L562.2 749.5 L562.9 750.2 L563.5 751.2 L564.1 752.3 L564.7 753.5 L565.3 754.5 L565.9 755.4 L566.5 756.4 L567.2 757.3 L567.8 758.2 L568.4 759.1 L569 760 L569.6 760.8 L570.2 761.6 L570.8 762.4 L571.5 763.2 L572.1 763.9 L572.7 764.6 L573.3 765.3 L573.9 766 L574.5 766.6 L575.1 767.2 L575.8 767.7 L576.4 768.2 L577 768.7 L577.6 769.2 L578.2 769.7 L578.8 770 L579.4 770.3 L580.1 770.6 L580.7 770.8 L581.3 771 L581.9 771.1 L581.9 771.1Z" fill="#A2A326" stroke="none"/>
<path d="M535.2 771.1 L535.8 771 L536.4 770.8 L537 770.5 L537.7 770 L538.3 769.5 L538.9 768.4 L539.5 766.9 L540.1 765.6 L540.7 764.3 L541.3 763 L542 762.4 L542.6 762.6 L543.2 763.2 L543.8 763.8 L544.4 764.3 L545 764.8 L545.6 765.1 L546.3 764.6 L546.9 763.3 L547.5 761.9 L548.1 760.3 L548.7 758.6 L549.3 757.3 L549.9 756.2 L550.6 755.4 L551.2 754.9 L551.8 754.6 L552.4 754.3 L553 753.9 L553.6 753.3 L554.2 752.5 L554.9 751.8 L555.5 751 L556.1 750.3 L556.7 749.6 L557.3 749 L557.9 748.7 L558.5 748.4 L559.2 748.1 L559.8 747.9 L560.4 747.9 L561 748.2 L561.6 748.8 L562.2 749.5 L562.9 750.2 L563.5 751.2 L564.1 752.3 L564.7 753.5 L565.3 754.5 L565.9 755.4 L566.5 756.4 L567.2 757.3 L567.8 758.2 L568.4 759.1 L569 760 L569.6 760.8 L570.2 761.6 L570.8 762.4 L571.5 763.2 L572.1 763.9 L572.7 764.6 L573.3 765.3 L573.9 766 L574.5 766.6 L575.1 767.2 L575.8 767.7 L576.4 768.2 L577 768.7 L577.6 769.2 L578.2 769.7 L578.8 770 L579.4 770.3 L580.1 770.6 L580.7 770.8 L581.3 771 L581.9 771.1 L657.9 771.1" fill="none" stroke="#111" stroke-width="0.95" stroke-linejoin="round"/>
<path d="M535.2 794.6 L535.2 794.6 L535.8 794.6 L536.4 794.5 L537 794.5 L537.7 794.4 L538.3 794.4 L538.9 794.3 L539.5 794.2 L540.1 794.2 L540.7 794.1 L541.3 794 L542 793.9 L542.6 793.8 L543.2 793.7 L543.8 793.5 L544.4 793.2 L545 792.9 L545.6 792.4 L546.3 791.9 L546.9 791.1 L547.5 790.2 L548.1 789.4 L548.7 788.5 L549.3 787.7 L549.9 786.7 L550.6 785.7 L551.2 784.7 L551.8 783.5 L552.4 782.1 L553 780.6 L553.6 778.7 L554.2 777 L554.9 775.5 L555.5 774.1 L556.1 773 L556.7 772.4 L557.3 771.9 L557.9 771.6 L558.5 771.4 L559.2 771.4 L559.8 771.7 L560.4 772.1 L561 772.5 L561.6 773.1 L562.2 773.9 L562.8 774.9 L563.4 775.9 L564.1 777 L564.7 778.2 L565.3 779.3 L565.9 780.2 L566.5 781.1 L567.1 781.9 L567.7 782.6 L568.4 783.4 L569 784.2 L569.6 785 L570.2 785.7 L570.8 786.5 L571.4 787.2 L572 788 L572.7 788.8 L573.3 789.5 L573.9 790.3 L574.5 790.9 L575.1 791.5 L575.7 792.2 L576.3 792.7 L577 793.2 L577.6 793.5 L578.2 793.8 L578.8 794.1 L579.4 794.3 L580 794.4 L580.6 794.5 L581.3 794.5 L581.9 794.6 L582.5 794.6 L583.1 794.6 L583.1 794.6Z" fill="#DC756B" stroke="none"/>
<path d="M535.2 794.6 L535.8 794.6 L536.4 794.5 L537 794.5 L537.7 794.4 L538.3 794.4 L538.9 794.3 L539.5 794.2 L540.1 794.2 L540.7 794.1 L541.3 794 L542 793.9 L542.6 793.8 L543.2 793.7 L543.8 793.5 L544.4 793.2 L545 792.9 L545.6 792.4 L546.3 791.9 L546.9 791.1 L547.5 790.2 L548.1 789.4 L548.7 788.5 L549.3 787.7 L549.9 786.7 L550.6 785.7 L551.2 784.7 L551.8 783.5 L552.4 782.1 L553 780.6 L553.6 778.7 L554.2 777 L554.9 775.5 L555.5 774.1 L556.1 773 L556.7 772.4 L557.3 771.9 L557.9 771.6 L558.5 771.4 L559.2 771.4 L559.8 771.7 L560.4 772.1 L561 772.5 L561.6 773.1 L562.2 773.9 L562.8 774.9 L563.4 775.9 L564.1 777 L564.7 778.2 L565.3 779.3 L565.9 780.2 L566.5 781.1 L567.1 781.9 L567.7 782.6 L568.4 783.4 L569 784.2 L569.6 785 L570.2 785.7 L570.8 786.5 L571.4 787.2 L572 788 L572.7 788.8 L573.3 789.5 L573.9 790.3 L574.5 790.9 L575.1 791.5 L575.7 792.2 L576.3 792.7 L577 793.2 L577.6 793.5 L578.2 793.8 L578.8 794.1 L579.4 794.3 L580 794.4 L580.6 794.5 L581.3 794.5 L581.9 794.6 L582.5 794.6 L583.1 794.6 L657.9 794.6" fill="none" stroke="#111" stroke-width="0.95" stroke-linejoin="round"/>
</svg></body></html>
